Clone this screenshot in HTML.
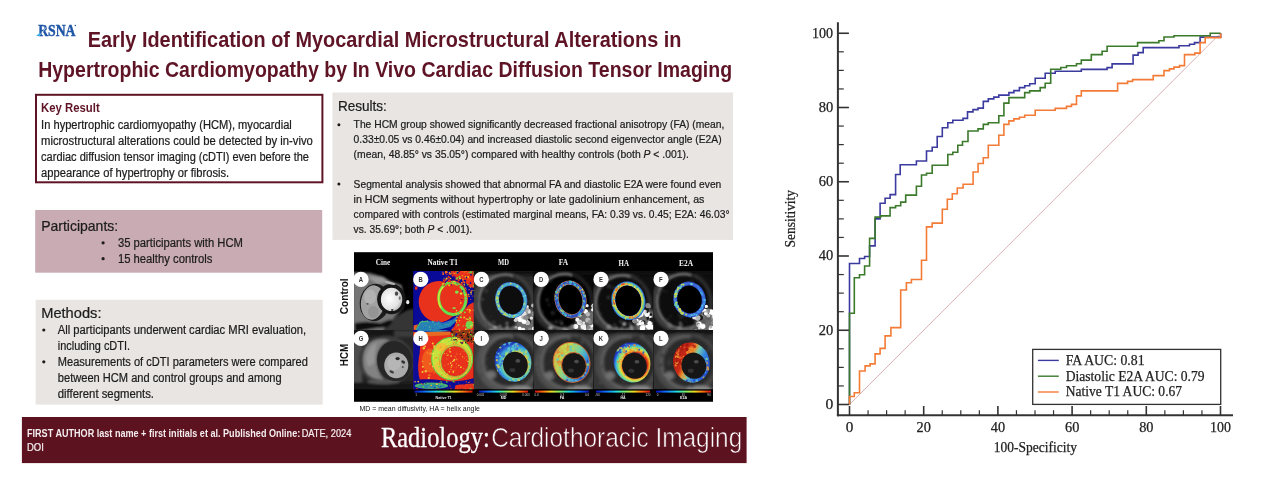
<!DOCTYPE html>
<html lang="en"><head><meta charset="utf-8"><title>Early Identification of Myocardial Microstructural Alterations in Hypertrophic Cardiomyopathy</title>
<style>
html,body{margin:0;padding:0;background:#fff;}
body{width:1269px;height:479px;overflow:hidden;position:relative;}
svg{display:block;position:absolute;left:0;top:0;}
.ss{font-family:"Liberation Sans", Arial, Helvetica, sans-serif;}
.sf{font-family:"Liberation Serif", "Times New Roman", serif;}
text{white-space:pre;}
</style></head><body>
<svg width="1269" height="479" viewBox="0 0 1269 479">
<rect x="0" y="0" width="1269" height="479" fill="#ffffff"/>

<g id="slide">
<text class="sf" x="38.2" y="35.8" font-size="16.80" font-weight="bold" fill="#1f55a6" textLength="37.3" lengthAdjust="spacingAndGlyphs" stroke="#1f55a6" stroke-width="0.45" >RSNA</text>
<path d="M39.6 35.2 Q43.5 31.5 46.6 26.6" fill="none" stroke="#ffffff" stroke-width="0.7" opacity="0.85"/>
<polygon points="35.9,36.1 40.1,32.4 40.1,36.1" fill="#41aee8"/>
<circle cx="75.3" cy="25.6" r="0.75" fill="#1f55a6"/>
<text class="ss" x="87.8" y="47.1" font-size="22.00" font-weight="bold" fill="#5f1426" textLength="593.6" lengthAdjust="spacingAndGlyphs" >Early Identification of Myocardial Microstructural Alterations in</text>
<text class="ss" x="38.2" y="77.2" font-size="22.00" font-weight="bold" fill="#5f1426" textLength="693.9" lengthAdjust="spacingAndGlyphs" >Hypertrophic Cardiomyopathy by In Vivo Cardiac Diffusion Tensor Imaging</text>
<rect x="36" y="94.8" width="286.4" height="87.5" fill="#ffffff" stroke="#5f1426" stroke-width="2"/>
<text class="ss" x="41.1" y="112.3" font-size="12.10" font-weight="bold" fill="#5f1426" textLength="58.6" lengthAdjust="spacingAndGlyphs" >Key Result</text>
<text class="ss" x="41.1" y="129.0" font-size="12.00" fill="#1c1c1c" textLength="250.7" lengthAdjust="spacingAndGlyphs" stroke="#1c1c1c" stroke-width="0.22" >In hypertrophic cardiomyopathy (HCM), myocardial</text>
<text class="ss" x="41.1" y="144.9" font-size="12.00" fill="#1c1c1c" textLength="271.7" lengthAdjust="spacingAndGlyphs" stroke="#1c1c1c" stroke-width="0.22" >microstructural alterations could be detected by in-vivo</text>
<text class="ss" x="41.1" y="160.8" font-size="12.00" fill="#1c1c1c" textLength="267.9" lengthAdjust="spacingAndGlyphs" stroke="#1c1c1c" stroke-width="0.22" >cardiac diffusion tensor imaging (cDTI) even before the</text>
<text class="ss" x="41.1" y="176.7" font-size="12.00" fill="#1c1c1c" textLength="188.1" lengthAdjust="spacingAndGlyphs" stroke="#1c1c1c" stroke-width="0.22" >appearance of hypertrophy or fibrosis.</text>
<rect x="35.2" y="210" width="287" height="62.7" fill="#c9abb3"/>
<text class="ss" x="41.2" y="230.9" font-size="14.50" fill="#1c1c1c" textLength="77.0" lengthAdjust="spacingAndGlyphs" stroke="#1c1c1c" stroke-width="0.22" >Participants:</text>
<circle cx="103.1" cy="242.8" r="1.6" fill="#1c1c1c"/>
<circle cx="103.1" cy="258.7" r="1.6" fill="#1c1c1c"/>
<text class="ss" x="117.9" y="247.0" font-size="12.00" fill="#1c1c1c" textLength="125.1" lengthAdjust="spacingAndGlyphs" stroke="#1c1c1c" stroke-width="0.22" >35 participants with HCM</text>
<text class="ss" x="117.9" y="262.7" font-size="12.00" fill="#1c1c1c" textLength="94.6" lengthAdjust="spacingAndGlyphs" stroke="#1c1c1c" stroke-width="0.22" >15 healthy controls</text>
<rect x="35.6" y="299.8" width="287.1" height="104.8" fill="#e9e5e3"/>
<text class="ss" x="41.2" y="318.2" font-size="14.50" fill="#1c1c1c" textLength="60.3" lengthAdjust="spacingAndGlyphs" stroke="#1c1c1c" stroke-width="0.22" >Methods:</text>
<text class="ss" x="57.8" y="334.3" font-size="12.00" fill="#1c1c1c" textLength="248.3" lengthAdjust="spacingAndGlyphs" stroke="#1c1c1c" stroke-width="0.22" >All participants underwent cardiac MRI evaluation,</text>
<text class="ss" x="57.8" y="350.2" font-size="12.00" fill="#1c1c1c" textLength="72.2" lengthAdjust="spacingAndGlyphs" stroke="#1c1c1c" stroke-width="0.22" >including cDTI.</text>
<text class="ss" x="57.8" y="366.1" font-size="12.00" fill="#1c1c1c" textLength="250.0" lengthAdjust="spacingAndGlyphs" stroke="#1c1c1c" stroke-width="0.22" >Measurements of cDTI parameters were compared</text>
<text class="ss" x="57.8" y="382.0" font-size="12.00" fill="#1c1c1c" textLength="223.9" lengthAdjust="spacingAndGlyphs" stroke="#1c1c1c" stroke-width="0.22" >between HCM and control groups and among</text>
<text class="ss" x="57.8" y="397.9" font-size="12.00" fill="#1c1c1c" textLength="96.2" lengthAdjust="spacingAndGlyphs" stroke="#1c1c1c" stroke-width="0.22" >different segments.</text>
<circle cx="43.8" cy="330.0" r="1.6" fill="#1c1c1c"/>
<circle cx="43.8" cy="361.8" r="1.6" fill="#1c1c1c"/>
<rect x="332.5" y="92.5" width="400.5" height="147.4" fill="#e9e5e3"/>
<text class="ss" x="337.9" y="110.9" font-size="14.50" fill="#1c1c1c" textLength="49.0" lengthAdjust="spacingAndGlyphs" stroke="#1c1c1c" stroke-width="0.22" >Results:</text>
<text class="ss" x="353.6" y="128.4" font-size="11.10" fill="#1c1c1c" textLength="370.8" lengthAdjust="spacingAndGlyphs" stroke="#1c1c1c" stroke-width="0.22" >The HCM group showed significantly decreased fractional anisotropy (FA) (mean,</text>
<text class="ss" x="353.6" y="143.3" font-size="11.10" fill="#1c1c1c" textLength="368.0" lengthAdjust="spacingAndGlyphs" stroke="#1c1c1c" stroke-width="0.22" >0.33±0.05 vs 0.46±0.04) and increased diastolic second eigenvector angle (E2A)</text>
<text class="ss" x="353.6" y="158.3" font-size="11.10" fill="#1c1c1c" textLength="335.2" lengthAdjust="spacingAndGlyphs" stroke="#1c1c1c" stroke-width="0.22" >(mean, 48.85° vs 35.05°) compared with healthy controls (both <tspan font-style="italic">P</tspan> &lt; .001).</text>
<text class="ss" x="353.6" y="187.6" font-size="11.10" fill="#1c1c1c" textLength="367.7" lengthAdjust="spacingAndGlyphs" stroke="#1c1c1c" stroke-width="0.22" >Segmental analysis showed that abnormal FA and diastolic E2A were found even</text>
<text class="ss" x="353.6" y="202.6" font-size="11.10" fill="#1c1c1c" textLength="350.8" lengthAdjust="spacingAndGlyphs" stroke="#1c1c1c" stroke-width="0.22" >in HCM segments without hypertrophy or late gadolinium enhancement, as</text>
<text class="ss" x="353.6" y="217.6" font-size="11.10" fill="#1c1c1c" textLength="375.9" lengthAdjust="spacingAndGlyphs" stroke="#1c1c1c" stroke-width="0.22" >compared with controls (estimated marginal means, FA: 0.39 vs. 0.45; E2A: 46.03°</text>
<text class="ss" x="353.6" y="232.5" font-size="11.10" fill="#1c1c1c" textLength="118.6" lengthAdjust="spacingAndGlyphs" stroke="#1c1c1c" stroke-width="0.22" >vs. 35.69°; both <tspan font-style="italic">P</tspan> &lt; .001).</text>
<circle cx="338.9" cy="124.8" r="1.5" fill="#1c1c1c"/>
<circle cx="338.9" cy="184.0" r="1.5" fill="#1c1c1c"/>
<rect x="21.9" y="417" width="724.7" height="46.1" fill="#5d1220"/>
<text class="ss" x="27.0" y="436.9" font-size="10.20" font-weight="bold" fill="#f4eeee" textLength="273.2" lengthAdjust="spacingAndGlyphs" >FIRST AUTHOR last name + first initials et al. Published Online:</text>
<text class="ss" x="301.7" y="436.9" font-size="10.20" fill="#f4eeee" textLength="49.6" lengthAdjust="spacingAndGlyphs" stroke="#f4eeee" stroke-width="0.22" >DATE, 2024</text>
<text class="ss" x="27.0" y="450.7" font-size="10.20" fill="#f4eeee" textLength="16.9" lengthAdjust="spacingAndGlyphs" stroke="#f4eeee" stroke-width="0.22" >DOI</text>
<text class="sf" x="380.9" y="447.4" font-size="30.20" fill="#ffffff" textLength="108.8" lengthAdjust="spacingAndGlyphs" stroke="#ffffff" stroke-width="0.28" >Radiology:</text>
<text class="ss" x="491.2" y="447.4" font-size="28.00" fill="#ffffff" textLength="251.1" lengthAdjust="spacingAndGlyphs" stroke="#5d1220" stroke-width="0.7">Cardiothoracic Imaging</text>
<text class="ss" x="359.4" y="411.3" font-size="6.60" fill="#111" textLength="120.5" lengthAdjust="spacingAndGlyphs" >MD = mean diffusivity, HA = helix angle</text>
</g>
<g id="mri">
<defs>
<filter id="b03" x="-20%" y="-20%" width="140%" height="140%"><feGaussianBlur stdDeviation="0.35"/></filter>
<filter id="b06" x="-20%" y="-20%" width="140%" height="140%"><feGaussianBlur stdDeviation="0.6"/></filter>
<filter id="b1" x="-30%" y="-30%" width="160%" height="160%"><feGaussianBlur stdDeviation="1"/></filter>
<filter id="b15" x="-30%" y="-30%" width="160%" height="160%"><feGaussianBlur stdDeviation="1.6"/></filter>
<filter id="z3" x="-20%" y="-20%" width="140%" height="140%"><feGaussianBlur stdDeviation="3"/></filter>
<filter id="z6" x="-20%" y="-20%" width="140%" height="140%"><feGaussianBlur stdDeviation="6"/></filter>
<filter id="z10" x="-30%" y="-30%" width="160%" height="160%"><feGaussianBlur stdDeviation="10"/></filter>
<linearGradient id="jet" x1="0" x2="1" y1="0" y2="0">
<stop offset="0" stop-color="#0a10b0"/><stop offset="0.18" stop-color="#1070ff"/><stop offset="0.38" stop-color="#20e0e0"/><stop offset="0.55" stop-color="#80f060"/><stop offset="0.7" stop-color="#f0e020"/><stop offset="0.85" stop-color="#ff7010"/><stop offset="1" stop-color="#d01010"/></linearGradient>
<linearGradient id="jetr" x1="1" x2="0" y1="0" y2="0">
<stop offset="0" stop-color="#0a10b0"/><stop offset="0.18" stop-color="#1070ff"/><stop offset="0.38" stop-color="#20e0e0"/><stop offset="0.55" stop-color="#80f060"/><stop offset="0.7" stop-color="#f0e020"/><stop offset="0.85" stop-color="#ff7010"/><stop offset="1" stop-color="#d01010"/></linearGradient>
<radialGradient id="lvA" cx="0.4" cy="0.45" r="0.65"><stop offset="0" stop-color="#ffffff"/><stop offset="0.7" stop-color="#e2e2e2"/><stop offset="1" stop-color="#b0b0b0"/></radialGradient>

<clipPath id="cA"><rect x="354.0" y="271.0" width="59.1" height="59.0"/></clipPath>
<clipPath id="cB"><rect x="413.1" y="271.0" width="60.7" height="59.0"/></clipPath>
<clipPath id="cC"><rect x="473.8" y="271.0" width="59.8" height="59.0"/></clipPath>
<clipPath id="cD"><rect x="533.6" y="271.0" width="59.7" height="59.0"/></clipPath>
<clipPath id="cE"><rect x="593.3" y="271.0" width="60.0" height="59.0"/></clipPath>
<clipPath id="cF"><rect x="653.3" y="271.0" width="59.7" height="59.0"/></clipPath>
<clipPath id="cG"><rect x="354.0" y="330.0" width="59.1" height="59.3"/></clipPath>
<clipPath id="cH"><rect x="413.1" y="330.0" width="60.7" height="59.3"/></clipPath>
<clipPath id="cI"><rect x="473.8" y="330.0" width="59.8" height="59.3"/></clipPath>
<clipPath id="cJ"><rect x="533.6" y="330.0" width="59.7" height="59.3"/></clipPath>
<clipPath id="cK"><rect x="593.3" y="330.0" width="60.0" height="59.3"/></clipPath>
<clipPath id="cL"><rect x="653.3" y="330.0" width="59.7" height="59.3"/></clipPath>
</defs>
<rect x="354.0" y="252.2" width="359.0" height="149.6" fill="#000"/>
<g clip-path="url(#cA)">
<rect x="354.0" y="271.0" width="59.1" height="59.0" fill="#000"/>
<g transform="translate(350,268) scale(0.13369)">
<g filter="url(#z6)">
<path d="M20 30 L150 38 L250 66 L300 98 L385 128 L400 200 L396 300 L330 370 L300 490 L20 490 Z" fill="#747474"/>
<path d="M120 60 L250 70 L290 110 L200 118 Z" fill="#9a9a9a"/>
<path d="M345 360 L430 315 L500 300 L500 490 L245 490 L262 425 Z" fill="#343434"/>
<path d="M35 412 L120 402 L230 412 L300 386 L318 402 L285 442 L200 448 L60 474 L35 474 Z" fill="#0a0a0a"/>
</g>
<g filter="url(#z3)">
<ellipse cx="185" cy="258" rx="112" ry="140" fill="#1c1c1c" transform="rotate(8 185 258)"/>
<ellipse cx="170" cy="258" rx="88" ry="129" fill="#a2a2a2" transform="rotate(8 170 258)"/>
<ellipse cx="150" cy="215" rx="45" ry="55" fill="#b2b2b2"/>
<ellipse cx="175" cy="330" rx="40" ry="45" fill="#949494"/>
<ellipse cx="310" cy="233" rx="107" ry="113" fill="#151515"/>
<ellipse cx="311" cy="235" rx="80" ry="87" fill="url(#lvA)"/>
<ellipse cx="348" cy="192" rx="13" ry="16" fill="#4a4a4a"/>
<ellipse cx="372" cy="225" rx="8" ry="14" fill="#777"/>
<ellipse cx="316" cy="314" rx="10" ry="7" fill="#444"/>
<ellipse cx="131" cy="268" rx="9" ry="7" fill="#505050"/>
<ellipse cx="432" cy="256" rx="12" ry="16" fill="#eaeaea"/>
<ellipse cx="300" cy="112" rx="40" ry="10" fill="#b0b0b0" transform="rotate(15 300 112)"/>
</g>
</g>
</g>
<g clip-path="url(#cG)">
<rect x="354.0" y="330.0" width="59.1" height="59.3" fill="#262626"/>
<g transform="translate(350,327) scale(0.13369)">
<g filter="url(#z6)">
<rect x="20" y="15" width="480" height="55" fill="#161616"/>
<rect x="330" y="25" width="150" height="50" fill="#3a3a3a"/>
<rect x="20" y="90" width="70" height="330" fill="#4e4e4e"/>
<ellipse cx="270" cy="250" rx="205" ry="185" fill="#3a3a3a"/>
<rect x="20" y="415" width="480" height="60" fill="#161616"/>
<ellipse cx="250" cy="410" rx="120" ry="18" fill="#555"/>
</g>
<g filter="url(#z6)">
<path d="M95 250 Q95 130 190 95 Q260 78 300 100 Q215 130 200 230 Q195 330 255 395 Q150 400 110 330 Q95 295 95 250 Z" fill="#828282"/>
<path d="M120 230 Q135 150 200 115 Q180 200 185 260 Q160 300 130 290 Z" fill="#969696"/>
</g>
<g filter="url(#z3)">
<ellipse cx="335" cy="255" rx="132" ry="150" fill="#272727" transform="rotate(-10 335 255)"/>
<ellipse cx="346" cy="287" rx="90" ry="96" fill="#ababab"/>
<ellipse cx="330" cy="270" rx="50" ry="55" fill="#b6b6b6"/>
<ellipse cx="356" cy="236" rx="16" ry="12" fill="#2a2a2a"/>
<ellipse cx="398" cy="262" rx="16" ry="10" fill="#333" transform="rotate(30 398 262)"/>
<ellipse cx="312" cy="336" rx="18" ry="9" fill="#3a3a3a" transform="rotate(25 312 336)"/>
<ellipse cx="395" cy="300" rx="8" ry="8" fill="#555"/>
</g>
</g>
</g>
<g clip-path="url(#cB)">
<rect x="413.1" y="271.0" width="60.7" height="59.0" fill="#0a0a98"/>
<g transform="translate(410,268) scale(0.13369)">
<g filter="url(#z3)">
<path d="M300 20 L480 20 L480 150 L440 140 L410 90 L340 70 Z" fill="#e8301c"/>
<path d="M480 255 L440 275 L400 320 L360 365 L330 440 L300 470 L480 470 Z" fill="#e8301c"/>
<ellipse cx="215" cy="252" rx="150" ry="155" fill="#e8301c"/>
<ellipse cx="318" cy="228" rx="116" ry="134" fill="#e8301c"/>
<ellipse cx="316" cy="228" rx="101" ry="120" fill="none" stroke="#62e04e" stroke-width="21" transform="rotate(-8 316 228)"/>
<path d="M232 300 A101 120 -8 0 1 250 140" fill="none" stroke="#d2e636" stroke-width="12"/>
<ellipse cx="350" cy="180" rx="14" ry="12" fill="#80e050"/>
<ellipse cx="382" cy="192" rx="10" ry="8" fill="#d0e040"/>
<ellipse cx="330" cy="300" rx="14" ry="7" fill="#80e050"/>
<ellipse cx="380" cy="262" rx="6" ry="9" fill="#f0a030"/>
<path d="M40 466 L75 402 L135 394 L250 410 L320 386 L356 358 L342 402 L300 442 L200 466 Z" fill="#2682b4"/>
<path d="M44 462 L78 404 L135 396" fill="none" stroke="#58d058" stroke-width="7"/>
<path d="M135 396 L250 412 L320 388 L354 360" fill="none" stroke="#3a50c8" stroke-width="5"/>
<path d="M27 430 L60 420 L40 466 L27 466 Z" fill="#e86020"/>
<ellipse cx="445" cy="425" rx="28" ry="30" fill="#70d850"/>
<ellipse cx="46" cy="150" rx="10" ry="14" fill="#e8301c"/>
</g>
</g>
<g filter="url(#b03)" opacity="1.00"><circle cx="457.0" cy="279.4" r="1.1" fill="#ff6a1a"/><circle cx="457.0" cy="283.8" r="0.6" fill="#0a0a98"/><circle cx="458.8" cy="280.4" r="1.0" fill="#e8301c"/><circle cx="456.8" cy="273.1" r="0.8" fill="#60d040"/><circle cx="462.6" cy="279.9" r="0.7" fill="#ff6a1a"/><circle cx="463.2" cy="280.2" r="0.6" fill="#e8301c"/><circle cx="468.6" cy="271.9" r="0.5" fill="#e8301c"/><circle cx="461.5" cy="282.7" r="0.7" fill="#f0c020"/><circle cx="469.0" cy="278.8" r="0.9" fill="#ff6a1a"/><circle cx="443.2" cy="272.3" r="0.9" fill="#ff6a1a"/><circle cx="473.7" cy="285.9" r="1.0" fill="#60d040"/><circle cx="450.9" cy="282.4" r="0.8" fill="#e8301c"/><circle cx="445.3" cy="282.5" r="0.7" fill="#0a0a98"/><circle cx="452.0" cy="272.0" r="0.5" fill="#60d040"/><circle cx="443.1" cy="274.1" r="1.0" fill="#ff6a1a"/><circle cx="454.6" cy="281.6" r="0.8" fill="#f0c020"/><circle cx="462.4" cy="282.7" r="0.7" fill="#e8301c"/><circle cx="452.7" cy="271.2" r="0.7" fill="#e8301c"/><circle cx="447.2" cy="281.6" r="0.5" fill="#ff6a1a"/><circle cx="467.6" cy="273.7" r="0.8" fill="#ff6a1a"/><circle cx="458.7" cy="285.8" r="1.0" fill="#ff6a1a"/><circle cx="462.9" cy="272.7" r="0.8" fill="#e8301c"/><circle cx="443.1" cy="284.0" r="1.1" fill="#f0c020"/><circle cx="452.4" cy="284.3" r="0.6" fill="#ff6a1a"/><circle cx="473.7" cy="280.0" r="0.8" fill="#e8301c"/><circle cx="473.5" cy="274.2" r="0.7" fill="#0a0a98"/><circle cx="461.8" cy="283.5" r="0.7" fill="#e8301c"/><circle cx="445.9" cy="279.7" r="0.6" fill="#f0c020"/><circle cx="454.4" cy="280.3" r="0.6" fill="#f0c020"/><circle cx="458.0" cy="279.6" r="1.0" fill="#e8301c"/><circle cx="462.4" cy="275.7" r="0.6" fill="#f0c020"/><circle cx="450.8" cy="273.8" r="0.9" fill="#f0c020"/><circle cx="449.1" cy="285.3" r="1.0" fill="#f0c020"/><circle cx="445.5" cy="271.7" r="0.6" fill="#f0c020"/><circle cx="472.7" cy="274.6" r="0.9" fill="#e8301c"/><circle cx="456.0" cy="284.6" r="0.8" fill="#f0c020"/><circle cx="448.5" cy="281.8" r="0.5" fill="#e8301c"/><circle cx="457.8" cy="280.8" r="0.9" fill="#e8301c"/><circle cx="451.7" cy="284.8" r="0.6" fill="#e8301c"/><circle cx="445.2" cy="277.2" r="0.6" fill="#e8301c"/><circle cx="448.5" cy="276.5" r="0.8" fill="#e8301c"/><circle cx="445.9" cy="273.1" r="0.8" fill="#e8301c"/><circle cx="463.3" cy="281.4" r="0.9" fill="#e8301c"/><circle cx="461.2" cy="284.9" r="0.8" fill="#e8301c"/><circle cx="464.6" cy="285.4" r="0.5" fill="#60d040"/><circle cx="445.4" cy="272.0" r="0.7" fill="#e8301c"/><circle cx="473.8" cy="272.1" r="0.8" fill="#60d040"/><circle cx="444.5" cy="285.0" r="0.9" fill="#e8301c"/><circle cx="467.5" cy="284.7" r="0.7" fill="#60d040"/><circle cx="457.6" cy="272.2" r="1.0" fill="#0a0a98"/><circle cx="444.0" cy="278.5" r="0.5" fill="#60d040"/><circle cx="454.8" cy="279.7" r="0.9" fill="#e8301c"/><circle cx="445.9" cy="272.7" r="0.7" fill="#ff6a1a"/><circle cx="465.5" cy="276.8" r="0.9" fill="#f0c020"/><circle cx="457.2" cy="277.9" r="0.8" fill="#f0c020"/><circle cx="466.1" cy="271.4" r="0.9" fill="#ff6a1a"/><circle cx="443.8" cy="285.4" r="0.6" fill="#0a0a98"/><circle cx="462.0" cy="284.8" r="0.7" fill="#e8301c"/><circle cx="454.4" cy="273.1" r="0.9" fill="#f0c020"/><circle cx="448.3" cy="284.6" r="0.9" fill="#ff6a1a"/><circle cx="458.4" cy="274.6" r="0.7" fill="#e8301c"/><circle cx="449.2" cy="277.5" r="1.0" fill="#e8301c"/><circle cx="470.1" cy="276.8" r="0.8" fill="#e8301c"/><circle cx="449.5" cy="273.0" r="0.7" fill="#0a0a98"/><circle cx="444.3" cy="272.0" r="1.1" fill="#0a0a98"/><circle cx="448.3" cy="277.8" r="0.7" fill="#e8301c"/><circle cx="468.6" cy="276.7" r="0.8" fill="#60d040"/><circle cx="452.8" cy="283.6" r="1.1" fill="#ff6a1a"/><circle cx="452.9" cy="283.4" r="0.7" fill="#f0c020"/><circle cx="444.4" cy="281.6" r="0.8" fill="#e8301c"/><circle cx="463.0" cy="279.5" r="0.9" fill="#ff6a1a"/><circle cx="457.1" cy="271.4" r="1.0" fill="#e8301c"/><circle cx="467.0" cy="283.0" r="1.1" fill="#e8301c"/><circle cx="456.8" cy="280.4" r="0.9" fill="#0a0a98"/><circle cx="454.4" cy="272.2" r="0.6" fill="#0a0a98"/><circle cx="457.7" cy="273.7" r="0.5" fill="#ff6a1a"/><circle cx="459.5" cy="271.5" r="0.6" fill="#0a0a98"/><circle cx="453.7" cy="281.5" r="0.8" fill="#f0c020"/><circle cx="473.7" cy="273.4" r="1.0" fill="#60d040"/><circle cx="470.9" cy="272.3" r="1.1" fill="#60d040"/><circle cx="455.0" cy="277.8" r="0.6" fill="#e8301c"/><circle cx="454.7" cy="279.5" r="1.0" fill="#0a0a98"/><circle cx="468.3" cy="276.1" r="0.7" fill="#e8301c"/><circle cx="446.1" cy="284.0" r="1.0" fill="#60d040"/><circle cx="446.9" cy="274.6" r="0.7" fill="#e8301c"/><circle cx="473.1" cy="279.1" r="1.0" fill="#e8301c"/><circle cx="451.1" cy="281.8" r="0.5" fill="#f0c020"/><circle cx="445.6" cy="277.6" r="0.8" fill="#0a0a98"/><circle cx="451.6" cy="284.8" r="0.6" fill="#0a0a98"/><circle cx="445.1" cy="283.0" r="0.6" fill="#e8301c"/><circle cx="464.2" cy="284.7" r="0.8" fill="#f0c020"/><circle cx="470.7" cy="278.8" r="0.9" fill="#ff6a1a"/><circle cx="472.1" cy="278.4" r="1.1" fill="#e8301c"/><circle cx="466.4" cy="277.6" r="0.8" fill="#0a0a98"/><circle cx="465.5" cy="280.6" r="0.8" fill="#0a0a98"/><circle cx="471.0" cy="274.8" r="0.9" fill="#0a0a98"/><circle cx="469.8" cy="280.1" r="0.7" fill="#e8301c"/><circle cx="472.8" cy="278.9" r="0.8" fill="#e8301c"/><circle cx="455.7" cy="272.7" r="0.5" fill="#ff6a1a"/><circle cx="444.0" cy="285.5" r="0.8" fill="#ff6a1a"/><circle cx="459.8" cy="285.8" r="0.6" fill="#e8301c"/><circle cx="464.3" cy="272.0" r="0.8" fill="#ff6a1a"/><circle cx="471.4" cy="283.0" r="0.7" fill="#e8301c"/><circle cx="457.6" cy="272.9" r="0.8" fill="#0a0a98"/><circle cx="471.8" cy="284.8" r="0.8" fill="#e8301c"/><circle cx="449.0" cy="280.3" r="1.1" fill="#e8301c"/><circle cx="464.7" cy="285.7" r="0.5" fill="#e8301c"/><circle cx="450.1" cy="281.3" r="0.7" fill="#e8301c"/><circle cx="450.6" cy="278.5" r="0.8" fill="#f0c020"/><circle cx="446.9" cy="278.7" r="0.7" fill="#e8301c"/><circle cx="464.6" cy="284.2" r="0.5" fill="#60d040"/><circle cx="455.8" cy="278.9" r="0.6" fill="#e8301c"/><circle cx="469.6" cy="279.0" r="0.6" fill="#e8301c"/><circle cx="469.2" cy="280.2" r="1.0" fill="#e8301c"/><circle cx="471.2" cy="280.4" r="0.7" fill="#e8301c"/><circle cx="452.8" cy="275.7" r="1.1" fill="#e8301c"/><circle cx="467.0" cy="273.9" r="0.6" fill="#e8301c"/><circle cx="447.2" cy="272.3" r="0.7" fill="#ff6a1a"/><circle cx="468.6" cy="277.3" r="1.0" fill="#e8301c"/><circle cx="449.3" cy="280.4" r="1.0" fill="#e8301c"/><circle cx="449.3" cy="281.2" r="1.0" fill="#e8301c"/><circle cx="446.6" cy="278.6" r="1.0" fill="#f0c020"/><circle cx="473.8" cy="283.5" r="1.0" fill="#ff6a1a"/><circle cx="446.4" cy="271.6" r="0.8" fill="#f0c020"/><circle cx="470.9" cy="278.2" r="0.6" fill="#e8301c"/><circle cx="449.4" cy="283.6" r="1.1" fill="#60d040"/><circle cx="446.0" cy="271.9" r="1.1" fill="#ff6a1a"/><circle cx="445.5" cy="272.5" r="0.7" fill="#ff6a1a"/><circle cx="458.9" cy="277.5" r="0.9" fill="#e8301c"/><circle cx="462.6" cy="271.6" r="0.6" fill="#ff6a1a"/><circle cx="457.0" cy="282.1" r="0.7" fill="#e8301c"/><circle cx="461.7" cy="272.4" r="1.0" fill="#e8301c"/><circle cx="470.5" cy="283.0" r="0.9" fill="#0a0a98"/><circle cx="471.0" cy="285.1" r="0.8" fill="#e8301c"/><circle cx="458.6" cy="285.7" r="1.0" fill="#e8301c"/><circle cx="451.7" cy="272.7" r="0.9" fill="#e8301c"/><circle cx="468.1" cy="277.1" r="1.0" fill="#f0c020"/><circle cx="464.4" cy="282.5" r="1.0" fill="#ff6a1a"/><circle cx="449.4" cy="273.8" r="1.0" fill="#e8301c"/><circle cx="457.5" cy="271.2" r="0.7" fill="#60d040"/><circle cx="470.8" cy="271.7" r="0.7" fill="#60d040"/><circle cx="452.3" cy="274.2" r="0.7" fill="#e8301c"/><circle cx="459.5" cy="276.8" r="1.1" fill="#60d040"/><circle cx="449.6" cy="272.8" r="0.7" fill="#f0c020"/><circle cx="443.8" cy="280.2" r="0.9" fill="#e8301c"/><circle cx="456.7" cy="278.6" r="1.0" fill="#60d040"/><circle cx="454.6" cy="272.5" r="0.7" fill="#e8301c"/><circle cx="460.0" cy="278.6" r="1.1" fill="#f0c020"/><circle cx="469.1" cy="272.5" r="0.8" fill="#60d040"/><circle cx="445.4" cy="280.0" r="1.0" fill="#e8301c"/></g>
<g filter="url(#b03)" opacity="1.00"><circle cx="466.0" cy="299.9" r="0.6" fill="#ff6a1a"/><circle cx="472.0" cy="292.8" r="0.7" fill="#0a0a98"/><circle cx="473.1" cy="290.6" r="0.7" fill="#f0c020"/><circle cx="465.7" cy="288.1" r="0.7" fill="#f0c020"/><circle cx="469.5" cy="296.5" r="0.4" fill="#ff6a1a"/><circle cx="468.5" cy="294.4" r="0.6" fill="#0a0a98"/><circle cx="461.8" cy="288.7" r="0.6" fill="#f0c020"/><circle cx="462.0" cy="299.3" r="0.6" fill="#0a0a98"/><circle cx="464.3" cy="296.6" r="0.4" fill="#e8301c"/><circle cx="473.0" cy="296.0" r="0.6" fill="#ff6a1a"/><circle cx="468.8" cy="285.1" r="0.7" fill="#0a0a98"/><circle cx="462.6" cy="298.5" r="0.6" fill="#ff6a1a"/><circle cx="462.7" cy="291.0" r="0.7" fill="#0a0a98"/><circle cx="468.7" cy="294.5" r="0.7" fill="#f0c020"/><circle cx="471.0" cy="292.6" r="0.9" fill="#f0c020"/><circle cx="470.4" cy="287.3" r="0.5" fill="#f0c020"/><circle cx="471.1" cy="294.2" r="0.6" fill="#f0c020"/><circle cx="468.8" cy="296.1" r="0.7" fill="#ff6a1a"/><circle cx="469.1" cy="296.6" r="0.5" fill="#ff6a1a"/><circle cx="467.5" cy="294.8" r="0.5" fill="#e8301c"/><circle cx="469.1" cy="283.2" r="0.5" fill="#e8301c"/><circle cx="469.0" cy="284.8" r="0.7" fill="#e8301c"/><circle cx="470.7" cy="299.4" r="0.5" fill="#ff6a1a"/><circle cx="469.1" cy="289.7" r="0.6" fill="#ff6a1a"/><circle cx="465.4" cy="291.9" r="0.5" fill="#e8301c"/><circle cx="471.3" cy="291.1" r="0.8" fill="#ff6a1a"/><circle cx="466.7" cy="296.5" r="0.6" fill="#ff6a1a"/><circle cx="465.8" cy="294.8" r="0.9" fill="#f0c020"/><circle cx="464.8" cy="296.7" r="0.8" fill="#ff6a1a"/><circle cx="466.5" cy="289.6" r="0.4" fill="#f0c020"/></g>
<g filter="url(#b03)" opacity="1.00"><circle cx="456.6" cy="310.7" r="0.7" fill="#f0e040"/><circle cx="470.3" cy="318.7" r="0.9" fill="#f0c020"/><circle cx="456.5" cy="313.5" r="0.8" fill="#f0c020"/><circle cx="468.1" cy="319.4" r="0.9" fill="#70e040"/><circle cx="460.4" cy="312.0" r="0.6" fill="#70e040"/><circle cx="462.0" cy="311.5" r="0.8" fill="#70e040"/><circle cx="463.3" cy="325.9" r="0.6" fill="#70e040"/><circle cx="459.2" cy="329.3" r="0.8" fill="#ff8a1a"/><circle cx="456.7" cy="326.4" r="0.4" fill="#f0e040"/><circle cx="466.0" cy="325.7" r="0.8" fill="#70e040"/><circle cx="470.0" cy="320.4" r="0.9" fill="#ff8a1a"/><circle cx="458.4" cy="324.9" r="0.9" fill="#70e040"/><circle cx="470.3" cy="313.6" r="0.4" fill="#ff8a1a"/><circle cx="465.7" cy="329.3" r="0.8" fill="#f0e040"/><circle cx="456.3" cy="320.5" r="0.9" fill="#f0c020"/><circle cx="461.4" cy="314.7" r="0.5" fill="#70e040"/><circle cx="456.7" cy="322.3" r="0.5" fill="#f0e040"/><circle cx="459.7" cy="313.6" r="0.9" fill="#70e040"/><circle cx="469.4" cy="317.3" r="0.6" fill="#70e040"/><circle cx="467.7" cy="319.4" r="0.7" fill="#f0c020"/><circle cx="468.3" cy="328.2" r="0.6" fill="#70e040"/><circle cx="471.1" cy="325.9" r="0.9" fill="#f0e040"/><circle cx="473.0" cy="322.4" r="0.7" fill="#f0c020"/><circle cx="470.1" cy="317.9" r="0.7" fill="#ff8a1a"/><circle cx="459.7" cy="312.4" r="0.8" fill="#ff8a1a"/><circle cx="461.1" cy="317.2" r="0.7" fill="#70e040"/><circle cx="473.2" cy="310.2" r="0.6" fill="#f0c020"/><circle cx="460.8" cy="312.3" r="1.0" fill="#f0c020"/><circle cx="469.2" cy="309.4" r="0.7" fill="#f0c020"/><circle cx="460.9" cy="313.2" r="0.6" fill="#ff8a1a"/><circle cx="466.3" cy="318.9" r="0.7" fill="#f0e040"/><circle cx="458.6" cy="314.9" r="0.5" fill="#70e040"/><circle cx="466.8" cy="328.8" r="0.7" fill="#70e040"/><circle cx="464.2" cy="317.5" r="1.0" fill="#f0c020"/><circle cx="464.1" cy="313.6" r="0.4" fill="#ff8a1a"/><circle cx="470.1" cy="317.1" r="0.7" fill="#70e040"/><circle cx="469.8" cy="310.2" r="1.0" fill="#f0c020"/><circle cx="471.4" cy="328.0" r="0.7" fill="#ff8a1a"/><circle cx="468.4" cy="321.7" r="0.5" fill="#ff8a1a"/><circle cx="469.5" cy="312.0" r="0.9" fill="#ff8a1a"/><circle cx="467.0" cy="329.9" r="0.6" fill="#f0c020"/><circle cx="457.9" cy="325.2" r="0.4" fill="#ff8a1a"/><circle cx="470.5" cy="310.7" r="0.6" fill="#f0c020"/><circle cx="471.7" cy="323.6" r="0.4" fill="#70e040"/><circle cx="455.5" cy="312.9" r="0.5" fill="#f0c020"/><circle cx="469.7" cy="318.2" r="0.4" fill="#f0e040"/><circle cx="464.9" cy="312.3" r="0.9" fill="#70e040"/><circle cx="461.0" cy="317.5" r="0.7" fill="#f0e040"/><circle cx="467.6" cy="310.4" r="0.4" fill="#ff8a1a"/><circle cx="457.1" cy="317.3" r="0.7" fill="#f0c020"/><circle cx="467.3" cy="309.3" r="0.6" fill="#f0e040"/><circle cx="459.5" cy="320.8" r="0.7" fill="#f0c020"/><circle cx="471.1" cy="326.7" r="0.8" fill="#ff8a1a"/><circle cx="460.5" cy="316.9" r="0.7" fill="#70e040"/><circle cx="472.9" cy="324.9" r="0.7" fill="#f0c020"/></g>
<g filter="url(#b03)" opacity="1.00"><circle cx="427.8" cy="322.8" r="0.8" fill="#2070b8"/><circle cx="429.6" cy="323.5" r="0.6" fill="#2070b8"/><circle cx="434.3" cy="324.4" r="0.5" fill="#2a60c0"/><circle cx="423.6" cy="326.7" r="0.5" fill="#38a0b0"/><circle cx="432.8" cy="328.5" r="0.7" fill="#2a60c0"/><circle cx="422.5" cy="321.3" r="0.9" fill="#50b890"/><circle cx="432.9" cy="321.7" r="0.9" fill="#50b890"/><circle cx="450.6" cy="322.3" r="0.5" fill="#38a0b0"/><circle cx="447.0" cy="324.5" r="0.6" fill="#50b890"/><circle cx="440.3" cy="327.5" r="0.7" fill="#2070b8"/><circle cx="452.5" cy="328.1" r="0.7" fill="#2a60c0"/><circle cx="428.0" cy="322.7" r="0.6" fill="#50b890"/><circle cx="422.7" cy="324.4" r="0.7" fill="#2070b8"/><circle cx="447.2" cy="326.5" r="0.5" fill="#2070b8"/><circle cx="437.7" cy="324.2" r="0.7" fill="#38a0b0"/><circle cx="438.6" cy="322.8" r="0.9" fill="#38a0b0"/><circle cx="438.4" cy="321.2" r="0.7" fill="#2a60c0"/><circle cx="423.7" cy="325.3" r="0.6" fill="#2070b8"/><circle cx="430.3" cy="329.4" r="0.6" fill="#50b890"/><circle cx="449.1" cy="325.1" r="0.8" fill="#38a0b0"/><circle cx="449.8" cy="325.9" r="0.7" fill="#2070b8"/><circle cx="424.8" cy="327.7" r="0.8" fill="#2070b8"/><circle cx="439.6" cy="322.1" r="0.8" fill="#2070b8"/><circle cx="442.4" cy="324.3" r="0.8" fill="#2070b8"/><circle cx="447.3" cy="322.7" r="0.7" fill="#2a60c0"/><circle cx="434.5" cy="324.6" r="0.8" fill="#38a0b0"/><circle cx="429.6" cy="327.0" r="0.8" fill="#50b890"/><circle cx="440.0" cy="326.8" r="0.8" fill="#38a0b0"/><circle cx="425.9" cy="325.2" r="0.5" fill="#50b890"/><circle cx="423.1" cy="324.7" r="0.6" fill="#38a0b0"/></g>
</g>
<g clip-path="url(#cH)">
<rect x="413.1" y="330.0" width="60.7" height="59.3" fill="#e8301c"/>
<g transform="translate(410,327) scale(0.13369)">
<g filter="url(#z3)">
<ellipse cx="150" cy="250" rx="60" ry="90" fill="#f05a1c"/>
<rect x="20" y="15" width="470" height="22" fill="#0a0a98"/>
<path d="M40 15 L300 15 Q280 40 180 38 L60 30 Z" fill="#2682b4"/>
<path d="M27 40 L300 34 L300 60 L150 70 L27 62 Z" fill="#e86a20"/>
<rect x="310" y="15" width="180" height="100" fill="#8a3a14"/>
<path d="M20 70 L70 92 Q82 150 66 230 Q52 320 74 400 L20 400 Z" fill="#0a0a98"/>
<path d="M20 398 Q150 380 260 402 Q360 418 490 380 L490 480 L20 480 Z" fill="#0a0a98"/>
<ellipse cx="160" cy="440" rx="125" ry="24" fill="#48b070"/>
<ellipse cx="160" cy="444" rx="100" ry="14" fill="#2a8aa8"/>
<path d="M340 436 Q420 420 490 424 L490 480 L330 480 Z" fill="#e8301c"/>
<ellipse cx="315" cy="236" rx="153" ry="160" fill="#c6e23e"/>
<ellipse cx="315" cy="236" rx="153" ry="160" fill="none" stroke="#5ad24c" stroke-width="8"/>
<ellipse cx="235" cy="150" rx="40" ry="30" fill="#eec038"/>
<ellipse cx="210" cy="300" rx="26" ry="40" fill="#e8c83a"/>
<ellipse cx="336" cy="256" rx="106" ry="116" fill="#e8301c"/>
<ellipse cx="336" cy="256" rx="106" ry="116" fill="none" stroke="#7cdc48" stroke-width="5"/>
<ellipse cx="336" cy="256" rx="116" ry="126" fill="none" stroke="#e87a28" stroke-width="4"/>
</g>
</g>
<g filter="url(#b03)" opacity="1.00"><circle cx="457.1" cy="338.0" r="0.6" fill="#0a0a98"/><circle cx="468.9" cy="340.1" r="0.9" fill="#e8301c"/><circle cx="472.9" cy="338.4" r="0.7" fill="#e8301c"/><circle cx="471.5" cy="342.8" r="0.7" fill="#e8301c"/><circle cx="468.2" cy="336.8" r="1.0" fill="#181818"/><circle cx="471.7" cy="339.7" r="0.9" fill="#080808"/><circle cx="463.9" cy="342.7" r="0.7" fill="#70d040"/><circle cx="462.9" cy="335.9" r="0.4" fill="#080808"/><circle cx="457.8" cy="338.6" r="0.7" fill="#e8301c"/><circle cx="464.7" cy="340.5" r="0.6" fill="#70d040"/><circle cx="471.0" cy="333.4" r="0.9" fill="#f0c020"/><circle cx="462.5" cy="335.6" r="0.4" fill="#0a0a98"/><circle cx="453.5" cy="342.7" r="0.7" fill="#0a0a98"/><circle cx="460.1" cy="333.3" r="0.4" fill="#0a0a98"/><circle cx="473.0" cy="339.3" r="0.9" fill="#e8301c"/><circle cx="463.9" cy="332.3" r="0.8" fill="#e8301c"/><circle cx="464.0" cy="342.6" r="0.5" fill="#181818"/><circle cx="454.1" cy="342.4" r="0.7" fill="#e8301c"/><circle cx="451.1" cy="333.4" r="0.6" fill="#e8301c"/><circle cx="455.0" cy="336.2" r="0.7" fill="#70d040"/><circle cx="460.1" cy="335.0" r="0.8" fill="#080808"/><circle cx="458.1" cy="336.4" r="0.6" fill="#e8301c"/><circle cx="462.4" cy="343.1" r="1.0" fill="#e8301c"/><circle cx="471.0" cy="332.8" r="0.9" fill="#0a0a98"/><circle cx="471.5" cy="332.7" r="0.9" fill="#e8301c"/><circle cx="471.5" cy="330.2" r="0.8" fill="#0a0a98"/><circle cx="473.7" cy="332.8" r="0.8" fill="#f0c020"/><circle cx="472.7" cy="343.7" r="0.8" fill="#e8301c"/><circle cx="467.6" cy="334.4" r="0.9" fill="#181818"/><circle cx="460.6" cy="342.3" r="0.6" fill="#181818"/><circle cx="461.2" cy="331.1" r="0.5" fill="#e8301c"/><circle cx="453.8" cy="339.7" r="0.6" fill="#0a0a98"/><circle cx="456.4" cy="339.3" r="0.9" fill="#e8301c"/><circle cx="469.3" cy="337.3" r="0.5" fill="#70d040"/><circle cx="456.3" cy="334.2" r="1.0" fill="#0a0a98"/><circle cx="456.2" cy="331.9" r="0.8" fill="#e8301c"/><circle cx="473.4" cy="336.2" r="0.7" fill="#70d040"/><circle cx="471.7" cy="330.1" r="0.8" fill="#70d040"/><circle cx="456.8" cy="341.2" r="0.5" fill="#e8301c"/><circle cx="473.5" cy="332.7" r="0.5" fill="#0a0a98"/><circle cx="463.5" cy="332.6" r="0.9" fill="#080808"/><circle cx="465.2" cy="342.8" r="0.8" fill="#080808"/><circle cx="472.2" cy="337.0" r="0.5" fill="#70d040"/><circle cx="468.7" cy="342.7" r="0.6" fill="#e8301c"/><circle cx="468.9" cy="337.2" r="0.7" fill="#181818"/><circle cx="465.5" cy="343.8" r="0.8" fill="#70d040"/><circle cx="455.0" cy="340.9" r="0.5" fill="#70d040"/><circle cx="461.0" cy="339.4" r="0.7" fill="#e8301c"/><circle cx="469.0" cy="341.1" r="0.5" fill="#e8301c"/><circle cx="463.5" cy="341.9" r="0.8" fill="#e8301c"/><circle cx="451.9" cy="338.4" r="0.8" fill="#70d040"/><circle cx="461.3" cy="342.3" r="0.6" fill="#70d040"/><circle cx="451.5" cy="336.9" r="0.7" fill="#e8301c"/><circle cx="467.5" cy="342.0" r="0.4" fill="#080808"/><circle cx="471.7" cy="338.0" r="0.7" fill="#181818"/><circle cx="467.5" cy="338.7" r="0.4" fill="#e8301c"/><circle cx="452.1" cy="334.4" r="0.8" fill="#70d040"/><circle cx="468.8" cy="340.7" r="0.7" fill="#0a0a98"/><circle cx="469.7" cy="332.4" r="0.6" fill="#f0c020"/><circle cx="462.4" cy="339.2" r="0.8" fill="#e8301c"/><circle cx="452.5" cy="335.7" r="0.6" fill="#f0c020"/><circle cx="467.1" cy="343.4" r="0.5" fill="#181818"/><circle cx="468.4" cy="343.8" r="0.5" fill="#e8301c"/><circle cx="462.9" cy="343.8" r="0.4" fill="#e8301c"/><circle cx="471.3" cy="332.0" r="0.6" fill="#e8301c"/><circle cx="461.8" cy="343.1" r="1.0" fill="#0a0a98"/><circle cx="473.7" cy="340.7" r="0.8" fill="#f0c020"/><circle cx="457.8" cy="331.7" r="0.9" fill="#e8301c"/><circle cx="461.6" cy="343.1" r="0.6" fill="#e8301c"/><circle cx="472.6" cy="342.9" r="0.5" fill="#f0c020"/><circle cx="460.2" cy="339.1" r="0.4" fill="#e8301c"/><circle cx="464.0" cy="342.8" r="0.9" fill="#f0c020"/><circle cx="461.6" cy="335.5" r="0.9" fill="#e8301c"/><circle cx="459.7" cy="330.7" r="0.7" fill="#f0c020"/><circle cx="455.3" cy="337.7" r="0.5" fill="#f0c020"/><circle cx="460.2" cy="338.3" r="0.9" fill="#e8301c"/><circle cx="461.2" cy="343.9" r="0.8" fill="#181818"/><circle cx="462.2" cy="337.6" r="0.7" fill="#080808"/><circle cx="466.8" cy="335.1" r="0.6" fill="#080808"/><circle cx="462.9" cy="340.4" r="0.7" fill="#70d040"/><circle cx="472.1" cy="340.0" r="0.6" fill="#e8301c"/><circle cx="452.4" cy="340.2" r="0.9" fill="#f0c020"/><circle cx="468.5" cy="340.1" r="0.9" fill="#080808"/><circle cx="473.8" cy="341.7" r="0.7" fill="#181818"/><circle cx="471.1" cy="334.6" r="0.9" fill="#70d040"/><circle cx="466.3" cy="334.2" r="0.8" fill="#e8301c"/><circle cx="452.0" cy="332.1" r="0.8" fill="#080808"/><circle cx="455.8" cy="335.7" r="0.7" fill="#0a0a98"/><circle cx="454.2" cy="339.9" r="0.6" fill="#0a0a98"/><circle cx="461.4" cy="335.3" r="0.9" fill="#181818"/><circle cx="457.5" cy="340.0" r="0.6" fill="#e8301c"/><circle cx="462.8" cy="335.0" r="0.5" fill="#e8301c"/><circle cx="458.9" cy="333.0" r="0.4" fill="#080808"/><circle cx="468.1" cy="336.8" r="0.4" fill="#181818"/><circle cx="473.2" cy="334.2" r="0.8" fill="#181818"/><circle cx="456.0" cy="339.6" r="0.8" fill="#181818"/><circle cx="470.8" cy="333.3" r="0.8" fill="#080808"/><circle cx="469.2" cy="331.7" r="0.7" fill="#e8301c"/><circle cx="459.8" cy="334.6" r="0.7" fill="#e8301c"/><circle cx="456.1" cy="343.0" r="0.5" fill="#181818"/><circle cx="454.9" cy="339.3" r="0.5" fill="#080808"/><circle cx="468.0" cy="342.7" r="0.9" fill="#e8301c"/><circle cx="464.3" cy="339.8" r="0.7" fill="#0a0a98"/><circle cx="471.9" cy="342.6" r="0.5" fill="#080808"/><circle cx="471.8" cy="333.8" r="0.6" fill="#181818"/><circle cx="464.4" cy="336.6" r="0.6" fill="#e8301c"/><circle cx="452.7" cy="330.5" r="0.6" fill="#e8301c"/><circle cx="463.9" cy="333.7" r="0.8" fill="#f0c020"/><circle cx="465.7" cy="335.4" r="0.6" fill="#e8301c"/><circle cx="451.8" cy="339.9" r="0.5" fill="#080808"/></g>
<g filter="url(#b03)" opacity="1.00"><circle cx="458.8" cy="365.4" r="0.6" fill="#f0e040"/><circle cx="453.9" cy="360.6" r="0.9" fill="#f0e040"/><circle cx="455.2" cy="356.6" r="0.6" fill="#f09a20"/><circle cx="444.5" cy="353.4" r="0.5" fill="#f0d030"/><circle cx="456.3" cy="359.0" r="0.5" fill="#f0e040"/><circle cx="465.5" cy="369.4" r="0.4" fill="#f06a20"/><circle cx="447.9" cy="350.9" r="0.4" fill="#f0d030"/><circle cx="460.9" cy="367.2" r="0.9" fill="#f0d030"/><circle cx="444.8" cy="365.4" r="0.6" fill="#f06a20"/><circle cx="451.1" cy="356.0" r="0.8" fill="#f0e040"/><circle cx="447.1" cy="355.0" r="0.6" fill="#f0d030"/><circle cx="449.3" cy="371.8" r="0.7" fill="#f0e040"/><circle cx="452.4" cy="361.5" r="0.6" fill="#f0e040"/><circle cx="455.2" cy="370.3" r="0.6" fill="#f06a20"/><circle cx="451.0" cy="367.1" r="0.5" fill="#f0d030"/><circle cx="457.0" cy="359.8" r="0.8" fill="#f06a20"/><circle cx="464.0" cy="351.5" r="0.6" fill="#f06a20"/><circle cx="446.9" cy="353.2" r="0.4" fill="#f0d030"/><circle cx="448.0" cy="355.6" r="0.5" fill="#f0e040"/><circle cx="451.6" cy="367.0" r="0.5" fill="#f0d030"/><circle cx="461.4" cy="351.3" r="0.4" fill="#f06a20"/><circle cx="450.7" cy="363.1" r="0.8" fill="#f0e040"/><circle cx="449.9" cy="348.7" r="0.7" fill="#f0e040"/><circle cx="453.2" cy="372.4" r="0.7" fill="#f0d030"/><circle cx="451.8" cy="365.3" r="0.8" fill="#f0e040"/><circle cx="460.2" cy="354.1" r="0.5" fill="#f0d030"/><circle cx="453.3" cy="371.3" r="0.7" fill="#f06a20"/><circle cx="466.4" cy="360.1" r="0.5" fill="#f09a20"/><circle cx="448.1" cy="363.9" r="0.5" fill="#f0e040"/><circle cx="448.2" cy="354.4" r="0.6" fill="#f06a20"/><circle cx="456.5" cy="363.7" r="0.5" fill="#f09a20"/><circle cx="466.8" cy="356.7" r="0.4" fill="#f0d030"/><circle cx="450.1" cy="351.9" r="0.8" fill="#f0e040"/><circle cx="454.5" cy="359.6" r="0.8" fill="#f0e040"/><circle cx="456.7" cy="354.0" r="0.7" fill="#f06a20"/><circle cx="453.3" cy="371.3" r="0.8" fill="#f0d030"/><circle cx="456.2" cy="366.9" r="0.5" fill="#f09a20"/><circle cx="462.6" cy="356.7" r="0.7" fill="#f09a20"/><circle cx="450.9" cy="369.5" r="0.5" fill="#f0d030"/><circle cx="463.8" cy="368.6" r="0.6" fill="#f09a20"/><circle cx="468.1" cy="361.5" r="0.8" fill="#f0e040"/><circle cx="447.5" cy="373.5" r="0.4" fill="#f0d030"/><circle cx="446.8" cy="358.9" r="0.6" fill="#f06a20"/><circle cx="464.3" cy="358.2" r="0.7" fill="#f06a20"/><circle cx="449.4" cy="349.9" r="0.7" fill="#f09a20"/></g>
<g filter="url(#b03)" opacity="1.00"><circle cx="443.1" cy="347.4" r="0.6" fill="#f0c030"/><circle cx="460.6" cy="345.8" r="0.6" fill="#eea030"/><circle cx="447.7" cy="346.0" r="0.5" fill="#d8e840"/><circle cx="469.0" cy="352.1" r="1.0" fill="#f0c030"/><circle cx="451.9" cy="379.3" r="0.8" fill="#eea030"/><circle cx="448.4" cy="378.5" r="1.0" fill="#90e040"/><circle cx="454.1" cy="338.4" r="0.9" fill="#d8e840"/><circle cx="443.9" cy="340.0" r="0.5" fill="#90e040"/><circle cx="438.4" cy="358.6" r="1.1" fill="#90e040"/><circle cx="439.9" cy="358.6" r="0.8" fill="#f0c030"/><circle cx="441.8" cy="375.0" r="0.9" fill="#eea030"/><circle cx="440.2" cy="350.3" r="0.9" fill="#f0c030"/><circle cx="436.5" cy="357.4" r="1.0" fill="#eea030"/><circle cx="435.0" cy="359.9" r="0.5" fill="#f0c030"/><circle cx="465.5" cy="344.7" r="0.7" fill="#f0c030"/><circle cx="457.8" cy="339.4" r="0.9" fill="#d8e840"/><circle cx="458.4" cy="376.6" r="0.9" fill="#eea030"/><circle cx="440.8" cy="347.2" r="1.0" fill="#eea030"/><circle cx="447.0" cy="346.6" r="1.1" fill="#eea030"/><circle cx="438.1" cy="365.8" r="0.8" fill="#d8e840"/><circle cx="443.7" cy="343.9" r="0.6" fill="#f0c030"/><circle cx="444.0" cy="376.4" r="0.7" fill="#f0c030"/><circle cx="471.2" cy="355.1" r="0.9" fill="#eea030"/><circle cx="450.8" cy="340.8" r="0.8" fill="#90e040"/><circle cx="432.6" cy="354.5" r="0.9" fill="#90e040"/><circle cx="464.3" cy="342.6" r="0.9" fill="#d8e840"/><circle cx="446.4" cy="377.5" r="1.1" fill="#f0c030"/><circle cx="460.1" cy="344.9" r="0.5" fill="#eea030"/><circle cx="434.8" cy="358.3" r="0.7" fill="#eea030"/><circle cx="453.7" cy="342.2" r="1.0" fill="#f0c030"/><circle cx="439.0" cy="366.6" r="0.9" fill="#90e040"/><circle cx="451.9" cy="376.9" r="0.8" fill="#eea030"/><circle cx="433.0" cy="353.4" r="0.8" fill="#f0c030"/><circle cx="434.8" cy="348.5" r="0.9" fill="#90e040"/><circle cx="444.3" cy="372.2" r="0.6" fill="#d8e840"/><circle cx="453.2" cy="344.3" r="0.8" fill="#eea030"/><circle cx="449.4" cy="338.5" r="0.6" fill="#f0c030"/><circle cx="438.6" cy="361.4" r="0.5" fill="#f0c030"/><circle cx="452.7" cy="378.1" r="0.8" fill="#f0c030"/><circle cx="446.0" cy="343.1" r="0.7" fill="#f0c030"/><circle cx="438.9" cy="354.8" r="0.7" fill="#eea030"/><circle cx="433.4" cy="353.8" r="1.1" fill="#d8e840"/><circle cx="456.9" cy="342.6" r="0.9" fill="#90e040"/><circle cx="435.9" cy="349.1" r="0.7" fill="#d8e840"/><circle cx="435.8" cy="363.2" r="0.6" fill="#d8e840"/><circle cx="466.4" cy="372.7" r="0.9" fill="#f0c030"/><circle cx="448.6" cy="341.7" r="0.6" fill="#90e040"/><circle cx="458.8" cy="339.0" r="1.1" fill="#eea030"/><circle cx="456.4" cy="338.2" r="0.9" fill="#d8e840"/><circle cx="460.8" cy="344.2" r="1.0" fill="#d8e840"/><circle cx="446.9" cy="374.6" r="0.9" fill="#f0c030"/><circle cx="459.4" cy="343.0" r="1.0" fill="#f0c030"/><circle cx="433.3" cy="357.0" r="0.7" fill="#d8e840"/><circle cx="436.4" cy="370.7" r="0.6" fill="#90e040"/><circle cx="440.5" cy="353.2" r="0.6" fill="#90e040"/><circle cx="464.4" cy="344.5" r="0.9" fill="#d8e840"/><circle cx="441.8" cy="349.5" r="0.9" fill="#f0c030"/><circle cx="442.8" cy="340.8" r="1.0" fill="#d8e840"/><circle cx="442.2" cy="347.4" r="1.0" fill="#f0c030"/><circle cx="470.2" cy="358.1" r="0.8" fill="#eea030"/></g>
<g filter="url(#b03)" opacity="1.00"><circle cx="422.9" cy="366.8" r="1.0" fill="#f0c838"/><circle cx="432.8" cy="343.4" r="1.0" fill="#f0c838"/><circle cx="422.5" cy="361.6" r="0.8" fill="#f0a030"/><circle cx="434.4" cy="372.6" r="1.1" fill="#f06a20"/><circle cx="423.8" cy="348.2" r="1.2" fill="#f0c838"/><circle cx="431.2" cy="355.8" r="0.6" fill="#f06a20"/><circle cx="428.8" cy="378.0" r="1.1" fill="#f0c838"/><circle cx="425.0" cy="346.4" r="1.1" fill="#f0a030"/><circle cx="429.2" cy="375.2" r="1.2" fill="#f06a20"/><circle cx="423.8" cy="342.8" r="0.9" fill="#f0a030"/><circle cx="430.1" cy="353.5" r="0.9" fill="#f0a030"/><circle cx="427.4" cy="352.9" r="0.7" fill="#f0a030"/><circle cx="434.3" cy="348.1" r="0.8" fill="#f0c838"/><circle cx="432.9" cy="366.4" r="0.9" fill="#f0c838"/><circle cx="422.5" cy="372.0" r="1.0" fill="#f0c838"/><circle cx="431.7" cy="352.4" r="0.5" fill="#f0a030"/><circle cx="429.9" cy="363.7" r="0.8" fill="#f0c838"/><circle cx="425.7" cy="371.2" r="1.2" fill="#f0c838"/><circle cx="424.2" cy="371.1" r="1.1" fill="#f06a20"/><circle cx="434.3" cy="346.4" r="1.2" fill="#f0c838"/><circle cx="431.2" cy="354.1" r="0.5" fill="#f0c838"/><circle cx="434.5" cy="349.8" r="0.8" fill="#f0a030"/></g>
<g filter="url(#b03)" opacity="1.00"><circle cx="466.3" cy="381.8" r="0.7" fill="#e8301c"/><circle cx="423.4" cy="384.6" r="0.5" fill="#e8301c"/><circle cx="440.7" cy="386.7" r="0.4" fill="#0a0a98"/><circle cx="451.1" cy="388.7" r="0.8" fill="#e8301c"/><circle cx="439.6" cy="385.2" r="0.4" fill="#f0c020"/><circle cx="416.8" cy="388.8" r="0.8" fill="#e8301c"/><circle cx="423.0" cy="383.7" r="0.6" fill="#0a0a98"/><circle cx="470.2" cy="389.1" r="0.9" fill="#60d040"/><circle cx="465.5" cy="388.8" r="0.4" fill="#f0c020"/><circle cx="461.8" cy="389.3" r="0.7" fill="#0a0a98"/><circle cx="469.9" cy="382.0" r="0.7" fill="#e8301c"/><circle cx="421.5" cy="383.7" r="0.6" fill="#e8301c"/><circle cx="439.4" cy="382.5" r="0.5" fill="#e8301c"/><circle cx="415.1" cy="381.8" r="0.8" fill="#f0c020"/><circle cx="464.0" cy="384.6" r="0.6" fill="#0a0a98"/><circle cx="438.1" cy="388.5" r="0.5" fill="#e8301c"/><circle cx="449.5" cy="385.5" r="0.6" fill="#0a0a98"/><circle cx="441.8" cy="383.2" r="0.8" fill="#60d040"/><circle cx="426.9" cy="383.0" r="0.6" fill="#60d040"/><circle cx="461.1" cy="384.0" r="0.5" fill="#0a0a98"/><circle cx="450.1" cy="385.9" r="0.7" fill="#e8301c"/><circle cx="425.9" cy="383.2" r="0.6" fill="#0a0a98"/><circle cx="458.5" cy="382.9" r="0.4" fill="#60d040"/><circle cx="446.8" cy="381.9" r="0.8" fill="#60d040"/><circle cx="441.0" cy="381.7" r="0.7" fill="#60d040"/><circle cx="436.9" cy="384.2" r="0.9" fill="#f0c020"/><circle cx="473.8" cy="384.7" r="0.7" fill="#60d040"/><circle cx="434.9" cy="387.6" r="0.6" fill="#0a0a98"/><circle cx="448.1" cy="388.9" r="0.4" fill="#e8301c"/><circle cx="418.2" cy="381.6" r="0.9" fill="#f0c020"/><circle cx="468.8" cy="382.4" r="0.5" fill="#f0c020"/><circle cx="471.5" cy="388.8" r="0.6" fill="#60d040"/><circle cx="423.4" cy="387.0" r="0.9" fill="#60d040"/><circle cx="429.0" cy="386.9" r="0.5" fill="#f0c020"/><circle cx="436.7" cy="387.1" r="0.9" fill="#60d040"/><circle cx="470.2" cy="381.9" r="0.5" fill="#0a0a98"/><circle cx="454.8" cy="382.3" r="0.6" fill="#e8301c"/><circle cx="431.2" cy="385.5" r="0.8" fill="#f0c020"/><circle cx="459.8" cy="385.5" r="0.9" fill="#e8301c"/><circle cx="453.5" cy="381.4" r="0.9" fill="#60d040"/></g>
</g>
<g clip-path="url(#cC)">
<rect x="473.8" y="271.0" width="59.8" height="59.0" fill="#2a2a2a"/>
<g filter="url(#b15)">
<ellipse cx="503.2" cy="303.1" rx="31" ry="31" fill="#4a4a4a"/>
<ellipse cx="504.2" cy="302.1" rx="27.5" ry="27.5" fill="#1c1c1c"/>
<rect x="471.8" y="270.0" width="63.8" height="5" fill="#080808"/>
</g>
<ellipse cx="505.2" cy="302.1" rx="26.5" ry="27.5" fill="none" stroke="#6c6c6c" stroke-width="3.0" stroke-dasharray="0 30 105 300" filter="url(#b1)"/>
<ellipse cx="528.6" cy="324.0" rx="13" ry="14" fill="#6a6a6a" filter="url(#b15)"/>
<g filter="url(#b06)" opacity="1.00"><circle cx="526.0" cy="312.7" r="2.5" fill="#8a8a8a"/><circle cx="523.8" cy="320.7" r="2.6" fill="#ffffff"/><circle cx="524.0" cy="322.6" r="1.9" fill="#8a8a8a"/><circle cx="529.3" cy="310.5" r="1.2" fill="#e0e0e0"/><circle cx="523.1" cy="330.0" r="2.2" fill="#f4f4f4"/><circle cx="523.9" cy="309.7" r="1.2" fill="#b8b8b8"/><circle cx="534.0" cy="313.8" r="2.6" fill="#8a8a8a"/><circle cx="522.0" cy="317.3" r="2.2" fill="#b8b8b8"/><circle cx="526.2" cy="320.9" r="1.9" fill="#8a8a8a"/><circle cx="523.8" cy="313.6" r="2.7" fill="#e0e0e0"/><circle cx="528.2" cy="321.2" r="2.6" fill="#1a1a1a"/><circle cx="517.9" cy="318.2" r="2.8" fill="#b8b8b8"/><circle cx="529.9" cy="329.3" r="1.7" fill="#8a8a8a"/><circle cx="526.3" cy="309.1" r="2.7" fill="#b8b8b8"/><circle cx="527.4" cy="321.5" r="1.2" fill="#ffffff"/><circle cx="525.8" cy="317.9" r="2.7" fill="#8a8a8a"/><circle cx="527.6" cy="322.8" r="2.3" fill="#ffffff"/><circle cx="520.0" cy="319.9" r="2.2" fill="#ffffff"/><circle cx="527.4" cy="306.6" r="1.4" fill="#f4f4f4"/><circle cx="520.2" cy="316.5" r="1.3" fill="#ffffff"/><circle cx="515.6" cy="320.2" r="1.8" fill="#f4f4f4"/><circle cx="519.7" cy="328.5" r="2.0" fill="#ffffff"/><circle cx="516.0" cy="327.3" r="1.4" fill="#b8b8b8"/><circle cx="531.4" cy="318.1" r="1.7" fill="#e0e0e0"/><circle cx="527.5" cy="322.9" r="1.9" fill="#b8b8b8"/><circle cx="534.2" cy="328.8" r="2.3" fill="#ffffff"/><circle cx="529.2" cy="312.1" r="1.7" fill="#e0e0e0"/><circle cx="517.0" cy="317.4" r="2.3" fill="#f4f4f4"/><circle cx="533.0" cy="305.6" r="2.0" fill="#b8b8b8"/><circle cx="524.0" cy="321.7" r="2.3" fill="#ffffff"/></g>
<g filter="url(#b1)" opacity="1.00"><circle cx="513.7" cy="328.2" r="1.1" fill="#666"/><circle cx="490.8" cy="330.9" r="1.9" fill="#b0b0b0"/><circle cx="494.9" cy="327.9" r="1.8" fill="#b0b0b0"/><circle cx="515.2" cy="328.0" r="1.1" fill="#8a8a8a"/><circle cx="499.9" cy="326.3" r="1.4" fill="#8a8a8a"/><circle cx="503.6" cy="330.5" r="1.6" fill="#444"/><circle cx="494.1" cy="328.7" r="1.0" fill="#666"/><circle cx="501.7" cy="330.8" r="1.2" fill="#8a8a8a"/><circle cx="507.1" cy="327.1" r="1.3" fill="#b0b0b0"/><circle cx="507.0" cy="323.2" r="1.3" fill="#8a8a8a"/></g>
<g filter="url(#b1)" opacity="0.55"><circle cx="493.6" cy="322.6" r="2.1" fill="#555"/><circle cx="504.5" cy="306.3" r="1.4" fill="#2a2a2a"/><circle cx="517.4" cy="294.7" r="1.3" fill="#2a2a2a"/><circle cx="479.3" cy="283.5" r="1.8" fill="#4a4a4a"/><circle cx="501.2" cy="314.0" r="1.3" fill="#3a3a3a"/><circle cx="526.0" cy="296.1" r="1.5" fill="#2a2a2a"/><circle cx="479.6" cy="281.5" r="1.4" fill="#2a2a2a"/><circle cx="487.4" cy="322.2" r="1.9" fill="#4a4a4a"/><circle cx="482.4" cy="299.4" r="1.8" fill="#555"/><circle cx="507.3" cy="298.7" r="1.0" fill="#4a4a4a"/><circle cx="486.0" cy="315.0" r="1.1" fill="#3a3a3a"/><circle cx="485.7" cy="324.5" r="1.9" fill="#555"/><circle cx="490.2" cy="316.5" r="1.0" fill="#4a4a4a"/><circle cx="500.4" cy="299.3" r="1.1" fill="#2a2a2a"/><circle cx="486.2" cy="290.9" r="2.1" fill="#4a4a4a"/><circle cx="475.9" cy="300.8" r="1.7" fill="#3a3a3a"/><circle cx="529.3" cy="302.4" r="1.9" fill="#3a3a3a"/><circle cx="497.5" cy="309.5" r="1.8" fill="#2a2a2a"/><circle cx="478.3" cy="312.4" r="1.2" fill="#4a4a4a"/><circle cx="506.5" cy="297.9" r="1.5" fill="#2a2a2a"/><circle cx="515.1" cy="308.1" r="1.2" fill="#3a3a3a"/><circle cx="521.6" cy="301.9" r="1.7" fill="#555"/><circle cx="525.6" cy="309.0" r="1.4" fill="#4a4a4a"/><circle cx="487.7" cy="319.7" r="1.6" fill="#2a2a2a"/><circle cx="515.6" cy="319.9" r="1.2" fill="#4a4a4a"/><circle cx="518.4" cy="312.3" r="1.5" fill="#555"/></g>
<g filter="url(#b03)">
<ellipse cx="511.2" cy="300.1" rx="14.0" ry="16.3" fill="#0c0c0c" transform="rotate(-14 511.2 300.1)"/>
<ellipse cx="511.2" cy="300.1" rx="14.0" ry="16.3" fill="none" stroke="#3a5cc0" stroke-width="4.0" transform="rotate(-14 511.2 300.1)"/>
<ellipse cx="511.2" cy="300.1" rx="14.0" ry="16.3" fill="none" stroke="#4cb0cc" stroke-width="2.8" transform="rotate(-14 511.2 300.1)"/>
</g>
<g filter="url(#b03)" opacity="1.00"><circle cx="497.9" cy="301.9" r="0.86" fill="#9ad070"/><circle cx="497.8" cy="303.5" r="0.78" fill="#9ad070"/><circle cx="500.5" cy="309.7" r="1.13" fill="#c8d858"/><circle cx="497.0" cy="302.2" r="0.90" fill="#c8d858"/><circle cx="498.8" cy="293.5" r="0.74" fill="#9ad070"/><circle cx="496.2" cy="299.4" r="0.99" fill="#70c8b0"/><circle cx="500.9" cy="309.4" r="0.78" fill="#70c8b0"/><circle cx="497.0" cy="297.6" r="1.19" fill="#c8d858"/><circle cx="498.6" cy="305.8" r="1.10" fill="#c8d858"/><circle cx="497.6" cy="297.9" r="0.97" fill="#9ad070"/><circle cx="498.1" cy="294.1" r="1.17" fill="#70c8b0"/><circle cx="499.2" cy="292.7" r="0.95" fill="#9ad070"/><circle cx="497.7" cy="295.0" r="0.95" fill="#70c8b0"/><circle cx="497.4" cy="300.0" r="0.82" fill="#c8d858"/><circle cx="506.2" cy="315.3" r="0.94" fill="#70c8b0"/><circle cx="509.7" cy="314.9" r="1.05" fill="#70c8b0"/><circle cx="503.8" cy="313.8" r="1.17" fill="#c8d858"/><circle cx="497.4" cy="298.2" r="1.17" fill="#c8d858"/><circle cx="509.2" cy="316.2" r="1.14" fill="#70c8b0"/><circle cx="499.1" cy="309.1" r="1.18" fill="#70c8b0"/><circle cx="510.0" cy="316.3" r="0.88" fill="#70c8b0"/><circle cx="498.6" cy="306.1" r="0.61" fill="#c8d858"/><circle cx="502.9" cy="313.2" r="0.65" fill="#c8d858"/><circle cx="499.2" cy="306.2" r="0.82" fill="#9ad070"/><circle cx="502.7" cy="311.6" r="0.82" fill="#70c8b0"/><circle cx="499.2" cy="307.8" r="0.84" fill="#c8d858"/><circle cx="509.9" cy="315.6" r="1.12" fill="#70c8b0"/><circle cx="506.6" cy="314.2" r="0.67" fill="#9ad070"/><circle cx="498.4" cy="302.8" r="0.71" fill="#9ad070"/><circle cx="499.4" cy="308.8" r="0.62" fill="#c8d858"/><circle cx="498.3" cy="294.4" r="1.02" fill="#70c8b0"/><circle cx="503.8" cy="314.1" r="1.14" fill="#c8d858"/><circle cx="498.0" cy="300.4" r="1.15" fill="#70c8b0"/><circle cx="505.4" cy="314.3" r="0.82" fill="#70c8b0"/><circle cx="507.3" cy="315.6" r="0.69" fill="#c8d858"/><circle cx="496.4" cy="296.7" r="0.71" fill="#9ad070"/><circle cx="498.1" cy="291.9" r="0.70" fill="#c8d858"/><circle cx="498.1" cy="304.2" r="1.06" fill="#c8d858"/><circle cx="498.4" cy="293.9" r="0.82" fill="#9ad070"/><circle cx="499.4" cy="308.7" r="1.11" fill="#70c8b0"/><circle cx="513.0" cy="317.0" r="0.93" fill="#70c8b0"/><circle cx="514.2" cy="315.7" r="0.96" fill="#c8d858"/><circle cx="497.2" cy="304.7" r="0.64" fill="#9ad070"/><circle cx="500.8" cy="311.5" r="0.97" fill="#70c8b0"/><circle cx="505.5" cy="314.8" r="1.02" fill="#c8d858"/><circle cx="513.4" cy="316.9" r="0.73" fill="#9ad070"/><circle cx="503.2" cy="312.4" r="0.75" fill="#c8d858"/><circle cx="505.2" cy="313.0" r="0.82" fill="#c8d858"/><circle cx="498.4" cy="304.6" r="0.67" fill="#9ad070"/><circle cx="500.1" cy="309.3" r="0.79" fill="#70c8b0"/></g>
<g filter="url(#b03)" opacity="1.00"><circle cx="511.6" cy="284.2" r="0.90" fill="#3a90d8"/><circle cx="501.8" cy="311.0" r="0.79" fill="#d8d860"/><circle cx="499.7" cy="308.8" r="1.05" fill="#3a90d8"/><circle cx="512.1" cy="315.7" r="0.73" fill="#60c8d8"/><circle cx="499.0" cy="292.0" r="0.63" fill="#d8d860"/><circle cx="502.3" cy="286.0" r="0.76" fill="#d8d860"/><circle cx="498.2" cy="303.2" r="0.83" fill="#3a90d8"/><circle cx="524.5" cy="304.0" r="1.03" fill="#d8d860"/><circle cx="497.7" cy="301.9" r="0.98" fill="#a0d880"/><circle cx="523.6" cy="296.1" r="1.05" fill="#60c8d8"/><circle cx="517.6" cy="285.4" r="0.90" fill="#60c8d8"/><circle cx="498.7" cy="309.1" r="1.00" fill="#60c8d8"/><circle cx="498.2" cy="295.5" r="0.77" fill="#3a90d8"/><circle cx="501.9" cy="288.2" r="0.76" fill="#a0d880"/><circle cx="525.4" cy="295.4" r="0.85" fill="#60c8d8"/><circle cx="517.8" cy="315.4" r="0.64" fill="#60c8d8"/><circle cx="515.6" cy="315.3" r="0.62" fill="#60c8d8"/><circle cx="523.4" cy="294.7" r="0.62" fill="#3a90d8"/><circle cx="508.2" cy="285.3" r="0.54" fill="#3a90d8"/><circle cx="510.8" cy="283.6" r="0.91" fill="#d8d860"/><circle cx="498.9" cy="288.9" r="0.95" fill="#3a90d8"/><circle cx="509.2" cy="314.9" r="0.53" fill="#60c8d8"/><circle cx="517.1" cy="286.5" r="0.99" fill="#a0d880"/><circle cx="503.2" cy="313.2" r="0.74" fill="#60c8d8"/><circle cx="515.8" cy="315.1" r="1.01" fill="#60c8d8"/><circle cx="524.5" cy="303.2" r="0.65" fill="#a0d880"/><circle cx="522.4" cy="290.5" r="0.59" fill="#d8d860"/><circle cx="521.8" cy="291.0" r="0.53" fill="#d8d860"/><circle cx="498.1" cy="304.2" r="0.80" fill="#60c8d8"/><circle cx="523.6" cy="308.0" r="0.84" fill="#a0d880"/><circle cx="502.7" cy="313.7" r="0.86" fill="#3a90d8"/><circle cx="518.3" cy="313.2" r="0.87" fill="#3a90d8"/><circle cx="499.6" cy="308.3" r="0.55" fill="#60c8d8"/><circle cx="523.1" cy="309.1" r="0.64" fill="#d8d860"/><circle cx="498.1" cy="291.4" r="0.92" fill="#60c8d8"/><circle cx="506.7" cy="313.8" r="0.67" fill="#60c8d8"/><circle cx="519.3" cy="288.3" r="0.86" fill="#3a90d8"/><circle cx="523.9" cy="305.0" r="0.97" fill="#60c8d8"/><circle cx="498.3" cy="294.5" r="0.62" fill="#d8d860"/><circle cx="523.5" cy="307.4" r="0.86" fill="#3a90d8"/></g>
</g>
<g clip-path="url(#cD)">
<rect x="533.6" y="271.0" width="59.7" height="59.0" fill="#080808"/>
<g filter="url(#b15)">
<ellipse cx="562.5" cy="302.5" rx="31" ry="31" fill="#2c2c2c"/>
<ellipse cx="563.5" cy="301.5" rx="27.5" ry="27.5" fill="#060606"/>
<rect x="531.6" y="270.0" width="63.7" height="5" fill="#080808"/>
</g>
<ellipse cx="564.5" cy="301.5" rx="26.5" ry="27.5" fill="none" stroke="#6c6c6c" stroke-width="3.0" stroke-dasharray="0 30 105 300" filter="url(#b1)"/>
<ellipse cx="588.3" cy="324.0" rx="13" ry="14" fill="#6a6a6a" filter="url(#b15)"/>
<g filter="url(#b06)" opacity="1.00"><circle cx="575.7" cy="326.5" r="2.5" fill="#ffffff"/><circle cx="577.3" cy="319.8" r="2.0" fill="#ffffff"/><circle cx="594.1" cy="305.7" r="2.5" fill="#f4f4f4"/><circle cx="582.8" cy="325.5" r="2.6" fill="#b8b8b8"/><circle cx="585.1" cy="329.4" r="1.4" fill="#ffffff"/><circle cx="590.3" cy="327.9" r="2.7" fill="#f4f4f4"/><circle cx="592.5" cy="306.1" r="1.7" fill="#b8b8b8"/><circle cx="579.2" cy="330.9" r="1.4" fill="#1a1a1a"/><circle cx="592.8" cy="309.8" r="1.8" fill="#ffffff"/><circle cx="581.1" cy="311.5" r="2.1" fill="#f4f4f4"/><circle cx="589.1" cy="327.5" r="1.8" fill="#8a8a8a"/><circle cx="587.8" cy="320.0" r="2.6" fill="#b8b8b8"/><circle cx="594.3" cy="326.8" r="2.2" fill="#8a8a8a"/><circle cx="577.2" cy="315.5" r="2.1" fill="#e0e0e0"/><circle cx="589.8" cy="322.0" r="1.9" fill="#8a8a8a"/><circle cx="579.9" cy="313.4" r="2.2" fill="#e0e0e0"/><circle cx="579.7" cy="322.4" r="2.6" fill="#f4f4f4"/><circle cx="579.6" cy="314.5" r="2.3" fill="#e0e0e0"/><circle cx="585.1" cy="311.8" r="1.8" fill="#8a8a8a"/><circle cx="580.9" cy="312.2" r="2.8" fill="#1a1a1a"/><circle cx="592.7" cy="325.8" r="1.5" fill="#ffffff"/><circle cx="591.4" cy="329.3" r="1.9" fill="#b8b8b8"/><circle cx="585.5" cy="311.3" r="2.4" fill="#ffffff"/><circle cx="583.6" cy="322.8" r="1.4" fill="#ffffff"/><circle cx="587.4" cy="329.9" r="1.4" fill="#8a8a8a"/><circle cx="582.6" cy="309.8" r="2.4" fill="#8a8a8a"/><circle cx="587.8" cy="314.3" r="2.2" fill="#b8b8b8"/><circle cx="583.5" cy="326.4" r="2.3" fill="#8a8a8a"/><circle cx="583.4" cy="326.7" r="2.7" fill="#f4f4f4"/><circle cx="587.1" cy="305.7" r="1.6" fill="#f4f4f4"/></g>
<g filter="url(#b1)" opacity="1.00"><circle cx="563.8" cy="329.8" r="1.2" fill="#b0b0b0"/><circle cx="551.1" cy="327.8" r="1.8" fill="#b0b0b0"/><circle cx="573.0" cy="326.0" r="1.6" fill="#b0b0b0"/><circle cx="572.1" cy="327.4" r="1.6" fill="#8a8a8a"/><circle cx="566.4" cy="330.8" r="1.3" fill="#b0b0b0"/><circle cx="565.1" cy="326.7" r="1.0" fill="#444"/><circle cx="571.2" cy="326.9" r="1.9" fill="#666"/><circle cx="561.7" cy="323.5" r="1.1" fill="#b0b0b0"/><circle cx="566.5" cy="330.9" r="1.8" fill="#b0b0b0"/><circle cx="549.6" cy="327.9" r="1.4" fill="#b0b0b0"/></g>
<g filter="url(#b1)" opacity="0.55"><circle cx="556.8" cy="322.3" r="1.6" fill="#2a2a2a"/><circle cx="572.2" cy="319.2" r="1.1" fill="#4a4a4a"/><circle cx="538.1" cy="297.8" r="1.1" fill="#3a3a3a"/><circle cx="559.4" cy="305.7" r="1.1" fill="#3a3a3a"/><circle cx="576.6" cy="299.9" r="1.4" fill="#555"/><circle cx="556.2" cy="321.9" r="1.9" fill="#4a4a4a"/><circle cx="583.2" cy="301.7" r="1.2" fill="#3a3a3a"/><circle cx="541.7" cy="320.2" r="1.9" fill="#3a3a3a"/><circle cx="547.1" cy="300.0" r="1.7" fill="#4a4a4a"/><circle cx="550.7" cy="281.3" r="1.8" fill="#2a2a2a"/><circle cx="577.5" cy="284.1" r="1.0" fill="#555"/><circle cx="560.8" cy="321.3" r="1.9" fill="#3a3a3a"/><circle cx="580.1" cy="321.8" r="1.2" fill="#2a2a2a"/><circle cx="551.8" cy="322.1" r="1.3" fill="#4a4a4a"/><circle cx="558.1" cy="286.4" r="1.5" fill="#3a3a3a"/><circle cx="552.8" cy="313.0" r="2.1" fill="#4a4a4a"/><circle cx="579.4" cy="290.2" r="2.0" fill="#555"/><circle cx="549.0" cy="304.9" r="1.4" fill="#3a3a3a"/><circle cx="567.6" cy="291.3" r="1.3" fill="#2a2a2a"/><circle cx="582.2" cy="323.0" r="1.3" fill="#4a4a4a"/><circle cx="541.9" cy="283.5" r="1.2" fill="#2a2a2a"/><circle cx="562.3" cy="309.3" r="1.4" fill="#555"/><circle cx="539.7" cy="289.6" r="1.7" fill="#3a3a3a"/><circle cx="542.5" cy="312.0" r="1.7" fill="#2a2a2a"/><circle cx="557.4" cy="309.5" r="1.4" fill="#2a2a2a"/><circle cx="577.6" cy="284.8" r="1.3" fill="#2a2a2a"/></g>
<g filter="url(#b03)">
<ellipse cx="570.5" cy="299.5" rx="13.8" ry="17.0" fill="#040404" transform="rotate(-14 570.5 299.5)"/>
<ellipse cx="570.5" cy="299.5" rx="13.8" ry="17.0" fill="none" stroke="#cc8848" stroke-width="4.2" transform="rotate(-14 570.5 299.5)"/>
<ellipse cx="570.5" cy="299.5" rx="13.8" ry="17.0" fill="none" stroke="#3250c0" stroke-width="3.3" transform="rotate(-14 570.5 299.5)"/>
</g>
<g filter="url(#b03)" opacity="1.00"><circle cx="565.5" cy="315.6" r="1.00" fill="#38c8c8"/><circle cx="574.4" cy="284.2" r="0.91" fill="#3a80e0"/><circle cx="563.1" cy="313.1" r="1.11" fill="#38c8c8"/><circle cx="580.0" cy="289.1" r="0.75" fill="#40b0d8"/><circle cx="561.8" cy="283.7" r="0.84" fill="#40b0d8"/><circle cx="555.9" cy="299.2" r="0.82" fill="#40b0d8"/><circle cx="577.1" cy="286.0" r="0.81" fill="#38c8c8"/><circle cx="570.8" cy="281.6" r="1.01" fill="#3a80e0"/><circle cx="565.1" cy="284.8" r="0.91" fill="#3a80e0"/><circle cx="558.2" cy="302.9" r="0.78" fill="#40b0d8"/><circle cx="570.0" cy="282.4" r="0.53" fill="#88d880"/><circle cx="558.3" cy="306.1" r="0.72" fill="#88d880"/><circle cx="560.1" cy="308.5" r="0.60" fill="#40b0d8"/><circle cx="583.4" cy="309.4" r="0.58" fill="#40b0d8"/><circle cx="557.7" cy="302.3" r="0.90" fill="#3a80e0"/><circle cx="583.8" cy="295.3" r="1.06" fill="#40b0d8"/><circle cx="567.0" cy="282.5" r="0.81" fill="#3a80e0"/><circle cx="561.0" cy="287.4" r="0.84" fill="#88d880"/><circle cx="571.3" cy="282.2" r="1.06" fill="#88d880"/><circle cx="583.2" cy="305.4" r="0.55" fill="#38c8c8"/><circle cx="583.1" cy="292.1" r="0.59" fill="#38c8c8"/><circle cx="558.2" cy="306.4" r="0.69" fill="#3a80e0"/><circle cx="583.3" cy="306.6" r="0.78" fill="#88d880"/><circle cx="557.4" cy="297.9" r="1.06" fill="#40b0d8"/><circle cx="566.0" cy="315.3" r="0.93" fill="#38c8c8"/><circle cx="561.2" cy="311.0" r="0.65" fill="#88d880"/><circle cx="583.5" cy="300.5" r="0.80" fill="#38c8c8"/><circle cx="557.0" cy="292.8" r="0.85" fill="#88d880"/><circle cx="585.0" cy="296.2" r="1.03" fill="#88d880"/><circle cx="558.2" cy="290.1" r="0.92" fill="#88d880"/><circle cx="580.4" cy="313.4" r="1.02" fill="#38c8c8"/><circle cx="559.3" cy="288.7" r="0.78" fill="#40b0d8"/><circle cx="579.6" cy="287.9" r="0.60" fill="#3a80e0"/><circle cx="583.5" cy="305.4" r="1.03" fill="#3a80e0"/><circle cx="559.8" cy="308.9" r="0.81" fill="#3a80e0"/><circle cx="570.2" cy="282.7" r="1.10" fill="#3a80e0"/><circle cx="583.3" cy="293.1" r="0.62" fill="#88d880"/><circle cx="555.6" cy="296.0" r="0.86" fill="#88d880"/><circle cx="560.8" cy="287.3" r="0.74" fill="#40b0d8"/><circle cx="568.8" cy="315.6" r="0.71" fill="#38c8c8"/><circle cx="584.9" cy="302.4" r="0.90" fill="#3a80e0"/><circle cx="579.5" cy="311.9" r="0.53" fill="#38c8c8"/><circle cx="580.0" cy="314.1" r="1.09" fill="#38c8c8"/><circle cx="579.1" cy="313.1" r="0.99" fill="#3a80e0"/><circle cx="584.5" cy="300.8" r="0.58" fill="#40b0d8"/><circle cx="570.2" cy="283.4" r="1.01" fill="#3a80e0"/><circle cx="556.3" cy="291.9" r="1.09" fill="#38c8c8"/><circle cx="575.1" cy="284.7" r="1.08" fill="#38c8c8"/><circle cx="582.6" cy="308.2" r="0.79" fill="#3a80e0"/><circle cx="578.8" cy="315.3" r="1.04" fill="#40b0d8"/><circle cx="584.0" cy="301.4" r="0.70" fill="#88d880"/><circle cx="562.7" cy="311.2" r="1.04" fill="#88d880"/><circle cx="583.8" cy="303.5" r="0.96" fill="#3a80e0"/><circle cx="559.7" cy="308.9" r="0.99" fill="#3a80e0"/><circle cx="561.2" cy="311.1" r="0.76" fill="#3a80e0"/><circle cx="564.4" cy="313.8" r="0.55" fill="#88d880"/><circle cx="570.4" cy="283.8" r="0.90" fill="#40b0d8"/><circle cx="570.6" cy="315.7" r="0.59" fill="#40b0d8"/><circle cx="571.1" cy="282.6" r="0.97" fill="#40b0d8"/><circle cx="565.2" cy="314.2" r="0.84" fill="#40b0d8"/><circle cx="561.0" cy="310.3" r="1.03" fill="#88d880"/><circle cx="583.6" cy="306.1" r="0.69" fill="#88d880"/><circle cx="570.0" cy="281.8" r="1.06" fill="#38c8c8"/><circle cx="560.7" cy="286.5" r="0.85" fill="#40b0d8"/><circle cx="573.8" cy="282.7" r="0.85" fill="#40b0d8"/><circle cx="558.0" cy="293.0" r="0.53" fill="#38c8c8"/><circle cx="578.4" cy="287.4" r="1.06" fill="#88d880"/><circle cx="583.6" cy="307.8" r="1.02" fill="#88d880"/><circle cx="583.5" cy="297.0" r="0.97" fill="#3a80e0"/><circle cx="582.3" cy="292.3" r="0.80" fill="#40b0d8"/></g>
<g filter="url(#b03)" opacity="1.00"><circle cx="556.5" cy="293.4" r="0.48" fill="#e0a040"/><circle cx="558.1" cy="304.8" r="0.50" fill="#e0a040"/><circle cx="580.5" cy="290.4" r="0.65" fill="#e0a040"/><circle cx="556.5" cy="297.3" r="0.53" fill="#e0a040"/><circle cx="561.4" cy="311.1" r="0.65" fill="#e0a040"/><circle cx="582.2" cy="289.7" r="0.86" fill="#d8d850"/><circle cx="563.4" cy="285.2" r="0.86" fill="#e0a040"/><circle cx="557.8" cy="292.1" r="0.90" fill="#e0a040"/><circle cx="560.1" cy="288.6" r="0.87" fill="#d8d850"/><circle cx="560.4" cy="288.3" r="0.50" fill="#d8d850"/><circle cx="578.4" cy="287.4" r="0.50" fill="#e0a040"/><circle cx="583.4" cy="293.1" r="0.66" fill="#e0a040"/><circle cx="567.9" cy="282.7" r="0.57" fill="#e0a040"/><circle cx="566.0" cy="284.1" r="0.57" fill="#d8d850"/></g>
</g>
<g clip-path="url(#cE)">
<rect x="593.3" y="271.0" width="60.0" height="59.0" fill="#101010"/>
<g filter="url(#b15)">
<ellipse cx="620.3" cy="303.8" rx="31" ry="31" fill="#3c3c3c"/>
<ellipse cx="621.3" cy="302.8" rx="27.5" ry="27.5" fill="#0a0a0a"/>
<rect x="591.3" y="270.0" width="64.0" height="5" fill="#080808"/>
</g>
<ellipse cx="622.3" cy="302.8" rx="26.5" ry="27.5" fill="none" stroke="#6c6c6c" stroke-width="3.0" stroke-dasharray="0 30 105 300" filter="url(#b1)"/>
<ellipse cx="648.3" cy="324.0" rx="13" ry="14" fill="#6a6a6a" filter="url(#b15)"/>
<g filter="url(#b06)" opacity="1.00"><circle cx="637.8" cy="324.3" r="1.4" fill="#f4f4f4"/><circle cx="652.8" cy="326.9" r="2.6" fill="#ffffff"/><circle cx="641.0" cy="322.7" r="2.6" fill="#ffffff"/><circle cx="649.2" cy="306.5" r="1.8" fill="#8a8a8a"/><circle cx="648.9" cy="317.7" r="2.6" fill="#1a1a1a"/><circle cx="643.2" cy="322.6" r="2.3" fill="#1a1a1a"/><circle cx="654.0" cy="324.8" r="1.8" fill="#1a1a1a"/><circle cx="650.4" cy="317.0" r="1.5" fill="#ffffff"/><circle cx="643.1" cy="326.4" r="2.3" fill="#e0e0e0"/><circle cx="638.7" cy="315.8" r="2.3" fill="#e0e0e0"/><circle cx="647.8" cy="305.5" r="2.6" fill="#8a8a8a"/><circle cx="647.1" cy="314.1" r="2.8" fill="#ffffff"/><circle cx="647.9" cy="328.7" r="2.3" fill="#8a8a8a"/><circle cx="652.7" cy="326.4" r="1.9" fill="#ffffff"/><circle cx="634.6" cy="321.0" r="2.2" fill="#ffffff"/><circle cx="651.0" cy="314.5" r="1.3" fill="#1a1a1a"/><circle cx="650.9" cy="321.2" r="2.8" fill="#8a8a8a"/><circle cx="646.3" cy="310.5" r="2.6" fill="#1a1a1a"/><circle cx="640.8" cy="314.1" r="2.8" fill="#ffffff"/><circle cx="651.8" cy="320.0" r="2.4" fill="#1a1a1a"/><circle cx="636.8" cy="320.5" r="1.9" fill="#ffffff"/><circle cx="635.2" cy="321.2" r="2.3" fill="#8a8a8a"/><circle cx="644.9" cy="310.9" r="1.2" fill="#b8b8b8"/><circle cx="642.6" cy="322.9" r="1.7" fill="#ffffff"/><circle cx="644.8" cy="311.9" r="2.1" fill="#f4f4f4"/><circle cx="642.5" cy="328.2" r="2.7" fill="#ffffff"/><circle cx="649.7" cy="323.2" r="2.2" fill="#ffffff"/><circle cx="640.5" cy="314.8" r="1.8" fill="#e0e0e0"/><circle cx="649.3" cy="326.8" r="2.8" fill="#ffffff"/><circle cx="646.6" cy="326.5" r="1.4" fill="#ffffff"/></g>
<g filter="url(#b1)" opacity="1.00"><circle cx="624.2" cy="324.1" r="2.0" fill="#b0b0b0"/><circle cx="609.0" cy="326.5" r="1.8" fill="#8a8a8a"/><circle cx="614.6" cy="324.7" r="1.3" fill="#444"/><circle cx="616.3" cy="328.3" r="1.9" fill="#666"/><circle cx="632.2" cy="330.4" r="1.3" fill="#b0b0b0"/><circle cx="609.8" cy="327.7" r="1.1" fill="#8a8a8a"/><circle cx="621.7" cy="328.5" r="1.2" fill="#8a8a8a"/><circle cx="630.4" cy="324.1" r="1.8" fill="#444"/><circle cx="631.3" cy="327.0" r="1.4" fill="#b0b0b0"/><circle cx="608.4" cy="327.2" r="1.9" fill="#8a8a8a"/></g>
<g filter="url(#b1)" opacity="0.55"><circle cx="613.0" cy="287.3" r="1.5" fill="#3a3a3a"/><circle cx="617.6" cy="303.7" r="1.3" fill="#555"/><circle cx="632.5" cy="292.8" r="1.1" fill="#2a2a2a"/><circle cx="615.1" cy="287.9" r="1.0" fill="#4a4a4a"/><circle cx="635.9" cy="325.1" r="1.7" fill="#4a4a4a"/><circle cx="620.8" cy="321.6" r="1.8" fill="#555"/><circle cx="628.9" cy="323.9" r="1.4" fill="#3a3a3a"/><circle cx="599.9" cy="279.8" r="2.0" fill="#3a3a3a"/><circle cx="622.0" cy="298.7" r="1.4" fill="#555"/><circle cx="611.8" cy="287.9" r="1.5" fill="#2a2a2a"/><circle cx="596.9" cy="307.6" r="2.0" fill="#4a4a4a"/><circle cx="608.5" cy="284.9" r="1.4" fill="#3a3a3a"/><circle cx="608.5" cy="286.3" r="2.2" fill="#4a4a4a"/><circle cx="645.2" cy="304.4" r="1.1" fill="#555"/><circle cx="641.2" cy="289.2" r="1.2" fill="#4a4a4a"/><circle cx="595.4" cy="322.1" r="2.0" fill="#555"/><circle cx="597.8" cy="323.6" r="1.3" fill="#3a3a3a"/><circle cx="600.5" cy="304.1" r="1.1" fill="#2a2a2a"/><circle cx="600.7" cy="313.8" r="1.5" fill="#4a4a4a"/><circle cx="608.5" cy="297.5" r="2.0" fill="#4a4a4a"/><circle cx="624.7" cy="296.7" r="1.3" fill="#2a2a2a"/><circle cx="646.5" cy="311.6" r="1.3" fill="#3a3a3a"/><circle cx="602.0" cy="319.0" r="1.3" fill="#4a4a4a"/><circle cx="622.8" cy="295.2" r="2.0" fill="#4a4a4a"/><circle cx="598.1" cy="308.7" r="1.6" fill="#2a2a2a"/><circle cx="648.3" cy="290.1" r="1.1" fill="#2a2a2a"/></g>
<g filter="url(#b03)">
<ellipse cx="628.3" cy="300.8" rx="14.6" ry="17.2" fill="#050505" transform="rotate(-14 628.3 300.8)"/>
<ellipse cx="628.3" cy="300.8" rx="14.9" ry="17.5" fill="none" stroke="#3054c0" stroke-width="4.2" transform="rotate(-14 628.3 300.8)"/>
<ellipse cx="628.3" cy="300.8" rx="14.7" ry="17.3" fill="none" stroke="#40b8c8" stroke-width="3.0" transform="rotate(-14 628.3 300.8)"/>
<ellipse cx="628.3" cy="300.8" rx="14.3" ry="16.9" fill="none" stroke="#98d468" stroke-width="2.0" transform="rotate(-14 628.3 300.8)"/>
<ellipse cx="628.3" cy="300.8" rx="13.8" ry="16.4" fill="none" stroke="#e4cc40" stroke-width="1.1" transform="rotate(-14 628.3 300.8)"/>
</g>
<g filter="url(#b03)" opacity="1.00"><circle cx="627.1" cy="284.0" r="0.53" fill="#f07828"/><circle cx="616.2" cy="290.2" r="0.97" fill="#e84a20"/><circle cx="615.0" cy="291.3" r="0.53" fill="#e84a20"/><circle cx="613.5" cy="300.1" r="0.86" fill="#f0a030"/><circle cx="613.7" cy="300.0" r="0.60" fill="#e84a20"/><circle cx="616.9" cy="288.8" r="0.61" fill="#f0a030"/><circle cx="616.1" cy="289.4" r="0.96" fill="#f0a030"/><circle cx="623.5" cy="284.6" r="0.71" fill="#f07828"/><circle cx="615.8" cy="290.8" r="0.76" fill="#f07828"/><circle cx="614.1" cy="295.2" r="0.98" fill="#e84a20"/><circle cx="622.0" cy="284.4" r="1.01" fill="#e84a20"/><circle cx="614.1" cy="294.7" r="1.04" fill="#f0a030"/><circle cx="617.0" cy="289.5" r="0.82" fill="#f07828"/><circle cx="614.3" cy="292.7" r="0.92" fill="#e84a20"/><circle cx="623.7" cy="284.0" r="0.97" fill="#e84a20"/><circle cx="616.5" cy="289.1" r="1.02" fill="#f07828"/><circle cx="617.9" cy="287.9" r="0.60" fill="#e84a20"/><circle cx="621.4" cy="285.6" r="0.79" fill="#f0a030"/><circle cx="615.7" cy="291.5" r="0.96" fill="#f0a030"/><circle cx="613.7" cy="302.0" r="0.88" fill="#e84a20"/><circle cx="626.4" cy="283.6" r="1.02" fill="#f0a030"/><circle cx="619.4" cy="287.0" r="0.63" fill="#e84a20"/><circle cx="613.4" cy="301.3" r="0.60" fill="#f07828"/><circle cx="614.2" cy="296.2" r="0.82" fill="#e84a20"/><circle cx="624.4" cy="284.0" r="0.77" fill="#f07828"/><circle cx="614.4" cy="303.7" r="0.95" fill="#e84a20"/><circle cx="614.0" cy="299.5" r="0.83" fill="#f07828"/><circle cx="613.8" cy="298.4" r="1.04" fill="#f0a030"/><circle cx="613.9" cy="295.4" r="0.68" fill="#f07828"/><circle cx="613.5" cy="296.0" r="0.88" fill="#f0a030"/></g>
<g filter="url(#b03)" opacity="1.00"><circle cx="635.4" cy="316.9" r="0.86" fill="#f08030"/><circle cx="630.2" cy="317.4" r="0.93" fill="#e85020"/><circle cx="632.6" cy="317.2" r="0.63" fill="#e85020"/><circle cx="630.4" cy="317.5" r="0.94" fill="#f08030"/><circle cx="636.9" cy="315.8" r="0.60" fill="#e85020"/><circle cx="632.5" cy="317.9" r="0.88" fill="#f08030"/><circle cx="637.6" cy="315.0" r="0.73" fill="#f08030"/><circle cx="629.5" cy="318.1" r="0.70" fill="#e85020"/><circle cx="636.0" cy="315.5" r="0.66" fill="#f08030"/><circle cx="633.4" cy="317.3" r="0.85" fill="#e85020"/><circle cx="632.9" cy="317.4" r="0.71" fill="#e85020"/><circle cx="632.7" cy="317.2" r="0.65" fill="#f08030"/></g>
<g filter="url(#b03)" opacity="1.00"><circle cx="642.6" cy="299.5" r="0.87" fill="#f0e040"/><circle cx="638.7" cy="315.0" r="0.49" fill="#60d8a0"/><circle cx="618.1" cy="286.2" r="0.45" fill="#38b0e0"/><circle cx="642.8" cy="305.7" r="0.53" fill="#38b0e0"/><circle cx="618.3" cy="286.2" r="0.80" fill="#f0e040"/><circle cx="615.3" cy="293.0" r="0.66" fill="#38b0e0"/><circle cx="614.2" cy="301.5" r="0.50" fill="#f0e040"/><circle cx="614.9" cy="292.2" r="0.80" fill="#f0e040"/><circle cx="627.1" cy="318.4" r="0.67" fill="#38b0e0"/><circle cx="613.9" cy="299.1" r="0.52" fill="#38b0e0"/><circle cx="613.0" cy="305.2" r="0.73" fill="#f0e040"/><circle cx="617.5" cy="309.7" r="0.59" fill="#38b0e0"/><circle cx="633.2" cy="286.1" r="0.79" fill="#38b0e0"/><circle cx="613.7" cy="306.1" r="0.75" fill="#f0e040"/><circle cx="617.5" cy="287.9" r="0.49" fill="#38b0e0"/><circle cx="614.7" cy="299.3" r="0.67" fill="#38b0e0"/><circle cx="615.5" cy="306.0" r="0.68" fill="#f0e040"/><circle cx="628.1" cy="316.3" r="0.52" fill="#38b0e0"/><circle cx="638.1" cy="314.7" r="0.55" fill="#f0e040"/><circle cx="643.4" cy="307.0" r="0.45" fill="#60d8a0"/><circle cx="637.8" cy="288.9" r="0.74" fill="#f0e040"/><circle cx="642.4" cy="294.0" r="0.62" fill="#f0e040"/><circle cx="634.5" cy="287.2" r="0.69" fill="#f0e040"/><circle cx="630.2" cy="285.6" r="0.70" fill="#f0e040"/><circle cx="625.5" cy="318.7" r="0.72" fill="#f0e040"/><circle cx="624.1" cy="316.8" r="0.72" fill="#38b0e0"/><circle cx="633.4" cy="316.7" r="0.67" fill="#f0e040"/><circle cx="634.0" cy="316.8" r="0.64" fill="#38b0e0"/><circle cx="636.4" cy="287.4" r="0.74" fill="#38b0e0"/><circle cx="628.3" cy="282.9" r="0.56" fill="#38b0e0"/></g>
</g>
<g clip-path="url(#cF)">
<rect x="653.3" y="271.0" width="59.7" height="59.0" fill="#101010"/>
<g filter="url(#b15)">
<ellipse cx="681.5" cy="302.5" rx="31" ry="31" fill="#3c3c3c"/>
<ellipse cx="682.5" cy="301.5" rx="27.5" ry="27.5" fill="#0a0a0a"/>
<rect x="651.3" y="270.0" width="63.7" height="5" fill="#080808"/>
</g>
<ellipse cx="683.5" cy="301.5" rx="26.5" ry="27.5" fill="none" stroke="#6c6c6c" stroke-width="3.0" stroke-dasharray="0 30 105 300" filter="url(#b1)"/>
<ellipse cx="708.0" cy="324.0" rx="13" ry="14" fill="#6a6a6a" filter="url(#b15)"/>
<g filter="url(#b06)" opacity="1.00"><circle cx="704.9" cy="313.7" r="1.6" fill="#1a1a1a"/><circle cx="713.7" cy="317.9" r="2.8" fill="#8a8a8a"/><circle cx="711.2" cy="311.9" r="2.6" fill="#ffffff"/><circle cx="701.9" cy="316.0" r="1.4" fill="#8a8a8a"/><circle cx="702.7" cy="311.1" r="1.4" fill="#e0e0e0"/><circle cx="695.8" cy="330.7" r="1.2" fill="#f4f4f4"/><circle cx="711.5" cy="328.6" r="2.8" fill="#ffffff"/><circle cx="697.5" cy="317.9" r="2.5" fill="#f4f4f4"/><circle cx="713.2" cy="313.5" r="2.3" fill="#ffffff"/><circle cx="700.3" cy="317.8" r="2.7" fill="#1a1a1a"/><circle cx="708.6" cy="311.2" r="1.4" fill="#f4f4f4"/><circle cx="707.5" cy="311.2" r="1.8" fill="#ffffff"/><circle cx="708.4" cy="315.8" r="1.9" fill="#e0e0e0"/><circle cx="698.0" cy="317.8" r="2.5" fill="#b8b8b8"/><circle cx="706.3" cy="306.4" r="1.7" fill="#ffffff"/><circle cx="707.8" cy="310.9" r="2.3" fill="#8a8a8a"/><circle cx="699.3" cy="327.9" r="1.3" fill="#e0e0e0"/><circle cx="713.9" cy="316.8" r="2.0" fill="#e0e0e0"/><circle cx="699.0" cy="324.3" r="2.8" fill="#ffffff"/><circle cx="704.9" cy="310.1" r="1.6" fill="#ffffff"/><circle cx="705.8" cy="313.5" r="1.9" fill="#ffffff"/><circle cx="713.9" cy="321.2" r="1.9" fill="#8a8a8a"/><circle cx="698.0" cy="324.5" r="1.9" fill="#8a8a8a"/><circle cx="699.0" cy="325.3" r="1.4" fill="#e0e0e0"/><circle cx="706.5" cy="311.6" r="1.2" fill="#b8b8b8"/><circle cx="702.7" cy="326.2" r="2.7" fill="#ffffff"/><circle cx="713.7" cy="311.9" r="1.8" fill="#ffffff"/><circle cx="712.4" cy="322.9" r="1.7" fill="#8a8a8a"/><circle cx="710.7" cy="327.0" r="1.6" fill="#b8b8b8"/><circle cx="694.1" cy="317.5" r="2.0" fill="#e0e0e0"/></g>
<g filter="url(#b1)" opacity="1.00"><circle cx="680.0" cy="327.7" r="1.9" fill="#8a8a8a"/><circle cx="674.2" cy="327.8" r="1.4" fill="#444"/><circle cx="681.7" cy="325.9" r="1.7" fill="#444"/><circle cx="680.9" cy="325.0" r="1.3" fill="#444"/><circle cx="669.5" cy="325.8" r="1.6" fill="#8a8a8a"/><circle cx="678.3" cy="329.8" r="1.7" fill="#666"/><circle cx="692.4" cy="330.7" r="1.4" fill="#8a8a8a"/><circle cx="688.5" cy="327.0" r="1.2" fill="#444"/><circle cx="669.2" cy="324.9" r="1.8" fill="#666"/><circle cx="680.2" cy="323.1" r="1.6" fill="#666"/></g>
<g filter="url(#b1)" opacity="0.55"><circle cx="683.5" cy="287.7" r="1.1" fill="#3a3a3a"/><circle cx="670.7" cy="316.1" r="1.6" fill="#2a2a2a"/><circle cx="689.5" cy="305.5" r="1.8" fill="#2a2a2a"/><circle cx="680.1" cy="318.0" r="1.4" fill="#3a3a3a"/><circle cx="708.2" cy="317.9" r="1.9" fill="#3a3a3a"/><circle cx="686.8" cy="282.3" r="1.3" fill="#3a3a3a"/><circle cx="684.8" cy="307.5" r="1.5" fill="#3a3a3a"/><circle cx="664.6" cy="321.4" r="1.0" fill="#3a3a3a"/><circle cx="672.4" cy="293.7" r="1.5" fill="#2a2a2a"/><circle cx="686.2" cy="321.3" r="1.0" fill="#2a2a2a"/><circle cx="679.4" cy="300.0" r="1.8" fill="#555"/><circle cx="666.5" cy="291.6" r="1.3" fill="#2a2a2a"/><circle cx="674.9" cy="279.5" r="1.3" fill="#2a2a2a"/><circle cx="684.2" cy="315.9" r="1.1" fill="#4a4a4a"/><circle cx="697.8" cy="292.1" r="1.0" fill="#3a3a3a"/><circle cx="659.0" cy="293.0" r="2.1" fill="#3a3a3a"/><circle cx="703.7" cy="321.5" r="1.9" fill="#3a3a3a"/><circle cx="681.9" cy="317.4" r="1.3" fill="#3a3a3a"/><circle cx="679.6" cy="315.0" r="2.2" fill="#2a2a2a"/><circle cx="681.0" cy="296.8" r="1.1" fill="#3a3a3a"/><circle cx="683.3" cy="314.2" r="1.1" fill="#555"/><circle cx="691.8" cy="281.2" r="2.1" fill="#2a2a2a"/><circle cx="667.6" cy="319.8" r="1.6" fill="#3a3a3a"/><circle cx="701.2" cy="304.9" r="1.3" fill="#2a2a2a"/><circle cx="668.3" cy="281.0" r="1.7" fill="#2a2a2a"/><circle cx="663.3" cy="290.9" r="1.1" fill="#4a4a4a"/></g>
<g filter="url(#b03)">
<ellipse cx="689.5" cy="299.5" rx="14.2" ry="16.0" fill="#050505" transform="rotate(-14 689.5 299.5)"/>
<ellipse cx="689.5" cy="299.5" rx="14.2" ry="16.0" fill="none" stroke="#2c48c0" stroke-width="4.0" transform="rotate(-14 689.5 299.5)"/>
<ellipse cx="689.5" cy="299.5" rx="14.2" ry="16.0" fill="none" stroke="#3c6cd8" stroke-width="2.6" transform="rotate(-14 689.5 299.5)"/>
</g>
<g filter="url(#b03)" opacity="1.00"><circle cx="675.5" cy="295.8" r="1.07" fill="#a8d860"/><circle cx="674.9" cy="297.1" r="0.79" fill="#e0e040"/><circle cx="676.3" cy="291.5" r="0.73" fill="#60c8c0"/><circle cx="676.4" cy="294.3" r="1.09" fill="#a8d860"/><circle cx="679.0" cy="309.2" r="0.77" fill="#e0e040"/><circle cx="678.0" cy="306.9" r="0.87" fill="#c8d848"/><circle cx="678.7" cy="310.1" r="0.78" fill="#a8d860"/><circle cx="675.4" cy="305.0" r="1.19" fill="#60c8c0"/><circle cx="678.1" cy="287.8" r="1.23" fill="#60c8c0"/><circle cx="682.8" cy="313.0" r="0.62" fill="#e0e040"/><circle cx="676.9" cy="305.7" r="1.25" fill="#60c8c0"/><circle cx="686.1" cy="314.5" r="0.93" fill="#c8d848"/><circle cx="676.1" cy="296.3" r="1.05" fill="#a8d860"/><circle cx="676.5" cy="294.2" r="0.99" fill="#60c8c0"/><circle cx="680.4" cy="311.2" r="1.18" fill="#e0e040"/><circle cx="678.1" cy="307.4" r="0.96" fill="#c8d848"/><circle cx="678.1" cy="288.8" r="1.13" fill="#c8d848"/><circle cx="675.1" cy="296.5" r="0.85" fill="#a8d860"/><circle cx="682.5" cy="312.4" r="0.68" fill="#c8d848"/><circle cx="675.3" cy="294.1" r="1.22" fill="#c8d848"/><circle cx="681.0" cy="286.3" r="0.96" fill="#60c8c0"/><circle cx="683.1" cy="313.2" r="0.95" fill="#e0e040"/><circle cx="678.0" cy="306.3" r="1.15" fill="#60c8c0"/><circle cx="681.5" cy="313.4" r="1.04" fill="#a8d860"/><circle cx="676.2" cy="293.0" r="1.17" fill="#e0e040"/><circle cx="683.5" cy="284.6" r="1.09" fill="#a8d860"/><circle cx="676.3" cy="302.5" r="1.03" fill="#60c8c0"/><circle cx="683.4" cy="284.7" r="0.61" fill="#c8d848"/><circle cx="677.8" cy="290.0" r="0.82" fill="#a8d860"/><circle cx="677.3" cy="290.3" r="0.80" fill="#60c8c0"/><circle cx="676.0" cy="303.0" r="1.07" fill="#60c8c0"/><circle cx="681.8" cy="284.6" r="0.97" fill="#c8d848"/><circle cx="674.9" cy="300.1" r="0.67" fill="#60c8c0"/><circle cx="677.4" cy="289.7" r="0.67" fill="#e0e040"/><circle cx="675.6" cy="303.9" r="1.16" fill="#60c8c0"/><circle cx="676.2" cy="304.7" r="0.64" fill="#a8d860"/><circle cx="676.4" cy="291.7" r="1.26" fill="#e0e040"/><circle cx="676.0" cy="291.8" r="1.25" fill="#60c8c0"/><circle cx="676.6" cy="306.8" r="0.90" fill="#60c8c0"/><circle cx="682.4" cy="313.8" r="1.07" fill="#a8d860"/><circle cx="679.2" cy="287.8" r="1.07" fill="#c8d848"/><circle cx="680.4" cy="288.0" r="1.15" fill="#60c8c0"/><circle cx="679.8" cy="309.2" r="1.20" fill="#e0e040"/><circle cx="681.5" cy="312.9" r="0.95" fill="#c8d848"/><circle cx="678.5" cy="288.0" r="0.86" fill="#a8d860"/><circle cx="676.4" cy="302.6" r="1.18" fill="#a8d860"/></g>
<g filter="url(#b03)" opacity="1.00"><circle cx="703.0" cy="299.1" r="0.67" fill="#48b8e0"/><circle cx="694.4" cy="314.2" r="1.00" fill="#48b8e0"/><circle cx="701.1" cy="308.4" r="1.02" fill="#3a8ae8"/><circle cx="692.0" cy="314.4" r="0.59" fill="#70d0c0"/><circle cx="704.3" cy="299.3" r="0.91" fill="#3a8ae8"/><circle cx="690.8" cy="314.8" r="0.57" fill="#70d0c0"/><circle cx="702.1" cy="305.5" r="0.92" fill="#48b8e0"/><circle cx="691.7" cy="283.5" r="0.62" fill="#48b8e0"/><circle cx="689.5" cy="316.0" r="0.82" fill="#70d0c0"/><circle cx="691.8" cy="284.2" r="0.97" fill="#70d0c0"/><circle cx="700.3" cy="309.6" r="0.93" fill="#3a8ae8"/><circle cx="700.2" cy="309.6" r="0.92" fill="#48b8e0"/><circle cx="696.6" cy="315.0" r="1.04" fill="#48b8e0"/><circle cx="699.4" cy="311.2" r="0.64" fill="#3a8ae8"/><circle cx="699.8" cy="290.7" r="0.97" fill="#3a8ae8"/><circle cx="693.0" cy="315.3" r="0.57" fill="#70d0c0"/><circle cx="699.3" cy="311.9" r="0.97" fill="#3a8ae8"/><circle cx="704.9" cy="301.3" r="0.77" fill="#3a8ae8"/><circle cx="698.2" cy="286.0" r="0.70" fill="#3a8ae8"/><circle cx="691.5" cy="314.8" r="1.00" fill="#3a8ae8"/><circle cx="698.2" cy="312.0" r="0.77" fill="#70d0c0"/><circle cx="704.0" cy="304.0" r="0.92" fill="#48b8e0"/><circle cx="689.3" cy="315.9" r="1.03" fill="#3a8ae8"/><circle cx="690.3" cy="316.5" r="0.68" fill="#48b8e0"/><circle cx="701.0" cy="292.8" r="0.94" fill="#48b8e0"/><circle cx="697.4" cy="311.9" r="0.67" fill="#3a8ae8"/><circle cx="691.1" cy="283.9" r="0.98" fill="#70d0c0"/><circle cx="690.7" cy="283.9" r="0.55" fill="#48b8e0"/><circle cx="702.3" cy="308.1" r="0.81" fill="#48b8e0"/><circle cx="703.7" cy="300.5" r="0.57" fill="#48b8e0"/><circle cx="698.6" cy="289.0" r="0.78" fill="#3a8ae8"/><circle cx="704.9" cy="300.1" r="1.04" fill="#48b8e0"/><circle cx="702.3" cy="305.9" r="0.92" fill="#48b8e0"/><circle cx="691.6" cy="315.3" r="0.72" fill="#70d0c0"/><circle cx="704.6" cy="302.8" r="1.04" fill="#3a8ae8"/><circle cx="702.2" cy="294.3" r="0.85" fill="#48b8e0"/><circle cx="690.3" cy="316.5" r="0.88" fill="#3a8ae8"/><circle cx="698.9" cy="312.2" r="0.97" fill="#3a8ae8"/><circle cx="702.0" cy="293.4" r="0.55" fill="#48b8e0"/><circle cx="702.6" cy="295.2" r="0.83" fill="#3a8ae8"/></g>
</g>
<defs><radialGradient id="gI" gradientUnits="userSpaceOnUse" cx="515.4" cy="364.9" r="21.5"><stop offset="0.56" stop-color="#d8c848"/><stop offset="0.64" stop-color="#80d098"/><stop offset="0.76" stop-color="#40b4d8"/><stop offset="0.90" stop-color="#2c64d0"/><stop offset="1.00" stop-color="#1c34b0"/></radialGradient></defs>
<g clip-path="url(#cI)">
<rect x="473.8" y="330.0" width="59.8" height="59.3" fill="#3a3a3a"/>
<g filter="url(#b15)">
<ellipse cx="508.0" cy="362.7" rx="32" ry="31" fill="#525252"/>
<ellipse cx="509.0" cy="361.7" rx="27.5" ry="27" fill="#2c2c2c"/>
<ellipse cx="509.0" cy="361.7" rx="26" ry="26" fill="none" stroke="#6a6a6a" stroke-width="2.2" stroke-dasharray="0 40 85 300"/>
<ellipse cx="491.0" cy="374.7" rx="5" ry="4" fill="#707070"/>
<rect x="471.8" y="329.0" width="63.8" height="4.5" fill="#0c0c0c"/>
<ellipse cx="519.6" cy="389.3" rx="13" ry="3.5" fill="#8a8a8a"/>
</g>
<g filter="url(#b1)" opacity="0.50"><circle cx="530.5" cy="355.1" r="1.9" fill="#222"/><circle cx="523.1" cy="381.4" r="1.4" fill="#4a4a4a"/><circle cx="511.9" cy="337.2" r="2.1" fill="#5a5a5a"/><circle cx="481.1" cy="367.1" r="1.8" fill="#4a4a4a"/><circle cx="501.8" cy="344.5" r="1.8" fill="#5a5a5a"/><circle cx="480.9" cy="375.1" r="1.6" fill="#3a3a3a"/><circle cx="511.2" cy="364.5" r="1.2" fill="#3a3a3a"/><circle cx="508.5" cy="355.7" r="1.5" fill="#4a4a4a"/><circle cx="498.1" cy="341.9" r="1.1" fill="#222"/><circle cx="527.3" cy="347.0" r="1.7" fill="#3a3a3a"/><circle cx="498.1" cy="353.6" r="1.2" fill="#5a5a5a"/><circle cx="476.5" cy="360.1" r="1.9" fill="#4a4a4a"/><circle cx="499.4" cy="353.8" r="2.1" fill="#222"/><circle cx="486.8" cy="359.1" r="1.0" fill="#5a5a5a"/><circle cx="479.7" cy="342.9" r="1.6" fill="#3a3a3a"/><circle cx="503.4" cy="375.0" r="1.5" fill="#4a4a4a"/><circle cx="502.7" cy="366.0" r="1.2" fill="#222"/><circle cx="492.0" cy="367.6" r="1.1" fill="#222"/><circle cx="488.1" cy="356.7" r="1.1" fill="#222"/><circle cx="485.9" cy="366.8" r="1.6" fill="#5a5a5a"/><circle cx="511.5" cy="343.2" r="1.3" fill="#3a3a3a"/><circle cx="489.2" cy="337.4" r="1.8" fill="#5a5a5a"/><circle cx="520.8" cy="379.0" r="1.3" fill="#5a5a5a"/><circle cx="513.8" cy="364.2" r="1.6" fill="#5a5a5a"/></g>
<clipPath id="oI"><ellipse cx="513.0" cy="361.7" rx="18.2" ry="20.2" transform="rotate(-18 513.0 361.7)"/></clipPath>
<g filter="url(#b03)">
<ellipse cx="513.0" cy="361.7" rx="18.2" ry="20.2" fill="url(#gI)" transform="rotate(-18 513.0 361.7)"/>
</g>
<g clip-path="url(#oI)">
<g filter="url(#b06)" opacity="0.85"><circle cx="507.6" cy="348.5" r="0.9" fill="#3a70d8"/><circle cx="501.3" cy="349.8" r="1.2" fill="#2c50c8"/><circle cx="516.1" cy="346.4" r="1.8" fill="#3a70d8"/><circle cx="504.9" cy="353.4" r="0.9" fill="#3a70d8"/><circle cx="513.6" cy="354.7" r="0.7" fill="#98d880"/><circle cx="502.7" cy="361.0" r="1.2" fill="#2c50c8"/><circle cx="506.5" cy="362.7" r="1.1" fill="#60c8d0"/><circle cx="512.3" cy="351.5" r="1.5" fill="#60c8d0"/><circle cx="512.9" cy="363.0" r="1.1" fill="#60c8d0"/><circle cx="511.1" cy="349.0" r="1.2" fill="#3a70d8"/><circle cx="508.6" cy="365.4" r="1.5" fill="#98d880"/><circle cx="511.6" cy="360.0" r="1.7" fill="#98d880"/><circle cx="507.2" cy="366.2" r="1.0" fill="#2c50c8"/><circle cx="497.3" cy="357.1" r="0.9" fill="#60c8d0"/><circle cx="509.4" cy="342.8" r="0.9" fill="#98d880"/><circle cx="506.5" cy="360.7" r="1.0" fill="#98d880"/><circle cx="516.4" cy="345.0" r="1.4" fill="#2c50c8"/><circle cx="506.6" cy="355.4" r="1.8" fill="#98d880"/><circle cx="501.5" cy="364.0" r="1.2" fill="#3a70d8"/><circle cx="516.7" cy="343.6" r="1.1" fill="#2c50c8"/><circle cx="508.5" cy="365.2" r="0.8" fill="#2c50c8"/><circle cx="508.3" cy="365.0" r="1.7" fill="#3a70d8"/><circle cx="497.4" cy="344.1" r="0.8" fill="#3a70d8"/><circle cx="511.8" cy="350.0" r="1.0" fill="#2c50c8"/><circle cx="512.6" cy="367.1" r="0.8" fill="#60c8d0"/><circle cx="511.5" cy="366.6" r="1.5" fill="#60c8d0"/><circle cx="502.3" cy="366.5" r="1.0" fill="#60c8d0"/><circle cx="503.8" cy="344.2" r="1.1" fill="#98d880"/><circle cx="513.1" cy="345.8" r="1.2" fill="#60c8d0"/><circle cx="503.6" cy="356.1" r="1.6" fill="#3a70d8"/><circle cx="511.7" cy="356.0" r="1.3" fill="#60c8d0"/><circle cx="499.1" cy="365.4" r="1.2" fill="#3a70d8"/><circle cx="512.7" cy="366.1" r="1.6" fill="#2c50c8"/><circle cx="516.9" cy="343.6" r="0.9" fill="#60c8d0"/><circle cx="509.9" cy="344.0" r="0.9" fill="#60c8d0"/><circle cx="511.2" cy="345.0" r="0.8" fill="#60c8d0"/><circle cx="499.8" cy="365.9" r="1.3" fill="#3a70d8"/><circle cx="496.2" cy="344.4" r="1.6" fill="#2c50c8"/><circle cx="506.8" cy="360.2" r="0.9" fill="#2c50c8"/><circle cx="516.1" cy="346.1" r="1.2" fill="#3a70d8"/><circle cx="516.8" cy="366.7" r="0.7" fill="#60c8d0"/><circle cx="509.6" cy="353.2" r="1.3" fill="#3a70d8"/><circle cx="501.6" cy="355.7" r="0.7" fill="#3a70d8"/><circle cx="516.9" cy="352.8" r="0.7" fill="#3a70d8"/><circle cx="497.2" cy="365.2" r="1.3" fill="#98d880"/><circle cx="509.7" cy="365.9" r="1.0" fill="#60c8d0"/><circle cx="506.6" cy="348.7" r="1.6" fill="#3a70d8"/><circle cx="500.4" cy="347.5" r="1.1" fill="#98d880"/><circle cx="508.9" cy="348.2" r="0.9" fill="#60c8d0"/><circle cx="513.4" cy="353.9" r="0.9" fill="#98d880"/><circle cx="500.4" cy="345.4" r="0.7" fill="#3a70d8"/><circle cx="500.2" cy="357.1" r="0.7" fill="#2c50c8"/><circle cx="514.0" cy="359.7" r="1.5" fill="#2c50c8"/><circle cx="510.4" cy="364.9" r="0.8" fill="#2c50c8"/><circle cx="496.2" cy="356.9" r="1.1" fill="#2c50c8"/><circle cx="513.5" cy="364.2" r="0.7" fill="#3a70d8"/><circle cx="515.7" cy="347.3" r="1.0" fill="#60c8d0"/><circle cx="503.4" cy="345.9" r="1.7" fill="#2c50c8"/><circle cx="504.6" cy="344.2" r="1.3" fill="#60c8d0"/><circle cx="498.4" cy="353.7" r="0.9" fill="#2c50c8"/><circle cx="498.0" cy="345.8" r="1.0" fill="#60c8d0"/><circle cx="497.4" cy="366.8" r="1.3" fill="#2c50c8"/><circle cx="507.1" cy="352.8" r="0.8" fill="#60c8d0"/><circle cx="514.1" cy="367.7" r="1.6" fill="#2c50c8"/><circle cx="496.8" cy="343.1" r="0.8" fill="#2c50c8"/><circle cx="509.8" cy="367.2" r="1.4" fill="#60c8d0"/><circle cx="509.9" cy="343.3" r="1.7" fill="#60c8d0"/><circle cx="502.6" cy="361.4" r="1.2" fill="#3a70d8"/><circle cx="507.1" cy="365.7" r="1.6" fill="#98d880"/><circle cx="508.9" cy="348.9" r="1.7" fill="#60c8d0"/><circle cx="511.4" cy="362.4" r="1.4" fill="#98d880"/><circle cx="513.2" cy="354.7" r="0.7" fill="#60c8d0"/><circle cx="512.1" cy="364.4" r="1.7" fill="#98d880"/><circle cx="505.0" cy="357.2" r="0.8" fill="#98d880"/><circle cx="513.3" cy="351.1" r="1.6" fill="#98d880"/><circle cx="516.8" cy="349.1" r="1.5" fill="#3a70d8"/><circle cx="512.7" cy="349.3" r="1.8" fill="#60c8d0"/><circle cx="513.1" cy="364.8" r="0.8" fill="#60c8d0"/><circle cx="506.4" cy="353.8" r="1.7" fill="#98d880"/><circle cx="510.4" cy="352.0" r="1.1" fill="#2c50c8"/><circle cx="515.9" cy="344.4" r="1.3" fill="#60c8d0"/><circle cx="500.6" cy="343.2" r="1.7" fill="#60c8d0"/><circle cx="511.0" cy="351.0" r="1.2" fill="#3a70d8"/><circle cx="498.5" cy="353.6" r="1.1" fill="#60c8d0"/><circle cx="509.3" cy="364.8" r="0.9" fill="#98d880"/><circle cx="497.1" cy="358.8" r="1.5" fill="#2c50c8"/><circle cx="513.9" cy="367.1" r="1.5" fill="#3a70d8"/><circle cx="511.2" cy="344.2" r="1.5" fill="#2c50c8"/></g>
<g filter="url(#b06)" opacity="0.85"><circle cx="509.0" cy="352.2" r="0.6" fill="#a8d870"/><circle cx="507.8" cy="379.7" r="1.0" fill="#3a80d8"/><circle cx="528.0" cy="360.0" r="0.6" fill="#d8d050"/><circle cx="517.4" cy="362.0" r="0.9" fill="#3a80d8"/><circle cx="505.2" cy="365.4" r="1.1" fill="#3a80d8"/><circle cx="523.8" cy="355.0" r="0.8" fill="#3a80d8"/><circle cx="520.9" cy="362.4" r="1.2" fill="#d8d050"/><circle cx="515.4" cy="370.6" r="0.8" fill="#a8d870"/><circle cx="508.4" cy="367.0" r="0.6" fill="#d8d050"/><circle cx="501.8" cy="357.6" r="1.1" fill="#50c0d8"/><circle cx="509.6" cy="380.9" r="1.3" fill="#a8d870"/><circle cx="515.4" cy="381.1" r="1.3" fill="#50c0d8"/><circle cx="498.6" cy="367.1" r="1.3" fill="#d8d050"/><circle cx="516.6" cy="376.8" r="1.2" fill="#d8d050"/><circle cx="517.6" cy="346.0" r="0.8" fill="#d8d050"/><circle cx="518.0" cy="356.1" r="0.6" fill="#d8d050"/><circle cx="498.2" cy="366.1" r="1.3" fill="#d8d050"/><circle cx="518.0" cy="378.2" r="0.5" fill="#a8d870"/><circle cx="514.5" cy="349.1" r="0.7" fill="#3a80d8"/><circle cx="518.8" cy="369.4" r="1.3" fill="#a8d870"/><circle cx="524.0" cy="354.1" r="1.1" fill="#50c0d8"/><circle cx="497.0" cy="356.7" r="1.3" fill="#3a80d8"/><circle cx="529.2" cy="364.4" r="1.1" fill="#50c0d8"/><circle cx="512.9" cy="367.0" r="0.8" fill="#d8d050"/><circle cx="525.4" cy="378.4" r="1.2" fill="#d8d050"/><circle cx="499.1" cy="347.3" r="0.9" fill="#a8d870"/><circle cx="522.0" cy="350.8" r="0.9" fill="#50c0d8"/><circle cx="523.9" cy="374.1" r="1.2" fill="#3a80d8"/><circle cx="500.2" cy="356.2" r="0.9" fill="#a8d870"/><circle cx="514.8" cy="343.9" r="0.5" fill="#a8d870"/><circle cx="530.5" cy="378.3" r="0.6" fill="#a8d870"/><circle cx="496.1" cy="352.3" r="1.1" fill="#3a80d8"/><circle cx="518.7" cy="380.3" r="1.3" fill="#d8d050"/><circle cx="498.8" cy="364.5" r="0.8" fill="#50c0d8"/><circle cx="530.0" cy="372.4" r="1.2" fill="#50c0d8"/><circle cx="510.8" cy="365.0" r="1.3" fill="#50c0d8"/><circle cx="496.9" cy="360.1" r="1.2" fill="#d8d050"/><circle cx="512.9" cy="379.1" r="1.1" fill="#a8d870"/><circle cx="522.8" cy="379.9" r="1.3" fill="#3a80d8"/><circle cx="528.8" cy="359.5" r="1.2" fill="#50c0d8"/><circle cx="499.9" cy="367.7" r="0.7" fill="#a8d870"/><circle cx="523.9" cy="368.0" r="1.3" fill="#50c0d8"/><circle cx="523.9" cy="376.4" r="1.0" fill="#3a80d8"/><circle cx="530.7" cy="376.7" r="1.0" fill="#50c0d8"/><circle cx="525.9" cy="375.1" r="0.7" fill="#50c0d8"/><circle cx="529.0" cy="371.8" r="0.7" fill="#a8d870"/><circle cx="525.8" cy="372.2" r="0.7" fill="#a8d870"/><circle cx="530.8" cy="357.3" r="1.3" fill="#3a80d8"/><circle cx="527.8" cy="351.1" r="1.2" fill="#50c0d8"/><circle cx="500.2" cy="370.0" r="1.0" fill="#50c0d8"/><circle cx="511.5" cy="358.8" r="0.7" fill="#50c0d8"/><circle cx="507.2" cy="378.2" r="0.5" fill="#50c0d8"/><circle cx="496.7" cy="370.9" r="1.3" fill="#d8d050"/><circle cx="510.0" cy="368.2" r="1.3" fill="#3a80d8"/><circle cx="513.3" cy="374.0" r="0.5" fill="#a8d870"/><circle cx="498.3" cy="343.8" r="0.7" fill="#d8d050"/><circle cx="496.8" cy="357.4" r="0.8" fill="#50c0d8"/><circle cx="526.1" cy="352.1" r="1.1" fill="#d8d050"/><circle cx="510.3" cy="359.5" r="1.1" fill="#50c0d8"/><circle cx="512.4" cy="359.2" r="0.9" fill="#3a80d8"/><circle cx="520.2" cy="358.4" r="1.0" fill="#50c0d8"/><circle cx="519.8" cy="350.2" r="0.6" fill="#d8d050"/><circle cx="503.0" cy="376.6" r="1.0" fill="#3a80d8"/><circle cx="529.8" cy="370.0" r="0.8" fill="#3a80d8"/><circle cx="513.6" cy="379.8" r="0.9" fill="#a8d870"/><circle cx="526.1" cy="350.8" r="1.0" fill="#a8d870"/></g>
</g>
<g filter="url(#b03)">
<ellipse cx="515.4" cy="364.9" rx="12.3" ry="13.2" fill="#191919" transform="rotate(-18 515.4 364.9)"/>
<ellipse cx="517.9" cy="360.9" rx="2.4" ry="1.8" fill="#4c4c4c"/>
<ellipse cx="512.4" cy="369.9" rx="3" ry="2" fill="#303030"/>
</g>
</g>
<defs><linearGradient id="gJ" gradientUnits="userSpaceOnUse" x1="557.6" y1="347.4" x2="586.6" y2="378.4"><stop offset="0.00" stop-color="#d8b048"/><stop offset="0.28" stop-color="#b8d458"/><stop offset="0.50" stop-color="#78d0a0"/><stop offset="0.70" stop-color="#3ca4d8"/><stop offset="1.00" stop-color="#2444c8"/></linearGradient></defs>
<g clip-path="url(#cJ)">
<rect x="533.6" y="330.0" width="59.7" height="59.3" fill="#363636"/>
<g filter="url(#b15)">
<ellipse cx="566.6" cy="363.4" rx="32" ry="31" fill="#4e4e4e"/>
<ellipse cx="567.6" cy="362.4" rx="27.5" ry="27" fill="#2c2c2c"/>
<ellipse cx="567.6" cy="362.4" rx="26" ry="26" fill="none" stroke="#6a6a6a" stroke-width="2.2" stroke-dasharray="0 40 85 300"/>
<ellipse cx="549.6" cy="375.4" rx="5" ry="4" fill="#707070"/>
<rect x="531.6" y="329.0" width="63.7" height="4.5" fill="#0c0c0c"/>
<ellipse cx="579.3" cy="389.3" rx="13" ry="3.5" fill="#8a8a8a"/>
</g>
<g filter="url(#b1)" opacity="0.50"><circle cx="579.4" cy="337.4" r="1.7" fill="#222"/><circle cx="550.1" cy="350.8" r="2.1" fill="#3a3a3a"/><circle cx="583.4" cy="361.3" r="1.2" fill="#5a5a5a"/><circle cx="561.0" cy="360.6" r="1.0" fill="#222"/><circle cx="557.9" cy="352.9" r="1.1" fill="#5a5a5a"/><circle cx="545.6" cy="370.2" r="1.6" fill="#222"/><circle cx="582.1" cy="382.6" r="1.6" fill="#5a5a5a"/><circle cx="568.6" cy="338.4" r="1.6" fill="#5a5a5a"/><circle cx="582.3" cy="342.4" r="1.9" fill="#5a5a5a"/><circle cx="563.9" cy="341.7" r="1.9" fill="#3a3a3a"/><circle cx="574.9" cy="356.8" r="1.0" fill="#4a4a4a"/><circle cx="583.7" cy="363.5" r="2.2" fill="#4a4a4a"/><circle cx="551.3" cy="360.8" r="1.7" fill="#3a3a3a"/><circle cx="571.7" cy="365.7" r="2.1" fill="#222"/><circle cx="536.7" cy="363.7" r="1.8" fill="#5a5a5a"/><circle cx="572.5" cy="385.6" r="1.4" fill="#222"/><circle cx="565.6" cy="381.8" r="2.0" fill="#222"/><circle cx="569.6" cy="361.7" r="1.3" fill="#3a3a3a"/><circle cx="539.8" cy="352.5" r="1.4" fill="#3a3a3a"/><circle cx="590.3" cy="376.2" r="1.7" fill="#222"/><circle cx="554.9" cy="374.6" r="1.9" fill="#222"/><circle cx="555.7" cy="373.5" r="1.5" fill="#222"/><circle cx="586.9" cy="380.8" r="1.6" fill="#222"/><circle cx="539.5" cy="375.0" r="1.1" fill="#5a5a5a"/></g>
<clipPath id="oJ"><ellipse cx="571.6" cy="362.4" rx="18.2" ry="20.2" transform="rotate(-18 571.6 362.4)"/></clipPath>
<g filter="url(#b03)">
<ellipse cx="571.6" cy="362.4" rx="18.2" ry="20.2" fill="url(#gJ)" transform="rotate(-18 571.6 362.4)"/>
</g>
<g clip-path="url(#oJ)">
<g filter="url(#b06)" opacity="0.85"><circle cx="563.9" cy="345.9" r="1.3" fill="#c8d850"/><circle cx="558.6" cy="354.7" r="1.5" fill="#c8d850"/><circle cx="568.4" cy="359.6" r="1.5" fill="#60c8c0"/><circle cx="563.5" cy="363.0" r="0.8" fill="#e8a040"/><circle cx="570.7" cy="366.4" r="1.7" fill="#e8a040"/><circle cx="568.5" cy="356.5" r="1.5" fill="#60c8c0"/><circle cx="562.5" cy="347.9" r="1.3" fill="#c8d850"/><circle cx="566.3" cy="356.2" r="1.4" fill="#60c8c0"/><circle cx="569.7" cy="364.1" r="1.2" fill="#c8d850"/><circle cx="557.9" cy="345.4" r="1.2" fill="#e8a040"/><circle cx="560.3" cy="367.4" r="1.0" fill="#60c8c0"/><circle cx="575.2" cy="356.0" r="0.9" fill="#c8d850"/><circle cx="560.6" cy="359.3" r="1.1" fill="#c8d850"/><circle cx="565.0" cy="363.9" r="1.4" fill="#c8d850"/><circle cx="567.2" cy="349.5" r="1.7" fill="#e8a040"/><circle cx="569.8" cy="357.7" r="0.7" fill="#e08838"/><circle cx="562.1" cy="367.2" r="1.2" fill="#e8a040"/><circle cx="572.5" cy="355.6" r="1.1" fill="#e08838"/><circle cx="556.4" cy="349.9" r="1.1" fill="#60c8c0"/><circle cx="559.7" cy="343.7" r="1.7" fill="#e8a040"/><circle cx="559.3" cy="356.4" r="1.3" fill="#e08838"/><circle cx="570.4" cy="354.7" r="0.9" fill="#e8a040"/><circle cx="563.3" cy="364.1" r="1.7" fill="#e08838"/><circle cx="559.8" cy="364.9" r="1.0" fill="#e8a040"/><circle cx="567.8" cy="346.7" r="1.1" fill="#e08838"/><circle cx="575.0" cy="358.2" r="1.2" fill="#e8a040"/><circle cx="574.4" cy="344.1" r="1.0" fill="#60c8c0"/><circle cx="565.5" cy="365.1" r="0.7" fill="#60c8c0"/><circle cx="572.9" cy="348.4" r="0.7" fill="#c8d850"/><circle cx="570.8" cy="353.7" r="1.5" fill="#e8a040"/><circle cx="562.8" cy="354.6" r="0.7" fill="#e08838"/><circle cx="560.4" cy="357.0" r="1.0" fill="#c8d850"/><circle cx="574.5" cy="366.3" r="1.1" fill="#e8a040"/><circle cx="564.3" cy="362.4" r="1.4" fill="#c8d850"/><circle cx="562.2" cy="355.0" r="1.5" fill="#60c8c0"/><circle cx="560.9" cy="346.4" r="1.3" fill="#c8d850"/><circle cx="562.1" cy="353.2" r="1.5" fill="#e8a040"/><circle cx="565.1" cy="354.8" r="0.8" fill="#60c8c0"/><circle cx="575.4" cy="351.2" r="0.7" fill="#e8a040"/><circle cx="556.8" cy="352.6" r="1.7" fill="#e8a040"/><circle cx="562.7" cy="365.5" r="0.8" fill="#e08838"/><circle cx="572.8" cy="361.8" r="1.0" fill="#c8d850"/><circle cx="566.7" cy="359.8" r="1.2" fill="#e08838"/><circle cx="565.1" cy="350.4" r="1.6" fill="#c8d850"/><circle cx="561.1" cy="362.2" r="1.8" fill="#e08838"/><circle cx="558.3" cy="361.0" r="1.7" fill="#e8a040"/><circle cx="558.4" cy="361.7" r="1.7" fill="#e08838"/><circle cx="566.6" cy="356.1" r="1.1" fill="#60c8c0"/><circle cx="567.6" cy="362.1" r="1.2" fill="#c8d850"/><circle cx="571.0" cy="356.1" r="1.0" fill="#c8d850"/><circle cx="571.1" cy="359.7" r="1.4" fill="#e08838"/><circle cx="566.0" cy="354.1" r="1.3" fill="#c8d850"/><circle cx="558.0" cy="351.9" r="1.6" fill="#e08838"/><circle cx="560.8" cy="365.6" r="1.3" fill="#c8d850"/><circle cx="564.3" cy="367.0" r="1.3" fill="#c8d850"/><circle cx="565.3" cy="343.8" r="1.7" fill="#c8d850"/><circle cx="570.8" cy="350.0" r="1.4" fill="#60c8c0"/><circle cx="557.5" cy="366.0" r="1.0" fill="#c8d850"/><circle cx="568.5" cy="362.5" r="1.0" fill="#e8a040"/><circle cx="561.7" cy="366.4" r="0.7" fill="#e8a040"/><circle cx="571.8" cy="348.0" r="0.9" fill="#c8d850"/><circle cx="565.9" cy="346.4" r="1.3" fill="#c8d850"/><circle cx="568.6" cy="364.6" r="0.9" fill="#e8a040"/><circle cx="566.9" cy="365.3" r="1.2" fill="#60c8c0"/><circle cx="557.6" cy="359.6" r="1.3" fill="#60c8c0"/><circle cx="566.0" cy="359.8" r="1.0" fill="#60c8c0"/><circle cx="570.2" cy="368.4" r="0.9" fill="#e8a040"/><circle cx="570.8" cy="347.1" r="1.6" fill="#60c8c0"/><circle cx="573.2" cy="363.3" r="0.8" fill="#e08838"/><circle cx="570.1" cy="362.2" r="1.1" fill="#e08838"/><circle cx="559.4" cy="364.9" r="1.3" fill="#e8a040"/><circle cx="574.7" cy="368.1" r="1.5" fill="#e8a040"/><circle cx="570.0" cy="343.5" r="1.7" fill="#c8d850"/><circle cx="559.6" cy="346.3" r="0.8" fill="#e8a040"/></g>
<g filter="url(#b06)" opacity="0.85"><circle cx="582.8" cy="375.4" r="1.3" fill="#98d870"/><circle cx="586.2" cy="367.8" r="1.4" fill="#50c0d0"/><circle cx="577.7" cy="364.7" r="0.8" fill="#98d870"/><circle cx="569.9" cy="372.4" r="1.0" fill="#2c4cc8"/><circle cx="569.6" cy="362.9" r="1.1" fill="#2c4cc8"/><circle cx="571.7" cy="363.3" r="1.3" fill="#3a80d8"/><circle cx="573.1" cy="364.1" r="1.0" fill="#98d870"/><circle cx="570.8" cy="363.7" r="1.3" fill="#98d870"/><circle cx="583.5" cy="376.7" r="0.9" fill="#50c0d0"/><circle cx="584.7" cy="371.8" r="1.4" fill="#50c0d0"/><circle cx="575.8" cy="366.3" r="1.4" fill="#3a80d8"/><circle cx="575.5" cy="378.3" r="1.5" fill="#2c4cc8"/><circle cx="586.8" cy="361.3" r="1.5" fill="#2c4cc8"/><circle cx="582.1" cy="361.7" r="0.9" fill="#3a80d8"/><circle cx="580.3" cy="368.2" r="0.5" fill="#3a80d8"/><circle cx="586.4" cy="371.6" r="1.2" fill="#2c4cc8"/><circle cx="571.7" cy="377.3" r="0.9" fill="#50c0d0"/><circle cx="588.9" cy="376.6" r="1.4" fill="#3a80d8"/><circle cx="575.8" cy="380.4" r="1.0" fill="#50c0d0"/><circle cx="575.6" cy="365.3" r="1.3" fill="#3a80d8"/><circle cx="589.6" cy="362.4" r="1.4" fill="#50c0d0"/><circle cx="577.0" cy="376.9" r="0.6" fill="#3a80d8"/><circle cx="586.4" cy="369.4" r="1.2" fill="#3a80d8"/><circle cx="577.6" cy="377.3" r="1.0" fill="#2c4cc8"/><circle cx="565.9" cy="369.4" r="1.1" fill="#98d870"/><circle cx="568.0" cy="376.6" r="0.8" fill="#50c0d0"/><circle cx="585.6" cy="373.1" r="1.1" fill="#50c0d0"/><circle cx="582.6" cy="380.1" r="1.3" fill="#2c4cc8"/><circle cx="582.8" cy="375.7" r="1.2" fill="#98d870"/><circle cx="569.5" cy="363.6" r="1.3" fill="#2c4cc8"/><circle cx="585.0" cy="380.9" r="1.4" fill="#3a80d8"/><circle cx="577.6" cy="363.1" r="1.1" fill="#98d870"/><circle cx="571.5" cy="366.3" r="0.5" fill="#98d870"/><circle cx="585.5" cy="366.8" r="0.7" fill="#3a80d8"/><circle cx="574.4" cy="368.8" r="0.7" fill="#50c0d0"/><circle cx="585.8" cy="360.8" r="1.3" fill="#3a80d8"/><circle cx="568.4" cy="381.1" r="0.7" fill="#50c0d0"/><circle cx="580.5" cy="378.1" r="1.2" fill="#2c4cc8"/><circle cx="586.9" cy="364.4" r="1.2" fill="#98d870"/><circle cx="566.9" cy="380.2" r="1.2" fill="#2c4cc8"/><circle cx="584.2" cy="377.4" r="1.4" fill="#3a80d8"/><circle cx="571.4" cy="381.9" r="1.1" fill="#3a80d8"/><circle cx="586.8" cy="371.9" r="0.7" fill="#3a80d8"/><circle cx="586.3" cy="375.7" r="1.3" fill="#2c4cc8"/><circle cx="588.1" cy="376.6" r="0.9" fill="#50c0d0"/><circle cx="574.3" cy="363.9" r="1.1" fill="#50c0d0"/><circle cx="583.0" cy="371.6" r="1.2" fill="#50c0d0"/><circle cx="578.2" cy="375.0" r="1.3" fill="#2c4cc8"/><circle cx="576.9" cy="381.3" r="1.0" fill="#50c0d0"/><circle cx="585.1" cy="381.7" r="1.0" fill="#50c0d0"/><circle cx="585.8" cy="379.0" r="0.7" fill="#3a80d8"/><circle cx="578.2" cy="369.3" r="0.6" fill="#2c4cc8"/><circle cx="567.6" cy="367.5" r="0.8" fill="#2c4cc8"/><circle cx="566.5" cy="366.3" r="1.1" fill="#50c0d0"/><circle cx="567.3" cy="363.3" r="1.5" fill="#50c0d0"/><circle cx="571.2" cy="370.3" r="0.9" fill="#98d870"/><circle cx="566.9" cy="378.0" r="0.7" fill="#3a80d8"/><circle cx="580.7" cy="381.5" r="1.3" fill="#2c4cc8"/><circle cx="578.1" cy="375.6" r="0.9" fill="#2c4cc8"/><circle cx="584.5" cy="380.5" r="0.5" fill="#3a80d8"/><circle cx="566.6" cy="378.6" r="0.6" fill="#98d870"/><circle cx="569.9" cy="367.0" r="0.7" fill="#50c0d0"/><circle cx="582.7" cy="379.9" r="1.0" fill="#2c4cc8"/><circle cx="589.0" cy="361.9" r="0.7" fill="#2c4cc8"/><circle cx="569.8" cy="366.9" r="0.7" fill="#98d870"/><circle cx="574.2" cy="370.9" r="1.3" fill="#3a80d8"/><circle cx="580.5" cy="373.4" r="1.2" fill="#98d870"/><circle cx="572.9" cy="374.3" r="1.0" fill="#98d870"/><circle cx="586.5" cy="364.7" r="1.1" fill="#98d870"/><circle cx="589.0" cy="381.6" r="1.3" fill="#3a80d8"/><circle cx="570.3" cy="364.7" r="1.3" fill="#98d870"/><circle cx="578.6" cy="379.7" r="0.8" fill="#3a80d8"/><circle cx="572.1" cy="380.7" r="0.7" fill="#50c0d0"/><circle cx="579.4" cy="367.7" r="0.9" fill="#50c0d0"/><circle cx="582.0" cy="376.2" r="0.7" fill="#50c0d0"/><circle cx="569.6" cy="365.8" r="1.3" fill="#3a80d8"/><circle cx="582.2" cy="381.0" r="0.9" fill="#3a80d8"/><circle cx="587.9" cy="364.8" r="1.2" fill="#98d870"/><circle cx="577.6" cy="361.1" r="0.8" fill="#2c4cc8"/></g>
</g>
<g filter="url(#b03)">
<ellipse cx="571.6" cy="362.4" rx="18.2" ry="20.2" fill="none" stroke="#d8642c" stroke-width="0.8" transform="rotate(-18 571.6 362.4)"/>
<ellipse cx="574.0" cy="365.6" rx="12.3" ry="13.2" fill="#191919" transform="rotate(-18 574.0 365.6)"/>
<ellipse cx="574.0" cy="365.6" rx="12.3" ry="13.2" fill="none" stroke="#d8642c" stroke-width="0.8" transform="rotate(-18 574.0 365.6)"/>
<ellipse cx="576.5" cy="361.6" rx="2.4" ry="1.8" fill="#4c4c4c"/>
<ellipse cx="571.0" cy="370.6" rx="3" ry="2" fill="#303030"/>
</g>
</g>
<defs><radialGradient id="gK" gradientUnits="userSpaceOnUse" cx="634.4" cy="365.7" r="21.8"><stop offset="0.56" stop-color="#d02c18"/><stop offset="0.63" stop-color="#f08424"/><stop offset="0.71" stop-color="#e4dc44"/><stop offset="0.80" stop-color="#74dc8c"/><stop offset="0.89" stop-color="#34ace0"/><stop offset="1.00" stop-color="#2238c0"/></radialGradient></defs>
<g clip-path="url(#cK)">
<rect x="593.3" y="330.0" width="60.0" height="59.3" fill="#343434"/>
<g filter="url(#b15)">
<ellipse cx="627.0" cy="363.5" rx="32" ry="31" fill="#4a4a4a"/>
<ellipse cx="628.0" cy="362.5" rx="27.5" ry="27" fill="#2c2c2c"/>
<ellipse cx="628.0" cy="362.5" rx="26" ry="26" fill="none" stroke="#6a6a6a" stroke-width="2.2" stroke-dasharray="0 40 85 300"/>
<ellipse cx="610.0" cy="375.5" rx="5" ry="4" fill="#707070"/>
<rect x="591.3" y="329.0" width="64.0" height="4.5" fill="#0c0c0c"/>
<ellipse cx="639.3" cy="389.3" rx="13" ry="3.5" fill="#8a8a8a"/>
</g>
<g filter="url(#b1)" opacity="0.50"><circle cx="621.4" cy="372.2" r="1.0" fill="#4a4a4a"/><circle cx="603.3" cy="373.2" r="1.8" fill="#5a5a5a"/><circle cx="628.5" cy="380.9" r="1.5" fill="#3a3a3a"/><circle cx="645.6" cy="373.7" r="1.5" fill="#5a5a5a"/><circle cx="632.6" cy="344.8" r="1.1" fill="#4a4a4a"/><circle cx="618.0" cy="356.6" r="1.2" fill="#5a5a5a"/><circle cx="615.2" cy="367.8" r="1.3" fill="#3a3a3a"/><circle cx="595.6" cy="362.4" r="1.7" fill="#3a3a3a"/><circle cx="626.9" cy="386.1" r="2.1" fill="#4a4a4a"/><circle cx="637.6" cy="337.4" r="1.8" fill="#222"/><circle cx="631.1" cy="337.2" r="1.1" fill="#5a5a5a"/><circle cx="610.4" cy="382.7" r="2.0" fill="#4a4a4a"/><circle cx="600.0" cy="382.9" r="1.7" fill="#5a5a5a"/><circle cx="607.0" cy="346.6" r="1.6" fill="#4a4a4a"/><circle cx="618.0" cy="338.3" r="1.4" fill="#5a5a5a"/><circle cx="636.4" cy="340.9" r="1.1" fill="#4a4a4a"/><circle cx="626.8" cy="358.7" r="1.2" fill="#222"/><circle cx="602.6" cy="366.7" r="1.7" fill="#3a3a3a"/><circle cx="645.9" cy="376.8" r="1.9" fill="#222"/><circle cx="651.1" cy="385.8" r="1.8" fill="#5a5a5a"/><circle cx="623.0" cy="382.3" r="1.9" fill="#4a4a4a"/><circle cx="631.9" cy="348.5" r="1.1" fill="#3a3a3a"/><circle cx="642.7" cy="336.1" r="1.8" fill="#5a5a5a"/><circle cx="641.7" cy="353.9" r="1.5" fill="#5a5a5a"/></g>
<clipPath id="oK"><ellipse cx="632.0" cy="362.5" rx="18.2" ry="20.2" transform="rotate(-18 632.0 362.5)"/></clipPath>
<g filter="url(#b03)">
<ellipse cx="632.0" cy="362.5" rx="18.2" ry="20.2" fill="url(#gK)" transform="rotate(-18 632.0 362.5)"/>
</g>
<g clip-path="url(#oK)">
<g filter="url(#b06)" opacity="0.85"><circle cx="631.3" cy="353.2" r="0.7" fill="#a0e070"/><circle cx="620.6" cy="353.9" r="1.0" fill="#e8e048"/><circle cx="618.6" cy="355.0" r="0.5" fill="#f0a030"/><circle cx="637.0" cy="357.1" r="0.6" fill="#f0a030"/><circle cx="637.9" cy="361.7" r="1.3" fill="#f0a030"/><circle cx="621.3" cy="348.1" r="1.2" fill="#e8e048"/><circle cx="637.8" cy="355.6" r="1.2" fill="#e8e048"/><circle cx="622.7" cy="349.6" r="0.6" fill="#e8e048"/><circle cx="619.4" cy="353.2" r="0.5" fill="#e8e048"/><circle cx="636.5" cy="348.6" r="0.8" fill="#e8e048"/><circle cx="624.2" cy="363.9" r="0.7" fill="#a0e070"/><circle cx="622.2" cy="362.9" r="1.0" fill="#e8e048"/><circle cx="626.0" cy="349.1" r="1.2" fill="#e8e048"/><circle cx="626.2" cy="350.5" r="0.8" fill="#a0e070"/><circle cx="625.8" cy="353.3" r="1.0" fill="#a0e070"/><circle cx="624.4" cy="349.1" r="0.6" fill="#f0a030"/><circle cx="623.3" cy="349.9" r="1.4" fill="#f0a030"/><circle cx="628.6" cy="345.9" r="1.3" fill="#e8e048"/><circle cx="617.4" cy="350.3" r="1.3" fill="#a0e070"/><circle cx="637.2" cy="349.2" r="1.1" fill="#f0a030"/><circle cx="620.8" cy="358.4" r="1.5" fill="#f0a030"/><circle cx="631.7" cy="350.3" r="0.9" fill="#f0a030"/><circle cx="631.0" cy="363.7" r="0.6" fill="#f0a030"/><circle cx="630.8" cy="350.3" r="1.3" fill="#f0a030"/><circle cx="623.6" cy="352.0" r="1.3" fill="#f0a030"/><circle cx="631.4" cy="357.5" r="1.5" fill="#f0a030"/><circle cx="620.1" cy="361.0" r="1.3" fill="#f0a030"/><circle cx="619.7" cy="358.9" r="0.5" fill="#e8e048"/><circle cx="632.0" cy="351.7" r="0.5" fill="#e8e048"/><circle cx="618.3" cy="345.4" r="1.1" fill="#e8e048"/><circle cx="626.4" cy="348.7" r="0.5" fill="#e8e048"/><circle cx="618.4" cy="349.6" r="0.6" fill="#e8e048"/><circle cx="632.5" cy="347.4" r="0.6" fill="#e8e048"/><circle cx="627.5" cy="350.8" r="1.3" fill="#e8e048"/><circle cx="626.8" cy="358.2" r="1.4" fill="#a0e070"/><circle cx="618.6" cy="346.9" r="1.3" fill="#e8e048"/><circle cx="624.5" cy="347.5" r="0.9" fill="#a0e070"/><circle cx="619.9" cy="348.6" r="0.6" fill="#f0a030"/><circle cx="635.8" cy="351.4" r="0.7" fill="#a0e070"/><circle cx="630.4" cy="350.0" r="0.9" fill="#f0a030"/><circle cx="634.7" cy="348.1" r="0.9" fill="#e8e048"/><circle cx="631.3" cy="356.9" r="0.7" fill="#a0e070"/><circle cx="635.7" cy="348.9" r="1.2" fill="#f0a030"/><circle cx="629.2" cy="359.2" r="1.4" fill="#e8e048"/><circle cx="635.4" cy="349.8" r="1.4" fill="#a0e070"/><circle cx="623.8" cy="359.4" r="1.5" fill="#e8e048"/><circle cx="620.9" cy="357.7" r="1.5" fill="#a0e070"/><circle cx="622.3" cy="350.3" r="1.0" fill="#a0e070"/><circle cx="628.5" cy="357.4" r="0.6" fill="#e8e048"/><circle cx="623.9" cy="360.2" r="0.6" fill="#e8e048"/><circle cx="624.7" cy="361.3" r="1.3" fill="#a0e070"/><circle cx="619.1" cy="348.7" r="0.7" fill="#e8e048"/><circle cx="633.9" cy="345.0" r="0.5" fill="#f0a030"/><circle cx="629.6" cy="354.3" r="1.4" fill="#e8e048"/><circle cx="619.8" cy="363.9" r="1.0" fill="#a0e070"/><circle cx="636.0" cy="359.1" r="1.1" fill="#a0e070"/><circle cx="622.9" cy="355.4" r="0.8" fill="#a0e070"/><circle cx="628.1" cy="347.7" r="1.2" fill="#e8e048"/><circle cx="626.2" cy="353.5" r="0.6" fill="#f0a030"/><circle cx="617.3" cy="360.2" r="0.6" fill="#a0e070"/><circle cx="625.4" cy="351.3" r="0.6" fill="#f0a030"/><circle cx="629.0" cy="358.5" r="0.6" fill="#a0e070"/><circle cx="620.7" cy="360.7" r="0.7" fill="#e8e048"/><circle cx="627.4" cy="362.2" r="1.1" fill="#f0a030"/><circle cx="630.6" cy="363.8" r="1.1" fill="#e8e048"/><circle cx="632.3" cy="354.4" r="0.8" fill="#a0e070"/></g>
<g filter="url(#b06)" opacity="0.85"><circle cx="643.1" cy="353.8" r="0.7" fill="#2c4cc8"/><circle cx="637.8" cy="369.8" r="0.9" fill="#38a0e0"/><circle cx="640.5" cy="362.6" r="0.7" fill="#e04020"/><circle cx="615.4" cy="378.4" r="0.8" fill="#2c4cc8"/><circle cx="641.3" cy="346.2" r="0.5" fill="#e04020"/><circle cx="633.6" cy="379.0" r="1.1" fill="#f09030"/><circle cx="625.5" cy="375.2" r="0.8" fill="#38a0e0"/><circle cx="628.3" cy="345.9" r="1.1" fill="#2c4cc8"/><circle cx="647.4" cy="350.7" r="1.1" fill="#2c4cc8"/><circle cx="630.5" cy="374.9" r="0.8" fill="#e04020"/><circle cx="620.6" cy="376.7" r="0.6" fill="#f09030"/><circle cx="617.8" cy="361.9" r="0.6" fill="#2c4cc8"/><circle cx="638.3" cy="367.7" r="0.8" fill="#2c4cc8"/><circle cx="628.0" cy="373.7" r="0.7" fill="#e04020"/><circle cx="643.5" cy="352.3" r="1.1" fill="#2c4cc8"/><circle cx="643.7" cy="351.2" r="0.6" fill="#38a0e0"/><circle cx="626.1" cy="354.1" r="1.1" fill="#e04020"/><circle cx="647.7" cy="375.9" r="0.5" fill="#2c4cc8"/><circle cx="625.4" cy="371.0" r="1.0" fill="#e04020"/><circle cx="645.2" cy="355.3" r="0.5" fill="#f09030"/><circle cx="616.9" cy="346.0" r="0.8" fill="#2c4cc8"/><circle cx="649.2" cy="370.4" r="0.7" fill="#38a0e0"/><circle cx="629.4" cy="355.8" r="0.9" fill="#38a0e0"/><circle cx="633.9" cy="352.1" r="0.6" fill="#38a0e0"/><circle cx="627.8" cy="367.0" r="0.9" fill="#f09030"/><circle cx="624.5" cy="352.4" r="1.0" fill="#38a0e0"/><circle cx="626.2" cy="351.4" r="1.1" fill="#2c4cc8"/><circle cx="619.6" cy="345.2" r="0.5" fill="#38a0e0"/><circle cx="631.9" cy="365.5" r="0.9" fill="#e04020"/><circle cx="649.0" cy="347.9" r="1.0" fill="#2c4cc8"/><circle cx="639.2" cy="373.8" r="0.9" fill="#e04020"/><circle cx="620.3" cy="352.6" r="1.1" fill="#2c4cc8"/><circle cx="632.6" cy="364.9" r="1.0" fill="#2c4cc8"/><circle cx="644.4" cy="356.3" r="0.7" fill="#f09030"/><circle cx="649.2" cy="351.2" r="0.7" fill="#f09030"/><circle cx="625.7" cy="358.9" r="0.8" fill="#2c4cc8"/><circle cx="643.3" cy="369.7" r="0.6" fill="#f09030"/><circle cx="625.7" cy="344.4" r="0.8" fill="#38a0e0"/><circle cx="637.7" cy="356.4" r="0.8" fill="#f09030"/><circle cx="634.6" cy="369.6" r="0.9" fill="#e04020"/><circle cx="649.6" cy="352.0" r="0.7" fill="#e04020"/><circle cx="629.9" cy="359.7" r="0.6" fill="#f09030"/><circle cx="629.3" cy="346.9" r="0.8" fill="#e04020"/><circle cx="634.5" cy="345.2" r="1.2" fill="#f09030"/><circle cx="643.3" cy="361.3" r="1.1" fill="#f09030"/><circle cx="639.2" cy="349.8" r="1.0" fill="#2c4cc8"/><circle cx="624.5" cy="351.4" r="1.0" fill="#f09030"/><circle cx="646.0" cy="370.3" r="0.9" fill="#38a0e0"/><circle cx="634.1" cy="374.7" r="0.6" fill="#f09030"/><circle cx="638.9" cy="353.7" r="0.8" fill="#2c4cc8"/><circle cx="645.2" cy="374.9" r="1.1" fill="#f09030"/><circle cx="637.3" cy="366.8" r="0.8" fill="#f09030"/><circle cx="620.2" cy="344.3" r="0.6" fill="#f09030"/><circle cx="634.1" cy="360.5" r="0.8" fill="#2c4cc8"/><circle cx="643.5" cy="371.2" r="0.6" fill="#2c4cc8"/><circle cx="616.7" cy="376.8" r="0.6" fill="#e04020"/><circle cx="617.7" cy="362.0" r="1.0" fill="#f09030"/></g>
</g>
<g filter="url(#b03)">
<ellipse cx="634.4" cy="365.7" rx="12.3" ry="13.2" fill="#191919" transform="rotate(-18 634.4 365.7)"/>
<ellipse cx="636.9" cy="361.7" rx="2.4" ry="1.8" fill="#4c4c4c"/>
<ellipse cx="631.4" cy="370.7" rx="3" ry="2" fill="#303030"/>
</g>
</g>
<defs><linearGradient id="gL" gradientUnits="userSpaceOnUse" x1="676.4" y1="349.5" x2="705.4" y2="377.5"><stop offset="0.00" stop-color="#a81c10"/><stop offset="0.30" stop-color="#cc2c18"/><stop offset="0.42" stop-color="#e89430"/><stop offset="0.52" stop-color="#74ccb0"/><stop offset="0.70" stop-color="#3484e0"/><stop offset="1.00" stop-color="#2444c8"/></linearGradient></defs>
<g clip-path="url(#cL)">
<rect x="653.3" y="330.0" width="59.7" height="59.3" fill="#323232"/>
<g filter="url(#b15)">
<ellipse cx="686.4" cy="363.5" rx="32" ry="31" fill="#484848"/>
<ellipse cx="687.4" cy="362.5" rx="27.5" ry="27" fill="#2c2c2c"/>
<ellipse cx="687.4" cy="362.5" rx="26" ry="26" fill="none" stroke="#6a6a6a" stroke-width="2.2" stroke-dasharray="0 40 85 300"/>
<ellipse cx="669.4" cy="375.5" rx="5" ry="4" fill="#707070"/>
<rect x="651.3" y="329.0" width="63.7" height="4.5" fill="#0c0c0c"/>
<ellipse cx="699.0" cy="389.3" rx="13" ry="3.5" fill="#8a8a8a"/>
</g>
<g filter="url(#b1)" opacity="0.50"><circle cx="662.4" cy="355.6" r="2.0" fill="#222"/><circle cx="670.1" cy="342.6" r="1.7" fill="#4a4a4a"/><circle cx="707.1" cy="351.2" r="2.1" fill="#4a4a4a"/><circle cx="709.8" cy="346.9" r="1.3" fill="#4a4a4a"/><circle cx="711.0" cy="369.2" r="1.3" fill="#3a3a3a"/><circle cx="705.0" cy="336.1" r="2.2" fill="#222"/><circle cx="668.2" cy="359.9" r="1.4" fill="#222"/><circle cx="674.6" cy="356.1" r="1.8" fill="#222"/><circle cx="665.0" cy="371.2" r="1.2" fill="#222"/><circle cx="658.3" cy="361.9" r="1.2" fill="#4a4a4a"/><circle cx="668.5" cy="364.6" r="1.8" fill="#3a3a3a"/><circle cx="698.3" cy="344.6" r="1.4" fill="#3a3a3a"/><circle cx="684.3" cy="379.4" r="1.5" fill="#5a5a5a"/><circle cx="692.4" cy="385.1" r="1.6" fill="#222"/><circle cx="669.7" cy="362.2" r="2.0" fill="#4a4a4a"/><circle cx="665.9" cy="378.8" r="1.0" fill="#3a3a3a"/><circle cx="690.6" cy="367.6" r="2.1" fill="#4a4a4a"/><circle cx="685.8" cy="349.7" r="1.3" fill="#3a3a3a"/><circle cx="661.0" cy="371.0" r="1.3" fill="#4a4a4a"/><circle cx="669.4" cy="358.8" r="1.3" fill="#3a3a3a"/><circle cx="666.1" cy="350.9" r="2.0" fill="#4a4a4a"/><circle cx="659.3" cy="350.2" r="1.8" fill="#3a3a3a"/><circle cx="664.7" cy="361.1" r="1.0" fill="#4a4a4a"/><circle cx="660.6" cy="365.1" r="1.8" fill="#222"/></g>
<clipPath id="oL"><ellipse cx="691.4" cy="362.5" rx="18.2" ry="20.2" transform="rotate(-18 691.4 362.5)"/></clipPath>
<g filter="url(#b03)">
<ellipse cx="691.4" cy="362.5" rx="18.2" ry="20.2" fill="url(#gL)" transform="rotate(-18 691.4 362.5)"/>
</g>
<g clip-path="url(#oL)">
<g filter="url(#b06)" opacity="0.85"><circle cx="685.9" cy="360.4" r="0.9" fill="#a01810"/><circle cx="689.0" cy="356.3" r="0.7" fill="#e86428"/><circle cx="675.6" cy="344.4" r="1.2" fill="#c82818"/><circle cx="683.2" cy="354.3" r="1.5" fill="#c82818"/><circle cx="694.8" cy="346.6" r="1.5" fill="#c82818"/><circle cx="679.3" cy="344.3" r="1.4" fill="#e86428"/><circle cx="678.9" cy="350.0" r="0.9" fill="#e86428"/><circle cx="689.0" cy="362.8" r="0.9" fill="#f09830"/><circle cx="680.9" cy="346.0" r="1.3" fill="#e86428"/><circle cx="680.7" cy="356.9" r="1.0" fill="#c82818"/><circle cx="691.7" cy="356.4" r="1.0" fill="#e86428"/><circle cx="677.7" cy="363.6" r="1.5" fill="#a01810"/><circle cx="691.4" cy="347.2" r="1.6" fill="#e86428"/><circle cx="693.3" cy="345.6" r="0.8" fill="#a01810"/><circle cx="689.7" cy="354.5" r="0.7" fill="#c82818"/><circle cx="682.1" cy="361.4" r="1.5" fill="#e86428"/><circle cx="681.7" cy="349.0" r="0.8" fill="#a01810"/><circle cx="689.5" cy="348.6" r="1.4" fill="#f09830"/><circle cx="683.0" cy="343.8" r="1.2" fill="#c82818"/><circle cx="693.0" cy="365.9" r="1.3" fill="#a01810"/><circle cx="680.1" cy="357.8" r="1.3" fill="#e86428"/><circle cx="675.9" cy="356.8" r="1.2" fill="#c82818"/><circle cx="693.5" cy="361.5" r="0.9" fill="#f09830"/><circle cx="676.4" cy="348.2" r="1.4" fill="#a01810"/><circle cx="687.5" cy="352.4" r="1.5" fill="#f09830"/><circle cx="694.0" cy="363.8" r="1.4" fill="#e86428"/><circle cx="684.3" cy="347.4" r="0.8" fill="#e86428"/><circle cx="688.9" cy="363.0" r="1.1" fill="#e86428"/><circle cx="675.7" cy="348.7" r="1.1" fill="#f09830"/><circle cx="690.2" cy="355.0" r="1.3" fill="#c82818"/><circle cx="689.1" cy="366.1" r="0.8" fill="#e86428"/><circle cx="694.9" cy="364.8" r="1.5" fill="#e86428"/><circle cx="693.0" cy="360.4" r="1.4" fill="#a01810"/><circle cx="678.5" cy="343.7" r="1.5" fill="#c82818"/><circle cx="681.5" cy="357.3" r="1.0" fill="#c82818"/><circle cx="690.0" cy="351.3" r="1.4" fill="#f09830"/><circle cx="687.6" cy="359.4" r="1.2" fill="#c82818"/><circle cx="685.3" cy="364.6" r="1.6" fill="#e86428"/><circle cx="690.2" cy="364.9" r="1.0" fill="#f09830"/><circle cx="676.1" cy="356.8" r="1.3" fill="#f09830"/><circle cx="678.1" cy="354.2" r="1.0" fill="#f09830"/><circle cx="687.0" cy="364.8" r="1.1" fill="#c82818"/><circle cx="686.1" cy="363.0" r="0.9" fill="#e86428"/><circle cx="687.4" cy="359.0" r="1.1" fill="#e86428"/><circle cx="680.4" cy="366.2" r="0.7" fill="#c82818"/><circle cx="691.1" cy="364.1" r="1.5" fill="#a01810"/><circle cx="683.3" cy="356.5" r="0.8" fill="#f09830"/><circle cx="685.8" cy="344.4" r="1.2" fill="#c82818"/><circle cx="681.6" cy="366.5" r="1.4" fill="#e86428"/><circle cx="682.4" cy="346.8" r="1.0" fill="#a01810"/><circle cx="678.8" cy="351.6" r="0.7" fill="#f09830"/><circle cx="691.1" cy="353.9" r="0.9" fill="#c82818"/><circle cx="679.9" cy="362.5" r="0.9" fill="#a01810"/><circle cx="682.1" cy="345.0" r="1.5" fill="#a01810"/><circle cx="676.9" cy="362.6" r="1.6" fill="#f09830"/><circle cx="693.7" cy="354.2" r="1.2" fill="#e86428"/><circle cx="691.6" cy="352.2" r="0.7" fill="#e86428"/><circle cx="677.8" cy="354.6" r="0.9" fill="#f09830"/><circle cx="677.2" cy="358.1" r="1.1" fill="#a01810"/><circle cx="676.8" cy="361.6" r="1.1" fill="#a01810"/><circle cx="688.3" cy="349.4" r="0.8" fill="#c82818"/><circle cx="681.4" cy="357.6" r="0.9" fill="#e86428"/><circle cx="687.1" cy="349.4" r="1.6" fill="#a01810"/><circle cx="691.3" cy="352.0" r="1.2" fill="#f09830"/><circle cx="680.1" cy="361.5" r="1.0" fill="#a01810"/><circle cx="677.4" cy="352.8" r="1.5" fill="#e86428"/><circle cx="675.7" cy="365.4" r="1.1" fill="#f09830"/><circle cx="688.8" cy="359.3" r="1.4" fill="#a01810"/><circle cx="687.3" cy="344.8" r="1.5" fill="#a01810"/><circle cx="694.9" cy="354.2" r="1.4" fill="#e86428"/><circle cx="678.0" cy="356.8" r="1.3" fill="#f09830"/><circle cx="688.7" cy="350.2" r="0.8" fill="#f09830"/><circle cx="692.2" cy="356.9" r="1.1" fill="#f09830"/><circle cx="691.8" cy="348.9" r="1.5" fill="#f09830"/></g>
<g filter="url(#b06)" opacity="0.85"><circle cx="694.6" cy="375.0" r="0.8" fill="#80d8a0"/><circle cx="699.2" cy="359.8" r="1.2" fill="#48b8e0"/><circle cx="706.8" cy="364.9" r="1.1" fill="#80d8a0"/><circle cx="702.9" cy="363.0" r="1.0" fill="#48b8e0"/><circle cx="709.4" cy="378.6" r="0.5" fill="#80d8a0"/><circle cx="694.9" cy="360.7" r="1.1" fill="#48b8e0"/><circle cx="706.0" cy="379.1" r="1.3" fill="#80d8a0"/><circle cx="707.0" cy="365.1" r="0.5" fill="#48b8e0"/><circle cx="693.2" cy="359.1" r="1.1" fill="#f0a030"/><circle cx="694.7" cy="360.5" r="1.2" fill="#2c4cc8"/><circle cx="701.2" cy="370.9" r="0.8" fill="#f0a030"/><circle cx="709.2" cy="373.9" r="1.0" fill="#48b8e0"/><circle cx="685.0" cy="361.9" r="0.9" fill="#80d8a0"/><circle cx="697.4" cy="365.2" r="1.0" fill="#e8c040"/><circle cx="696.7" cy="382.2" r="1.3" fill="#e8c040"/><circle cx="696.8" cy="368.0" r="1.3" fill="#2c4cc8"/><circle cx="693.5" cy="382.4" r="1.3" fill="#48b8e0"/><circle cx="699.0" cy="369.6" r="0.6" fill="#f0a030"/><circle cx="689.6" cy="364.2" r="0.6" fill="#2c4cc8"/><circle cx="692.1" cy="364.7" r="1.2" fill="#e8c040"/><circle cx="685.9" cy="371.5" r="1.2" fill="#2c4cc8"/><circle cx="684.4" cy="377.3" r="1.2" fill="#f0a030"/><circle cx="698.4" cy="361.1" r="1.1" fill="#80d8a0"/><circle cx="706.9" cy="369.8" r="0.8" fill="#e8c040"/><circle cx="693.2" cy="373.7" r="1.3" fill="#48b8e0"/><circle cx="706.5" cy="364.8" r="0.9" fill="#80d8a0"/><circle cx="690.8" cy="375.0" r="0.9" fill="#e8c040"/><circle cx="707.6" cy="367.5" r="1.2" fill="#f0a030"/><circle cx="696.8" cy="380.5" r="1.3" fill="#48b8e0"/><circle cx="705.0" cy="376.7" r="1.2" fill="#2c4cc8"/><circle cx="692.8" cy="362.1" r="1.3" fill="#80d8a0"/><circle cx="700.8" cy="361.4" r="1.1" fill="#80d8a0"/><circle cx="686.9" cy="362.4" r="0.5" fill="#80d8a0"/><circle cx="708.6" cy="374.0" r="0.9" fill="#48b8e0"/><circle cx="683.9" cy="371.4" r="1.0" fill="#e8c040"/><circle cx="688.9" cy="367.9" r="0.7" fill="#e8c040"/><circle cx="697.5" cy="371.4" r="0.8" fill="#2c4cc8"/><circle cx="686.0" cy="378.8" r="0.9" fill="#e8c040"/><circle cx="693.1" cy="376.6" r="1.2" fill="#48b8e0"/><circle cx="691.3" cy="377.0" r="0.8" fill="#e8c040"/><circle cx="694.7" cy="372.7" r="0.6" fill="#e8c040"/><circle cx="701.8" cy="373.4" r="1.0" fill="#2c4cc8"/><circle cx="694.6" cy="362.8" r="0.6" fill="#80d8a0"/><circle cx="690.7" cy="382.1" r="0.7" fill="#2c4cc8"/><circle cx="688.7" cy="360.7" r="0.6" fill="#f0a030"/><circle cx="695.6" cy="377.2" r="0.7" fill="#f0a030"/><circle cx="690.5" cy="378.2" r="0.6" fill="#2c4cc8"/><circle cx="693.0" cy="362.2" r="1.3" fill="#e8c040"/><circle cx="707.0" cy="365.0" r="0.9" fill="#2c4cc8"/><circle cx="692.5" cy="361.3" r="1.0" fill="#48b8e0"/><circle cx="693.3" cy="364.6" r="1.2" fill="#e8c040"/><circle cx="692.7" cy="377.6" r="0.8" fill="#2c4cc8"/><circle cx="706.7" cy="359.0" r="1.2" fill="#80d8a0"/><circle cx="704.1" cy="377.7" r="1.2" fill="#48b8e0"/><circle cx="683.7" cy="361.4" r="1.3" fill="#e8c040"/><circle cx="706.6" cy="369.1" r="0.6" fill="#48b8e0"/><circle cx="686.9" cy="374.3" r="1.0" fill="#2c4cc8"/><circle cx="684.4" cy="380.3" r="0.6" fill="#2c4cc8"/><circle cx="706.9" cy="362.3" r="0.6" fill="#f0a030"/><circle cx="708.4" cy="369.2" r="1.2" fill="#f0a030"/><circle cx="689.7" cy="376.2" r="0.7" fill="#2c4cc8"/><circle cx="698.2" cy="372.7" r="1.3" fill="#80d8a0"/><circle cx="693.2" cy="364.2" r="0.7" fill="#2c4cc8"/><circle cx="687.7" cy="366.9" r="1.3" fill="#e8c040"/><circle cx="699.7" cy="374.0" r="0.9" fill="#2c4cc8"/><circle cx="703.5" cy="377.6" r="0.8" fill="#e8c040"/><circle cx="707.3" cy="363.2" r="0.8" fill="#f0a030"/><circle cx="700.0" cy="365.4" r="0.5" fill="#e8c040"/><circle cx="690.3" cy="382.3" r="0.9" fill="#f0a030"/><circle cx="690.4" cy="364.6" r="1.0" fill="#48b8e0"/><circle cx="707.6" cy="373.8" r="0.8" fill="#2c4cc8"/><circle cx="702.7" cy="371.5" r="0.6" fill="#2c4cc8"/><circle cx="686.8" cy="370.5" r="1.2" fill="#e8c040"/><circle cx="705.2" cy="364.4" r="0.7" fill="#e8c040"/><circle cx="706.8" cy="378.3" r="0.5" fill="#f0a030"/><circle cx="691.8" cy="361.6" r="0.7" fill="#e8c040"/><circle cx="703.5" cy="371.5" r="0.7" fill="#48b8e0"/><circle cx="705.3" cy="361.9" r="1.1" fill="#48b8e0"/><circle cx="696.5" cy="368.4" r="1.0" fill="#48b8e0"/><circle cx="684.9" cy="365.5" r="0.7" fill="#2c4cc8"/><circle cx="705.4" cy="372.5" r="0.8" fill="#48b8e0"/><circle cx="704.3" cy="382.3" r="1.3" fill="#e8c040"/><circle cx="686.8" cy="380.9" r="1.3" fill="#2c4cc8"/><circle cx="696.5" cy="375.9" r="0.8" fill="#f0a030"/><circle cx="688.3" cy="372.8" r="1.1" fill="#e8c040"/><circle cx="688.4" cy="365.7" r="0.6" fill="#2c4cc8"/><circle cx="695.7" cy="368.9" r="1.0" fill="#f0a030"/><circle cx="694.1" cy="380.6" r="1.3" fill="#2c4cc8"/></g>
</g>
<g filter="url(#b03)">
<ellipse cx="693.8" cy="365.7" rx="12.3" ry="13.2" fill="#191919" transform="rotate(-18 693.8 365.7)"/>
<ellipse cx="696.3" cy="361.7" rx="2.4" ry="1.8" fill="#4c4c4c"/>
<ellipse cx="690.8" cy="370.7" rx="3" ry="2" fill="#303030"/>
</g>
</g>
<text class="sf" x="375.8" y="265.0" font-size="7.8" font-weight="bold" fill="#f4f4f4" textLength="14.4" lengthAdjust="spacingAndGlyphs">Cine</text>
<text class="sf" x="427.5" y="265.0" font-size="7.8" font-weight="bold" fill="#f4f4f4" textLength="30.4" lengthAdjust="spacingAndGlyphs">Native T1</text>
<text class="sf" x="498.0" y="265.0" font-size="7.8" font-weight="bold" fill="#f4f4f4" textLength="11.0" lengthAdjust="spacingAndGlyphs">MD</text>
<text class="sf" x="558.7" y="265.0" font-size="7.8" font-weight="bold" fill="#f4f4f4" textLength="9.4" lengthAdjust="spacingAndGlyphs">FA</text>
<text class="sf" x="618.5" y="266.4" font-size="7.8" font-weight="bold" fill="#f4f4f4" textLength="10.4" lengthAdjust="spacingAndGlyphs">HA</text>
<text class="sf" x="679.0" y="266.4" font-size="7.8" font-weight="bold" fill="#f4f4f4" textLength="14.0" lengthAdjust="spacingAndGlyphs">E2A</text>
<circle cx="361.0" cy="279.4" r="7.7" fill="#ffffff" clip-path="url(#cA)"/>
<text class="ss" x="358.86" y="282.3" font-size="8.0" font-weight="bold" fill="#2e2e2e" textLength="4.27" lengthAdjust="spacingAndGlyphs">A</text>
<circle cx="420.7" cy="279.4" r="7.7" fill="#ffffff" clip-path="url(#cB)"/>
<text class="ss" x="418.56" y="282.3" font-size="8.0" font-weight="bold" fill="#2e2e2e" textLength="4.27" lengthAdjust="spacingAndGlyphs">B</text>
<circle cx="481.4" cy="279.4" r="7.7" fill="#ffffff" clip-path="url(#cC)"/>
<text class="ss" x="479.26" y="282.3" font-size="8.0" font-weight="bold" fill="#2e2e2e" textLength="4.27" lengthAdjust="spacingAndGlyphs">C</text>
<circle cx="541.2" cy="279.4" r="7.7" fill="#ffffff" clip-path="url(#cD)"/>
<text class="ss" x="539.06" y="282.3" font-size="8.0" font-weight="bold" fill="#2e2e2e" textLength="4.27" lengthAdjust="spacingAndGlyphs">D</text>
<circle cx="600.9" cy="279.4" r="7.7" fill="#ffffff" clip-path="url(#cE)"/>
<text class="ss" x="598.93" y="282.3" font-size="8.0" font-weight="bold" fill="#2e2e2e" textLength="3.95" lengthAdjust="spacingAndGlyphs">E</text>
<circle cx="660.9" cy="279.4" r="7.7" fill="#ffffff" clip-path="url(#cF)"/>
<text class="ss" x="659.09" y="282.3" font-size="8.0" font-weight="bold" fill="#2e2e2e" textLength="3.62" lengthAdjust="spacingAndGlyphs">F</text>
<circle cx="361.0" cy="338.4" r="7.7" fill="#ffffff" clip-path="url(#cG)"/>
<text class="ss" x="358.70" y="341.3" font-size="8.0" font-weight="bold" fill="#2e2e2e" textLength="4.61" lengthAdjust="spacingAndGlyphs">G</text>
<circle cx="420.7" cy="338.4" r="7.7" fill="#ffffff" clip-path="url(#cH)"/>
<text class="ss" x="418.56" y="341.3" font-size="8.0" font-weight="bold" fill="#2e2e2e" textLength="4.27" lengthAdjust="spacingAndGlyphs">H</text>
<circle cx="481.4" cy="338.4" r="7.7" fill="#ffffff" clip-path="url(#cI)"/>
<text class="ss" x="480.58" y="341.3" font-size="8.0" font-weight="bold" fill="#2e2e2e" textLength="1.65" lengthAdjust="spacingAndGlyphs">I</text>
<circle cx="541.2" cy="338.4" r="7.7" fill="#ffffff" clip-path="url(#cJ)"/>
<text class="ss" x="539.55" y="341.3" font-size="8.0" font-weight="bold" fill="#2e2e2e" textLength="3.29" lengthAdjust="spacingAndGlyphs">J</text>
<circle cx="600.9" cy="338.4" r="7.7" fill="#ffffff" clip-path="url(#cK)"/>
<text class="ss" x="598.76" y="341.3" font-size="8.0" font-weight="bold" fill="#2e2e2e" textLength="4.27" lengthAdjust="spacingAndGlyphs">K</text>
<circle cx="660.9" cy="338.4" r="7.7" fill="#ffffff" clip-path="url(#cL)"/>
<text class="ss" x="659.09" y="341.3" font-size="8.0" font-weight="bold" fill="#2e2e2e" textLength="3.62" lengthAdjust="spacingAndGlyphs">L</text>
<rect x="414.5" y="390.6" width="58.1" height="2" fill="url(#jet)"/>
<text class="ss" x="443.6" y="399.4" font-size="3.6" font-weight="bold" fill="#e8e8e8" text-anchor="middle">Native T1</text>
<text class="ss" x="416.0" y="395.6" font-size="3" fill="#d0d0d0" text-anchor="middle">1</text>
<text class="ss" x="443.6" y="395.6" font-size="3" fill="#d0d0d0" text-anchor="middle"></text>
<text class="ss" x="470.6" y="395.6" font-size="3" fill="#d0d0d0" text-anchor="middle"></text>
<rect x="479.0" y="390.6" width="49.0" height="2" fill="url(#jet)"/>
<text class="ss" x="503.5" y="399.4" font-size="3.6" font-weight="bold" fill="#e8e8e8" text-anchor="middle">MD</text>
<text class="ss" x="480.5" y="395.6" font-size="3" fill="#d0d0d0" text-anchor="middle">0.001</text>
<text class="ss" x="503.5" y="395.6" font-size="3" fill="#d0d0d0" text-anchor="middle">0.002</text>
<text class="ss" x="526.0" y="395.6" font-size="3" fill="#d0d0d0" text-anchor="middle">0.003</text>
<rect x="535.0" y="390.6" width="54.0" height="2" fill="url(#jetr)"/>
<text class="ss" x="562.0" y="399.4" font-size="3.6" font-weight="bold" fill="#e8e8e8" text-anchor="middle">FA</text>
<text class="ss" x="536.5" y="395.6" font-size="3" fill="#d0d0d0" text-anchor="middle">0.0</text>
<text class="ss" x="562.0" y="395.6" font-size="3" fill="#d0d0d0" text-anchor="middle">0.3</text>
<text class="ss" x="587.0" y="395.6" font-size="3" fill="#d0d0d0" text-anchor="middle">0.6</text>
<rect x="596.0" y="390.6" width="54.0" height="2" fill="url(#jet)"/>
<text class="ss" x="623.0" y="399.4" font-size="3.6" font-weight="bold" fill="#e8e8e8" text-anchor="middle">HA</text>
<text class="ss" x="597.5" y="395.6" font-size="3" fill="#d0d0d0" text-anchor="middle">-90</text>
<text class="ss" x="623.0" y="395.6" font-size="3" fill="#d0d0d0" text-anchor="middle">-11</text>
<text class="ss" x="648.0" y="395.6" font-size="3" fill="#d0d0d0" text-anchor="middle">120</text>
<rect x="656.0" y="390.6" width="55.0" height="2" fill="url(#jet)"/>
<text class="ss" x="683.5" y="399.4" font-size="3.6" font-weight="bold" fill="#e8e8e8" text-anchor="middle">E2A</text>
<text class="ss" x="657.5" y="395.6" font-size="3" fill="#d0d0d0" text-anchor="middle">0</text>
<text class="ss" x="683.5" y="395.6" font-size="3" fill="#d0d0d0" text-anchor="middle">45</text>
<text class="ss" x="709.0" y="395.6" font-size="3" fill="#d0d0d0" text-anchor="middle">90</text>
<rect x="354.0" y="401.1" width="359.0" height="0.9" fill="#3c3c3c"/>
<text class="ss" transform="translate(348.2,296.3) rotate(-90)" font-size="10.2" font-weight="bold" fill="#111" text-anchor="middle" textLength="35.8" lengthAdjust="spacingAndGlyphs">Control</text>
<text class="ss" transform="translate(348.2,355.0) rotate(-90)" font-size="10.2" font-weight="bold" fill="#111" text-anchor="middle" textLength="22.4" lengthAdjust="spacingAndGlyphs">HCM</text>
</g>
<g id="chart">
<line x1="849.5" y1="404.5" x2="1220.5" y2="33.2" stroke="#d6a3a5" stroke-width="0.85"/>
<path d="M849.5 404.8 L849.5 290.0 L849.5 263.5 L859.5 263.5 L859.5 258.5 L864.6 258.5 L864.6 256.5 L869.6 256.5 L869.6 245.9 L875.1 245.9 L875.1 218.9 L880.1 218.9 L880.1 203.3 L885.1 203.3 L885.1 198.3 L890.1 198.3 L890.1 194.6 L895.6 194.6 L895.6 174.5 L900.2 174.5 L900.2 170.0 L900.2 164.8 L916.4 164.8 L916.4 161.0 L926.5 161.0 L926.5 151.0 L932.2 151.0 L932.2 147.2 L937.2 147.2 L937.2 136.5 L942.3 136.5 L942.3 127.7 L947.8 127.7 L947.8 122.7 L952.8 122.7 L952.8 120.2 L960.1 120.2 L963.0 120.2 L963.0 118.4 L967.5 118.4 L967.5 111.9 L973.0 111.9 L973.0 109.6 L978.0 109.6 L978.0 108.1 L983.3 108.1 L983.3 101.4 L988.3 101.4 L988.3 98.9 L993.8 98.9 L993.8 97.1 L998.8 97.1 L998.8 95.1 L1008.9 95.1 L1008.9 92.6 L1013.9 92.6 L1013.9 90.6 L1019.4 90.6 L1019.4 87.6 L1024.7 87.6 L1024.7 85.8 L1029.7 85.8 L1029.7 83.8 L1035.2 83.8 L1035.2 78.3 L1045.2 78.3 L1045.2 73.3 L1055.2 73.3 L1055.2 71.3 L1080.1 71.3 L1081.3 71.3 L1081.3 69.4 L1107.1 69.4 L1107.1 67.6 L1112.1 67.6 L1112.1 63.9 L1133.1 63.9 L1133.1 55.1 L1138.1 55.1 L1138.1 52.6 L1143.2 52.6 L1143.2 47.6 L1179.0 47.6 L1179.0 45.8 L1189.5 45.8 L1189.5 44.3 L1194.5 44.3 L1194.5 42.6 L1200.1 42.6 L1200.1 37.1 L1220.7 37.1 L1220.7 33.3" fill="none" stroke="#3b3a9e" stroke-width="1.6" stroke-linejoin="miter"/>
<path d="M849.5 404.8 L849.5 313.3 L854.3 313.3 L854.3 290.0 L854.3 277.8 L859.5 277.8 L859.5 274.8 L864.6 274.8 L864.6 266.0 L869.6 266.0 L869.6 238.4 L875.1 238.4 L875.1 217.1 L880.6 217.1 L880.6 215.9 L890.1 215.9 L890.1 207.6 L895.6 207.6 L895.6 205.8 L900.7 205.8 L900.7 202.1 L905.7 202.1 L905.7 195.1 L916.4 195.1 L916.4 186.3 L921.5 186.3 L921.5 175.0 L926.5 175.0 L926.5 173.3 L932.2 173.3 L932.2 170.0 L932.2 165.3 L947.8 165.3 L947.8 154.5 L952.8 154.5 L952.8 152.3 L957.8 152.3 L957.8 145.2 L960.1 145.2 L962.5 145.2 L962.5 141.5 L968.0 141.5 L968.0 131.0 L978.0 131.0 L978.0 128.9 L983.3 128.9 L983.3 124.4 L988.3 124.4 L988.3 122.7 L998.8 122.7 L998.8 115.7 L1003.9 115.7 L1003.9 103.1 L1008.9 103.1 L1008.9 97.6 L1024.7 97.6 L1024.7 92.6 L1029.7 92.6 L1029.7 90.9 L1040.2 90.9 L1040.2 87.6 L1045.2 87.6 L1045.2 83.3 L1050.7 83.3 L1050.7 69.3 L1060.8 69.3 L1060.8 67.5 L1066.5 67.5 L1066.5 65.8 L1076.5 65.8 L1076.5 63.8 L1080.1 63.8 L1081.3 63.8 L1081.3 60.1 L1091.3 60.1 L1091.3 54.6 L1102.1 54.6 L1102.1 51.3 L1107.1 51.3 L1107.1 46.3 L1137.6 46.3 L1137.6 42.6 L1158.9 42.6 L1158.9 40.8 L1164.0 40.8 L1164.0 37.0 L1174.0 37.0 L1174.0 35.8 L1200.1 35.8 L1210.2 35.8 L1210.2 33.3 L1220.7 33.3" fill="none" stroke="#3b7a2b" stroke-width="1.6" stroke-linejoin="miter"/>
<path d="M849.5 404.8 L849.5 396.5 L854.3 396.5 L854.3 392.8 L859.5 392.8 L859.5 371.0 L865.1 371.0 L865.1 365.9 L870.1 365.9 L870.1 363.9 L875.1 363.9 L875.1 353.9 L880.1 353.9 L880.1 348.4 L885.1 348.4 L885.1 335.9 L890.9 335.9 L890.9 327.6 L900.7 327.6 L900.7 290.0 L906.4 290.0 L906.4 282.8 L911.4 282.8 L911.4 279.5 L921.5 279.5 L921.5 260.2 L926.5 260.2 L926.5 226.9 L932.2 226.9 L932.2 223.1 L942.3 223.1 L942.3 209.3 L947.3 209.3 L947.3 199.3 L952.3 199.3 L952.3 193.8 L957.3 193.8 L957.3 188.0 L963.1 188.0 L963.1 184.3 L973.1 184.3 L973.1 172.0 L978.1 172.0 L978.1 163.5 L983.3 163.5 L983.3 157.8 L988.3 157.8 L988.3 145.2 L998.8 145.2 L998.8 135.2 L1003.9 135.2 L1003.9 124.4 L1008.9 124.4 L1008.9 120.9 L1013.9 120.9 L1013.9 118.9 L1019.4 118.9 L1019.4 117.2 L1024.7 117.2 L1024.7 115.2 L1035.2 115.2 L1035.2 110.2 L1055.2 110.2 L1055.2 108.4 L1066.5 108.4 L1066.5 106.4 L1071.5 106.4 L1071.5 104.4 L1076.5 104.4 L1076.5 95.9 L1080.1 95.9 L1081.3 95.9 L1081.3 90.9 L1117.6 90.9 L1117.6 83.4 L1127.6 83.4 L1127.6 81.4 L1132.6 81.4 L1132.6 79.6 L1153.2 79.6 L1153.2 75.6 L1164.0 75.6 L1164.0 70.6 L1169.5 70.6 L1169.5 68.9 L1174.0 68.9 L1174.0 67.1 L1179.5 67.1 L1179.5 65.6 L1184.5 65.6 L1184.5 54.6 L1194.8 54.6 L1194.8 53.1 L1200.1 53.1 L1200.1 42.6 L1205.2 42.6 L1205.2 37.6 L1220.7 37.6 L1220.7 33.3" fill="none" stroke="#f47b36" stroke-width="1.6" stroke-linejoin="miter"/>
<line x1="837.9" y1="22.2" x2="837.9" y2="416.2" stroke="#333333" stroke-width="2"/>
<line x1="836.9" y1="415.2" x2="1233" y2="415.2" stroke="#333333" stroke-width="2"/>
<line x1="838" y1="404.50" x2="848.9" y2="404.50" stroke="#333333" stroke-width="1.6"/>
<line x1="849.50" y1="415.2" x2="849.50" y2="406.0" stroke="#333333" stroke-width="1.6"/>
<text class="sf" x="825.4" y="408.8" font-size="14.00" fill="#222" textLength="7.8" lengthAdjust="spacingAndGlyphs" stroke="#222" stroke-width="0.25" >0</text>
<text class="sf" x="845.7" y="432.0" font-size="14.00" fill="#222" textLength="7.6" lengthAdjust="spacingAndGlyphs" stroke="#222" stroke-width="0.25" >0</text>
<line x1="838" y1="385.94" x2="843.8" y2="385.94" stroke="#333333" stroke-width="1.2"/>
<line x1="868.05" y1="415.2" x2="868.05" y2="410.2" stroke="#333333" stroke-width="1.2"/>
<line x1="838" y1="367.38" x2="843.8" y2="367.38" stroke="#333333" stroke-width="1.2"/>
<line x1="886.60" y1="415.2" x2="886.60" y2="410.2" stroke="#333333" stroke-width="1.2"/>
<line x1="838" y1="348.81" x2="843.8" y2="348.81" stroke="#333333" stroke-width="1.2"/>
<line x1="905.15" y1="415.2" x2="905.15" y2="410.2" stroke="#333333" stroke-width="1.2"/>
<line x1="838" y1="330.25" x2="848.9" y2="330.25" stroke="#333333" stroke-width="1.6"/>
<line x1="923.70" y1="415.2" x2="923.70" y2="406.0" stroke="#333333" stroke-width="1.6"/>
<text class="sf" x="818.7" y="334.6" font-size="14.00" fill="#222" textLength="14.5" lengthAdjust="spacingAndGlyphs" stroke="#222" stroke-width="0.25" >20</text>
<text class="sf" x="916.6" y="432.0" font-size="14.00" fill="#222" textLength="14.3" lengthAdjust="spacingAndGlyphs" stroke="#222" stroke-width="0.25" >20</text>
<line x1="838" y1="311.69" x2="843.8" y2="311.69" stroke="#333333" stroke-width="1.2"/>
<line x1="942.25" y1="415.2" x2="942.25" y2="410.2" stroke="#333333" stroke-width="1.2"/>
<line x1="838" y1="293.12" x2="843.8" y2="293.12" stroke="#333333" stroke-width="1.2"/>
<line x1="960.80" y1="415.2" x2="960.80" y2="410.2" stroke="#333333" stroke-width="1.2"/>
<line x1="838" y1="274.56" x2="843.8" y2="274.56" stroke="#333333" stroke-width="1.2"/>
<line x1="979.35" y1="415.2" x2="979.35" y2="410.2" stroke="#333333" stroke-width="1.2"/>
<line x1="838" y1="256.00" x2="848.9" y2="256.00" stroke="#333333" stroke-width="1.6"/>
<line x1="997.90" y1="415.2" x2="997.90" y2="406.0" stroke="#333333" stroke-width="1.6"/>
<text class="sf" x="818.7" y="260.3" font-size="14.00" fill="#222" textLength="14.5" lengthAdjust="spacingAndGlyphs" stroke="#222" stroke-width="0.25" >40</text>
<text class="sf" x="990.8" y="432.0" font-size="14.00" fill="#222" textLength="14.3" lengthAdjust="spacingAndGlyphs" stroke="#222" stroke-width="0.25" >40</text>
<line x1="838" y1="237.44" x2="843.8" y2="237.44" stroke="#333333" stroke-width="1.2"/>
<line x1="1016.45" y1="415.2" x2="1016.45" y2="410.2" stroke="#333333" stroke-width="1.2"/>
<line x1="838" y1="218.88" x2="843.8" y2="218.88" stroke="#333333" stroke-width="1.2"/>
<line x1="1035.00" y1="415.2" x2="1035.00" y2="410.2" stroke="#333333" stroke-width="1.2"/>
<line x1="838" y1="200.31" x2="843.8" y2="200.31" stroke="#333333" stroke-width="1.2"/>
<line x1="1053.55" y1="415.2" x2="1053.55" y2="410.2" stroke="#333333" stroke-width="1.2"/>
<line x1="838" y1="181.75" x2="848.9" y2="181.75" stroke="#333333" stroke-width="1.6"/>
<line x1="1072.10" y1="415.2" x2="1072.10" y2="406.0" stroke="#333333" stroke-width="1.6"/>
<text class="sf" x="818.7" y="186.1" font-size="14.00" fill="#222" textLength="14.5" lengthAdjust="spacingAndGlyphs" stroke="#222" stroke-width="0.25" >60</text>
<text class="sf" x="1065.0" y="432.0" font-size="14.00" fill="#222" textLength="14.3" lengthAdjust="spacingAndGlyphs" stroke="#222" stroke-width="0.25" >60</text>
<line x1="838" y1="163.19" x2="843.8" y2="163.19" stroke="#333333" stroke-width="1.2"/>
<line x1="1090.65" y1="415.2" x2="1090.65" y2="410.2" stroke="#333333" stroke-width="1.2"/>
<line x1="838" y1="144.62" x2="843.8" y2="144.62" stroke="#333333" stroke-width="1.2"/>
<line x1="1109.20" y1="415.2" x2="1109.20" y2="410.2" stroke="#333333" stroke-width="1.2"/>
<line x1="838" y1="126.06" x2="843.8" y2="126.06" stroke="#333333" stroke-width="1.2"/>
<line x1="1127.75" y1="415.2" x2="1127.75" y2="410.2" stroke="#333333" stroke-width="1.2"/>
<line x1="838" y1="107.50" x2="848.9" y2="107.50" stroke="#333333" stroke-width="1.6"/>
<line x1="1146.30" y1="415.2" x2="1146.30" y2="406.0" stroke="#333333" stroke-width="1.6"/>
<text class="sf" x="818.7" y="111.8" font-size="14.00" fill="#222" textLength="14.5" lengthAdjust="spacingAndGlyphs" stroke="#222" stroke-width="0.25" >80</text>
<text class="sf" x="1139.2" y="432.0" font-size="14.00" fill="#222" textLength="14.3" lengthAdjust="spacingAndGlyphs" stroke="#222" stroke-width="0.25" >80</text>
<line x1="838" y1="88.94" x2="843.8" y2="88.94" stroke="#333333" stroke-width="1.2"/>
<line x1="1164.85" y1="415.2" x2="1164.85" y2="410.2" stroke="#333333" stroke-width="1.2"/>
<line x1="838" y1="70.38" x2="843.8" y2="70.38" stroke="#333333" stroke-width="1.2"/>
<line x1="1183.40" y1="415.2" x2="1183.40" y2="410.2" stroke="#333333" stroke-width="1.2"/>
<line x1="838" y1="51.81" x2="843.8" y2="51.81" stroke="#333333" stroke-width="1.2"/>
<line x1="1201.95" y1="415.2" x2="1201.95" y2="410.2" stroke="#333333" stroke-width="1.2"/>
<line x1="838" y1="33.25" x2="848.9" y2="33.25" stroke="#333333" stroke-width="1.6"/>
<line x1="1220.50" y1="415.2" x2="1220.50" y2="406.0" stroke="#333333" stroke-width="1.6"/>
<text class="sf" x="812.0" y="37.5" font-size="14.00" fill="#222" textLength="21.1" lengthAdjust="spacingAndGlyphs" stroke="#222" stroke-width="0.25" >100</text>
<text class="sf" x="1210.0" y="432.0" font-size="14.00" fill="#222" textLength="20.9" lengthAdjust="spacingAndGlyphs" stroke="#222" stroke-width="0.25" >100</text>
<text class="sf" x="993.7" y="452.3" font-size="14.00" fill="#222" textLength="83.3" lengthAdjust="spacingAndGlyphs" stroke="#222" stroke-width="0.25" >100-Specificity</text>
<text class="sf" transform="translate(795.3,218.7) rotate(-90)" font-size="14" fill="#222" stroke="#222" stroke-width="0.25" text-anchor="middle" textLength="57.5" lengthAdjust="spacingAndGlyphs">Sensitivity</text>
<rect x="1032.7" y="349.4" width="188" height="55.0" fill="#ffffff" stroke="#333" stroke-width="1.3"/>
<line x1="1037.9" y1="360.4" x2="1058.8" y2="360.4" stroke="#3b3a9e" stroke-width="1.4"/>
<text class="sf" x="1065.7" y="364.8" font-size="14.10" fill="#222" textLength="78.9" lengthAdjust="spacingAndGlyphs" stroke="#222" stroke-width="0.25" >FA AUC: 0.81</text>
<line x1="1037.9" y1="376.2" x2="1058.8" y2="376.2" stroke="#3b7a2b" stroke-width="1.4"/>
<text class="sf" x="1065.7" y="380.6" font-size="14.10" fill="#222" textLength="138.9" lengthAdjust="spacingAndGlyphs" stroke="#222" stroke-width="0.25" >Diastolic E2A AUC: 0.79</text>
<line x1="1037.9" y1="392.0" x2="1058.8" y2="392.0" stroke="#f47b36" stroke-width="1.4"/>
<text class="sf" x="1065.7" y="396.4" font-size="14.10" fill="#222" textLength="116.4" lengthAdjust="spacingAndGlyphs" stroke="#222" stroke-width="0.25" >Native T1 AUC: 0.67</text>
</g>
</svg>
</body></html>
